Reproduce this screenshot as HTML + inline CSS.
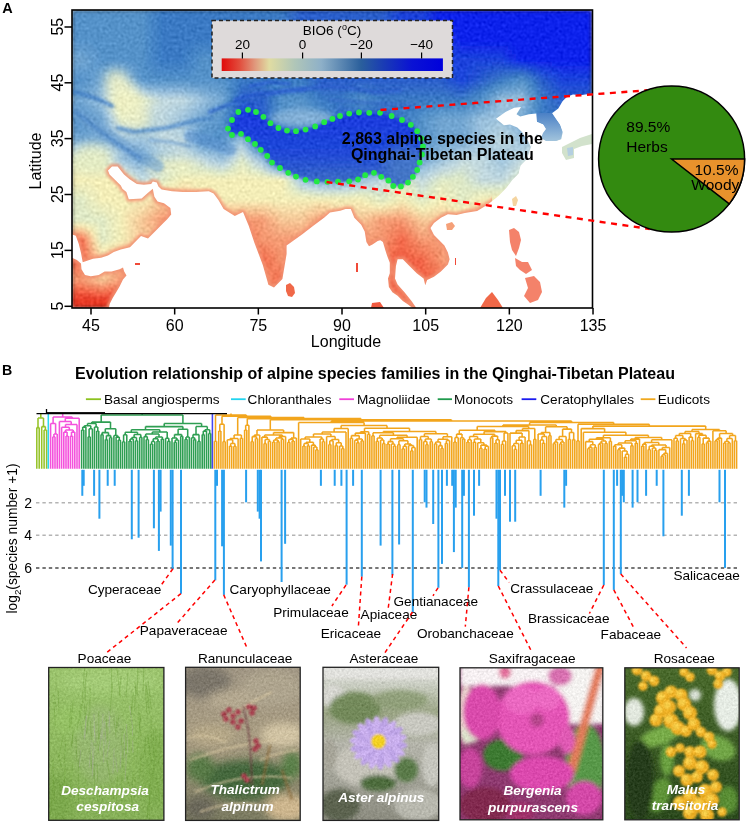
<!DOCTYPE html>
<html><head><meta charset="utf-8"><style>
html,body{margin:0;padding:0;background:#fff;width:750px;height:824px;overflow:hidden}
svg{display:block;will-change:transform}
text{font-family:"Liberation Sans", sans-serif;fill:#000}
</style></head><body>
<svg width="750" height="824" viewBox="0 0 750 824">
<defs>
<clipPath id="mapclip"><rect x="72" y="10" width="520" height="298"/></clipPath>
<linearGradient id="cbar" x1="0" x2="1" y1="0" y2="0"><stop offset="0" stop-color="#e00a0a"/><stop offset="0.08" stop-color="#e24c3c"/><stop offset="0.15" stop-color="#e0987c"/><stop offset="0.215" stop-color="#e0dca2"/><stop offset="0.33" stop-color="#b0c6b8"/><stop offset="0.45" stop-color="#8eb0c8"/><stop offset="0.63" stop-color="#2a5f9c"/><stop offset="0.73" stop-color="#1a3cb4"/><stop offset="0.86" stop-color="#0a12d4"/><stop offset="1" stop-color="#0000dc"/></linearGradient>
<filter id="blur1" x="-5%" y="-5%" width="110%" height="110%"><feGaussianBlur stdDeviation="2.2"/></filter>
</defs>
<g clip-path="url(#mapclip)">
<filter id="fgrain" x="72" y="10" width="520" height="298" filterUnits="userSpaceOnUse" color-interpolation-filters="sRGB"><feTurbulence type="fractalNoise" baseFrequency="0.33" numOctaves="1" seed="4" result="t"/><feColorMatrix in="t" type="matrix" values="0.33 0.33 0.33 0 0  0.33 0.33 0.33 0 0  0.33 0.33 0.33 0 0  0 0 0 0 1" result="tg"/><feComposite in="SourceGraphic" in2="tg" operator="arithmetic" k1="0" k2="1" k3="0.3" k4="-0.15"/></filter>
<g filter="url(#fgrain)">
<g filter="url(#blur1)">
<rect x="72" y="10" width="72" height="4" fill="#5592c9"/>
<rect x="144" y="10" width="4" height="4" fill="#508dc8"/>
<rect x="148" y="10" width="4" height="4" fill="#4a88c7"/>
<rect x="152" y="10" width="4" height="4" fill="#4584c6"/>
<rect x="156" y="10" width="4" height="4" fill="#3f7fc5"/>
<rect x="160" y="10" width="124" height="4" fill="#3a7ac4"/>
<rect x="284" y="10" width="4" height="4" fill="#3774c6"/>
<rect x="288" y="10" width="4" height="4" fill="#346fc7"/>
<rect x="292" y="10" width="4" height="4" fill="#3069c9"/>
<rect x="296" y="10" width="4" height="4" fill="#2d64ca"/>
<rect x="300" y="10" width="84" height="4" fill="#2a5ecc"/>
<rect x="384" y="10" width="4" height="4" fill="#2758cf"/>
<rect x="388" y="10" width="4" height="4" fill="#2453d2"/>
<rect x="392" y="10" width="4" height="4" fill="#224dd6"/>
<rect x="396" y="10" width="4" height="4" fill="#1f48d9"/>
<rect x="400" y="10" width="24" height="4" fill="#1c42dc"/>
<rect x="424" y="10" width="4" height="4" fill="#193cdf"/>
<rect x="428" y="10" width="4" height="4" fill="#1635e2"/>
<rect x="432" y="10" width="4" height="4" fill="#122fe6"/>
<rect x="436" y="10" width="4" height="4" fill="#0f28e9"/>
<rect x="440" y="10" width="152" height="4" fill="#0c22ec"/>
<rect x="72" y="14" width="72" height="4" fill="#5592c9"/>
<rect x="144" y="14" width="4" height="4" fill="#508dc8"/>
<rect x="148" y="14" width="4" height="4" fill="#4a88c7"/>
<rect x="152" y="14" width="4" height="4" fill="#4584c6"/>
<rect x="156" y="14" width="4" height="4" fill="#3f7fc5"/>
<rect x="160" y="14" width="124" height="4" fill="#3a7ac4"/>
<rect x="284" y="14" width="4" height="4" fill="#3774c6"/>
<rect x="288" y="14" width="4" height="4" fill="#346fc7"/>
<rect x="292" y="14" width="4" height="4" fill="#3069c9"/>
<rect x="296" y="14" width="4" height="4" fill="#2d64ca"/>
<rect x="300" y="14" width="84" height="4" fill="#2a5ecc"/>
<rect x="384" y="14" width="4" height="4" fill="#2758cf"/>
<rect x="388" y="14" width="4" height="4" fill="#2453d2"/>
<rect x="392" y="14" width="4" height="4" fill="#224dd6"/>
<rect x="396" y="14" width="4" height="4" fill="#1f48d9"/>
<rect x="400" y="14" width="24" height="4" fill="#1c42dc"/>
<rect x="424" y="14" width="4" height="4" fill="#193cdf"/>
<rect x="428" y="14" width="4" height="4" fill="#1635e2"/>
<rect x="432" y="14" width="4" height="4" fill="#122fe6"/>
<rect x="436" y="14" width="4" height="4" fill="#0f28e9"/>
<rect x="440" y="14" width="152" height="4" fill="#0c22ec"/>
<rect x="72" y="18" width="72" height="4" fill="#5592c9"/>
<rect x="144" y="18" width="4" height="4" fill="#508dc8"/>
<rect x="148" y="18" width="4" height="4" fill="#4a88c7"/>
<rect x="152" y="18" width="4" height="4" fill="#4584c6"/>
<rect x="156" y="18" width="4" height="4" fill="#3f7fc5"/>
<rect x="160" y="18" width="124" height="4" fill="#3a7ac4"/>
<rect x="284" y="18" width="4" height="4" fill="#3774c6"/>
<rect x="288" y="18" width="4" height="4" fill="#346fc7"/>
<rect x="292" y="18" width="4" height="4" fill="#3069c9"/>
<rect x="296" y="18" width="4" height="4" fill="#2d64ca"/>
<rect x="300" y="18" width="84" height="4" fill="#2a5ecc"/>
<rect x="384" y="18" width="4" height="4" fill="#2758cf"/>
<rect x="388" y="18" width="4" height="4" fill="#2453d2"/>
<rect x="392" y="18" width="4" height="4" fill="#224dd6"/>
<rect x="396" y="18" width="4" height="4" fill="#1f48d9"/>
<rect x="400" y="18" width="24" height="4" fill="#1c42dc"/>
<rect x="424" y="18" width="4" height="4" fill="#193cdf"/>
<rect x="428" y="18" width="4" height="4" fill="#1635e2"/>
<rect x="432" y="18" width="4" height="4" fill="#122fe6"/>
<rect x="436" y="18" width="4" height="4" fill="#0f28e9"/>
<rect x="440" y="18" width="152" height="4" fill="#0c22ec"/>
<rect x="72" y="22" width="72" height="4" fill="#5592c9"/>
<rect x="144" y="22" width="4" height="4" fill="#508dc8"/>
<rect x="148" y="22" width="4" height="4" fill="#4a88c7"/>
<rect x="152" y="22" width="4" height="4" fill="#4584c6"/>
<rect x="156" y="22" width="4" height="4" fill="#3f7fc5"/>
<rect x="160" y="22" width="124" height="4" fill="#3a7ac4"/>
<rect x="284" y="22" width="4" height="4" fill="#3774c6"/>
<rect x="288" y="22" width="4" height="4" fill="#346fc7"/>
<rect x="292" y="22" width="4" height="4" fill="#3069c9"/>
<rect x="296" y="22" width="4" height="4" fill="#2d64ca"/>
<rect x="300" y="22" width="72" height="4" fill="#2a5ecc"/>
<rect x="372" y="22" width="12" height="4" fill="#2758cf"/>
<rect x="384" y="22" width="4" height="4" fill="#2453d2"/>
<rect x="388" y="22" width="8" height="4" fill="#224dd6"/>
<rect x="396" y="22" width="4" height="4" fill="#1f48d9"/>
<rect x="400" y="22" width="24" height="4" fill="#1c42dc"/>
<rect x="424" y="22" width="4" height="4" fill="#193cdf"/>
<rect x="428" y="22" width="8" height="4" fill="#1635e2"/>
<rect x="436" y="22" width="4" height="4" fill="#122fe6"/>
<rect x="440" y="22" width="12" height="4" fill="#0f28e9"/>
<rect x="452" y="22" width="140" height="4" fill="#0c22ec"/>
<rect x="72" y="26" width="72" height="4" fill="#5592c9"/>
<rect x="144" y="26" width="4" height="4" fill="#508dc8"/>
<rect x="148" y="26" width="4" height="4" fill="#4a88c7"/>
<rect x="152" y="26" width="4" height="4" fill="#4584c6"/>
<rect x="156" y="26" width="4" height="4" fill="#3f7fc5"/>
<rect x="160" y="26" width="124" height="4" fill="#3a7ac4"/>
<rect x="284" y="26" width="4" height="4" fill="#3774c6"/>
<rect x="288" y="26" width="4" height="4" fill="#346fc7"/>
<rect x="292" y="26" width="4" height="4" fill="#3069c9"/>
<rect x="296" y="26" width="4" height="4" fill="#2d64ca"/>
<rect x="300" y="26" width="68" height="4" fill="#2a5ecc"/>
<rect x="368" y="26" width="8" height="4" fill="#2758cf"/>
<rect x="376" y="26" width="8" height="4" fill="#2453d2"/>
<rect x="384" y="26" width="8" height="4" fill="#224dd6"/>
<rect x="392" y="26" width="8" height="4" fill="#1f48d9"/>
<rect x="400" y="26" width="24" height="4" fill="#1c42dc"/>
<rect x="424" y="26" width="8" height="4" fill="#193cdf"/>
<rect x="432" y="26" width="8" height="4" fill="#1635e2"/>
<rect x="440" y="26" width="8" height="4" fill="#122fe6"/>
<rect x="448" y="26" width="8" height="4" fill="#0f28e9"/>
<rect x="456" y="26" width="136" height="4" fill="#0c22ec"/>
<rect x="72" y="30" width="72" height="4" fill="#5592c9"/>
<rect x="144" y="30" width="4" height="4" fill="#508dc8"/>
<rect x="148" y="30" width="4" height="4" fill="#4a88c7"/>
<rect x="152" y="30" width="4" height="4" fill="#4584c6"/>
<rect x="156" y="30" width="4" height="4" fill="#3f7fc5"/>
<rect x="160" y="30" width="124" height="4" fill="#3a7ac4"/>
<rect x="284" y="30" width="4" height="4" fill="#3774c6"/>
<rect x="288" y="30" width="4" height="4" fill="#346fc7"/>
<rect x="292" y="30" width="4" height="4" fill="#3069c9"/>
<rect x="296" y="30" width="4" height="4" fill="#2d64ca"/>
<rect x="300" y="30" width="64" height="4" fill="#2a5ecc"/>
<rect x="364" y="30" width="8" height="4" fill="#2758cf"/>
<rect x="372" y="30" width="8" height="4" fill="#2453d2"/>
<rect x="380" y="30" width="8" height="4" fill="#224dd6"/>
<rect x="388" y="30" width="8" height="4" fill="#1f48d9"/>
<rect x="396" y="30" width="32" height="4" fill="#1c42dc"/>
<rect x="428" y="30" width="8" height="4" fill="#193cdf"/>
<rect x="436" y="30" width="8" height="4" fill="#1635e2"/>
<rect x="444" y="30" width="8" height="4" fill="#122fe6"/>
<rect x="452" y="30" width="8" height="4" fill="#0f28e9"/>
<rect x="460" y="30" width="132" height="4" fill="#0c22ec"/>
<rect x="72" y="34" width="72" height="4" fill="#5592c9"/>
<rect x="144" y="34" width="4" height="4" fill="#508dc8"/>
<rect x="148" y="34" width="4" height="4" fill="#4a88c7"/>
<rect x="152" y="34" width="4" height="4" fill="#4584c6"/>
<rect x="156" y="34" width="4" height="4" fill="#3f7fc5"/>
<rect x="160" y="34" width="124" height="4" fill="#3a7ac4"/>
<rect x="284" y="34" width="4" height="4" fill="#3774c6"/>
<rect x="288" y="34" width="4" height="4" fill="#346fc7"/>
<rect x="292" y="34" width="4" height="4" fill="#3069c9"/>
<rect x="296" y="34" width="4" height="4" fill="#2d64ca"/>
<rect x="300" y="34" width="64" height="4" fill="#2a5ecc"/>
<rect x="364" y="34" width="4" height="4" fill="#2758cf"/>
<rect x="368" y="34" width="8" height="4" fill="#2453d2"/>
<rect x="376" y="34" width="4" height="4" fill="#224dd6"/>
<rect x="380" y="34" width="12" height="4" fill="#1f48d9"/>
<rect x="392" y="34" width="40" height="4" fill="#1c42dc"/>
<rect x="432" y="34" width="12" height="4" fill="#193cdf"/>
<rect x="444" y="34" width="4" height="4" fill="#1635e2"/>
<rect x="448" y="34" width="8" height="4" fill="#122fe6"/>
<rect x="456" y="34" width="4" height="4" fill="#0f28e9"/>
<rect x="460" y="34" width="132" height="4" fill="#0c22ec"/>
<rect x="72" y="38" width="72" height="4" fill="#5592c9"/>
<rect x="144" y="38" width="4" height="4" fill="#508dc8"/>
<rect x="148" y="38" width="4" height="4" fill="#4a88c7"/>
<rect x="152" y="38" width="4" height="4" fill="#4584c6"/>
<rect x="156" y="38" width="4" height="4" fill="#3f7fc5"/>
<rect x="160" y="38" width="124" height="4" fill="#3a7ac4"/>
<rect x="284" y="38" width="4" height="4" fill="#3774c6"/>
<rect x="288" y="38" width="4" height="4" fill="#346fc7"/>
<rect x="292" y="38" width="4" height="4" fill="#3069c9"/>
<rect x="296" y="38" width="4" height="4" fill="#2d64ca"/>
<rect x="300" y="38" width="64" height="4" fill="#2a5ecc"/>
<rect x="364" y="38" width="4" height="4" fill="#2758cf"/>
<rect x="368" y="38" width="4" height="4" fill="#2453d2"/>
<rect x="372" y="38" width="4" height="4" fill="#224dd6"/>
<rect x="376" y="38" width="4" height="4" fill="#1f48d9"/>
<rect x="380" y="38" width="64" height="4" fill="#1c42dc"/>
<rect x="444" y="38" width="4" height="4" fill="#193cdf"/>
<rect x="448" y="38" width="4" height="4" fill="#1635e2"/>
<rect x="452" y="38" width="4" height="4" fill="#122fe6"/>
<rect x="456" y="38" width="4" height="4" fill="#0f28e9"/>
<rect x="460" y="38" width="132" height="4" fill="#0c22ec"/>
<rect x="72" y="42" width="20" height="4" fill="#5b96cb"/>
<rect x="92" y="42" width="52" height="4" fill="#5592c9"/>
<rect x="144" y="42" width="4" height="4" fill="#508dc8"/>
<rect x="148" y="42" width="4" height="4" fill="#4a88c7"/>
<rect x="152" y="42" width="4" height="4" fill="#4584c6"/>
<rect x="156" y="42" width="4" height="4" fill="#3f7fc5"/>
<rect x="160" y="42" width="32" height="4" fill="#3a7ac4"/>
<rect x="192" y="42" width="40" height="4" fill="#3f7fc5"/>
<rect x="232" y="42" width="52" height="4" fill="#3a7ac4"/>
<rect x="284" y="42" width="4" height="4" fill="#3774c6"/>
<rect x="288" y="42" width="8" height="4" fill="#346fc7"/>
<rect x="296" y="42" width="4" height="4" fill="#3069c9"/>
<rect x="300" y="42" width="32" height="4" fill="#2d64ca"/>
<rect x="332" y="42" width="32" height="4" fill="#2a5ecc"/>
<rect x="364" y="42" width="4" height="4" fill="#2758cf"/>
<rect x="368" y="42" width="8" height="4" fill="#2453d2"/>
<rect x="376" y="42" width="4" height="4" fill="#224dd6"/>
<rect x="380" y="42" width="32" height="4" fill="#1f48d9"/>
<rect x="412" y="42" width="32" height="4" fill="#1c42dc"/>
<rect x="444" y="42" width="4" height="4" fill="#193cdf"/>
<rect x="448" y="42" width="8" height="4" fill="#1635e2"/>
<rect x="456" y="42" width="4" height="4" fill="#122fe6"/>
<rect x="460" y="42" width="52" height="4" fill="#0f28e9"/>
<rect x="512" y="42" width="80" height="4" fill="#0c22ec"/>
<rect x="72" y="46" width="16" height="4" fill="#619acd"/>
<rect x="88" y="46" width="8" height="4" fill="#5b96cb"/>
<rect x="96" y="46" width="48" height="4" fill="#5592c9"/>
<rect x="144" y="46" width="4" height="4" fill="#508dc8"/>
<rect x="148" y="46" width="4" height="4" fill="#4a88c7"/>
<rect x="152" y="46" width="4" height="4" fill="#4584c6"/>
<rect x="156" y="46" width="4" height="4" fill="#3f7fc5"/>
<rect x="160" y="46" width="28" height="4" fill="#3a7ac4"/>
<rect x="188" y="46" width="8" height="4" fill="#3f7fc5"/>
<rect x="196" y="46" width="32" height="4" fill="#4584c6"/>
<rect x="228" y="46" width="8" height="4" fill="#3f7fc5"/>
<rect x="236" y="46" width="48" height="4" fill="#3a7ac4"/>
<rect x="284" y="46" width="8" height="4" fill="#3774c6"/>
<rect x="292" y="46" width="8" height="4" fill="#346fc7"/>
<rect x="300" y="46" width="28" height="4" fill="#3069c9"/>
<rect x="328" y="46" width="8" height="4" fill="#2d64ca"/>
<rect x="336" y="46" width="28" height="4" fill="#2a5ecc"/>
<rect x="364" y="46" width="8" height="4" fill="#2758cf"/>
<rect x="372" y="46" width="8" height="4" fill="#2453d2"/>
<rect x="380" y="46" width="28" height="4" fill="#224dd6"/>
<rect x="408" y="46" width="8" height="4" fill="#1f48d9"/>
<rect x="416" y="46" width="28" height="4" fill="#1c42dc"/>
<rect x="444" y="46" width="8" height="4" fill="#193cdf"/>
<rect x="452" y="46" width="8" height="4" fill="#1635e2"/>
<rect x="460" y="46" width="48" height="4" fill="#122fe6"/>
<rect x="508" y="46" width="8" height="4" fill="#0f28e9"/>
<rect x="516" y="46" width="76" height="4" fill="#0c22ec"/>
<rect x="72" y="50" width="12" height="4" fill="#669ece"/>
<rect x="84" y="50" width="8" height="4" fill="#619acd"/>
<rect x="92" y="50" width="8" height="4" fill="#5b96cb"/>
<rect x="100" y="50" width="44" height="4" fill="#5592c9"/>
<rect x="144" y="50" width="4" height="4" fill="#508dc8"/>
<rect x="148" y="50" width="4" height="4" fill="#4a88c7"/>
<rect x="152" y="50" width="4" height="4" fill="#4584c6"/>
<rect x="156" y="50" width="4" height="4" fill="#3f7fc5"/>
<rect x="160" y="50" width="24" height="4" fill="#3a7ac4"/>
<rect x="184" y="50" width="8" height="4" fill="#3f7fc5"/>
<rect x="192" y="50" width="8" height="4" fill="#4584c6"/>
<rect x="200" y="50" width="24" height="4" fill="#4a88c7"/>
<rect x="224" y="50" width="8" height="4" fill="#4584c6"/>
<rect x="232" y="50" width="8" height="4" fill="#3f7fc5"/>
<rect x="240" y="50" width="48" height="4" fill="#3a7ac4"/>
<rect x="288" y="50" width="8" height="4" fill="#3774c6"/>
<rect x="296" y="50" width="28" height="4" fill="#346fc7"/>
<rect x="324" y="50" width="8" height="4" fill="#3069c9"/>
<rect x="332" y="50" width="8" height="4" fill="#2d64ca"/>
<rect x="340" y="50" width="28" height="4" fill="#2a5ecc"/>
<rect x="368" y="50" width="8" height="4" fill="#2758cf"/>
<rect x="376" y="50" width="28" height="4" fill="#2453d2"/>
<rect x="404" y="50" width="8" height="4" fill="#224dd6"/>
<rect x="412" y="50" width="8" height="4" fill="#1f48d9"/>
<rect x="420" y="50" width="28" height="4" fill="#1c42dc"/>
<rect x="448" y="50" width="8" height="4" fill="#193cdf"/>
<rect x="456" y="50" width="48" height="4" fill="#1635e2"/>
<rect x="504" y="50" width="8" height="4" fill="#122fe6"/>
<rect x="512" y="50" width="8" height="4" fill="#0f28e9"/>
<rect x="520" y="50" width="72" height="4" fill="#0c22ec"/>
<rect x="72" y="54" width="12" height="4" fill="#6ca2d0"/>
<rect x="84" y="54" width="4" height="4" fill="#669ece"/>
<rect x="88" y="54" width="8" height="4" fill="#619acd"/>
<rect x="96" y="54" width="4" height="4" fill="#5b96cb"/>
<rect x="100" y="54" width="44" height="4" fill="#5592c9"/>
<rect x="144" y="54" width="4" height="4" fill="#508dc8"/>
<rect x="148" y="54" width="4" height="4" fill="#4a88c7"/>
<rect x="152" y="54" width="4" height="4" fill="#4584c6"/>
<rect x="156" y="54" width="4" height="4" fill="#3f7fc5"/>
<rect x="160" y="54" width="24" height="4" fill="#3a7ac4"/>
<rect x="184" y="54" width="4" height="4" fill="#3f7fc5"/>
<rect x="188" y="54" width="8" height="4" fill="#4584c6"/>
<rect x="196" y="54" width="4" height="4" fill="#4a88c7"/>
<rect x="200" y="54" width="24" height="4" fill="#508dc8"/>
<rect x="224" y="54" width="4" height="4" fill="#4a88c7"/>
<rect x="228" y="54" width="8" height="4" fill="#4584c6"/>
<rect x="236" y="54" width="4" height="4" fill="#3f7fc5"/>
<rect x="240" y="54" width="52" height="4" fill="#3a7ac4"/>
<rect x="292" y="54" width="32" height="4" fill="#3774c6"/>
<rect x="324" y="54" width="4" height="4" fill="#346fc7"/>
<rect x="328" y="54" width="8" height="4" fill="#3069c9"/>
<rect x="336" y="54" width="4" height="4" fill="#2d64ca"/>
<rect x="340" y="54" width="32" height="4" fill="#2a5ecc"/>
<rect x="372" y="54" width="32" height="4" fill="#2758cf"/>
<rect x="404" y="54" width="4" height="4" fill="#2453d2"/>
<rect x="408" y="54" width="8" height="4" fill="#224dd6"/>
<rect x="416" y="54" width="4" height="4" fill="#1f48d9"/>
<rect x="420" y="54" width="32" height="4" fill="#1c42dc"/>
<rect x="452" y="54" width="52" height="4" fill="#193cdf"/>
<rect x="504" y="54" width="4" height="4" fill="#1635e2"/>
<rect x="508" y="54" width="8" height="4" fill="#122fe6"/>
<rect x="516" y="54" width="4" height="4" fill="#0f28e9"/>
<rect x="520" y="54" width="72" height="4" fill="#0c22ec"/>
<rect x="72" y="58" width="12" height="4" fill="#72a6d2"/>
<rect x="84" y="58" width="4" height="4" fill="#6ca2d0"/>
<rect x="88" y="58" width="4" height="4" fill="#669ece"/>
<rect x="92" y="58" width="4" height="4" fill="#619acd"/>
<rect x="96" y="58" width="4" height="4" fill="#5b96cb"/>
<rect x="100" y="58" width="44" height="4" fill="#5592c9"/>
<rect x="144" y="58" width="4" height="4" fill="#508dc8"/>
<rect x="148" y="58" width="4" height="4" fill="#4a88c7"/>
<rect x="152" y="58" width="4" height="4" fill="#4584c6"/>
<rect x="156" y="58" width="4" height="4" fill="#3f7fc5"/>
<rect x="160" y="58" width="24" height="4" fill="#3a7ac4"/>
<rect x="184" y="58" width="4" height="4" fill="#3f7fc5"/>
<rect x="188" y="58" width="4" height="4" fill="#4584c6"/>
<rect x="192" y="58" width="4" height="4" fill="#4a88c7"/>
<rect x="196" y="58" width="4" height="4" fill="#508dc8"/>
<rect x="200" y="58" width="24" height="4" fill="#5592c9"/>
<rect x="224" y="58" width="4" height="4" fill="#508dc8"/>
<rect x="228" y="58" width="4" height="4" fill="#4a88c7"/>
<rect x="232" y="58" width="4" height="4" fill="#4584c6"/>
<rect x="236" y="58" width="4" height="4" fill="#3f7fc5"/>
<rect x="240" y="58" width="84" height="4" fill="#3a7ac4"/>
<rect x="324" y="58" width="4" height="4" fill="#3774c6"/>
<rect x="328" y="58" width="4" height="4" fill="#346fc7"/>
<rect x="332" y="58" width="4" height="4" fill="#3069c9"/>
<rect x="336" y="58" width="4" height="4" fill="#2d64ca"/>
<rect x="340" y="58" width="64" height="4" fill="#2a5ecc"/>
<rect x="404" y="58" width="4" height="4" fill="#2758cf"/>
<rect x="408" y="58" width="4" height="4" fill="#2453d2"/>
<rect x="412" y="58" width="4" height="4" fill="#224dd6"/>
<rect x="416" y="58" width="4" height="4" fill="#1f48d9"/>
<rect x="420" y="58" width="84" height="4" fill="#1c42dc"/>
<rect x="504" y="58" width="4" height="4" fill="#193cdf"/>
<rect x="508" y="58" width="4" height="4" fill="#1635e2"/>
<rect x="512" y="58" width="4" height="4" fill="#122fe6"/>
<rect x="516" y="58" width="4" height="4" fill="#0f28e9"/>
<rect x="520" y="58" width="72" height="4" fill="#0c22ec"/>
<rect x="72" y="62" width="12" height="4" fill="#6ca2d0"/>
<rect x="84" y="62" width="8" height="4" fill="#669ece"/>
<rect x="92" y="62" width="8" height="4" fill="#619acd"/>
<rect x="100" y="62" width="12" height="4" fill="#5b96cb"/>
<rect x="112" y="62" width="16" height="4" fill="#619acd"/>
<rect x="128" y="62" width="8" height="4" fill="#5b96cb"/>
<rect x="136" y="62" width="8" height="4" fill="#5592c9"/>
<rect x="144" y="62" width="4" height="4" fill="#508dc8"/>
<rect x="148" y="62" width="8" height="4" fill="#4a88c7"/>
<rect x="156" y="62" width="4" height="4" fill="#4584c6"/>
<rect x="160" y="62" width="24" height="4" fill="#3f7fc5"/>
<rect x="184" y="62" width="4" height="4" fill="#4584c6"/>
<rect x="188" y="62" width="8" height="4" fill="#4a88c7"/>
<rect x="196" y="62" width="4" height="4" fill="#508dc8"/>
<rect x="200" y="62" width="24" height="4" fill="#5592c9"/>
<rect x="224" y="62" width="4" height="4" fill="#508dc8"/>
<rect x="228" y="62" width="4" height="4" fill="#4a88c7"/>
<rect x="232" y="62" width="4" height="4" fill="#4584c6"/>
<rect x="236" y="62" width="4" height="4" fill="#3f7fc5"/>
<rect x="240" y="62" width="72" height="4" fill="#3a7ac4"/>
<rect x="312" y="62" width="12" height="4" fill="#3774c6"/>
<rect x="324" y="62" width="4" height="4" fill="#346fc7"/>
<rect x="328" y="62" width="8" height="4" fill="#3069c9"/>
<rect x="336" y="62" width="4" height="4" fill="#2d64ca"/>
<rect x="340" y="62" width="64" height="4" fill="#2a5ecc"/>
<rect x="404" y="62" width="4" height="4" fill="#2758cf"/>
<rect x="408" y="62" width="8" height="4" fill="#2453d2"/>
<rect x="416" y="62" width="4" height="4" fill="#224dd6"/>
<rect x="420" y="62" width="32" height="4" fill="#1f48d9"/>
<rect x="452" y="62" width="20" height="4" fill="#1c42dc"/>
<rect x="472" y="62" width="20" height="4" fill="#1f48d9"/>
<rect x="492" y="62" width="12" height="4" fill="#224dd6"/>
<rect x="504" y="62" width="8" height="4" fill="#1f48d9"/>
<rect x="512" y="62" width="8" height="4" fill="#1c42dc"/>
<rect x="520" y="62" width="8" height="4" fill="#193cdf"/>
<rect x="528" y="62" width="8" height="4" fill="#1635e2"/>
<rect x="536" y="62" width="16" height="4" fill="#122fe6"/>
<rect x="552" y="62" width="40" height="4" fill="#0f28e9"/>
<rect x="72" y="66" width="20" height="4" fill="#669ece"/>
<rect x="92" y="66" width="16" height="4" fill="#619acd"/>
<rect x="108" y="66" width="8" height="4" fill="#669ece"/>
<rect x="116" y="66" width="8" height="4" fill="#6ca2d0"/>
<rect x="124" y="66" width="4" height="4" fill="#669ece"/>
<rect x="128" y="66" width="8" height="4" fill="#619acd"/>
<rect x="136" y="66" width="4" height="4" fill="#5b96cb"/>
<rect x="140" y="66" width="4" height="4" fill="#5592c9"/>
<rect x="144" y="66" width="8" height="4" fill="#508dc8"/>
<rect x="152" y="66" width="8" height="4" fill="#4a88c7"/>
<rect x="160" y="66" width="24" height="4" fill="#4584c6"/>
<rect x="184" y="66" width="8" height="4" fill="#4a88c7"/>
<rect x="192" y="66" width="8" height="4" fill="#508dc8"/>
<rect x="200" y="66" width="24" height="4" fill="#5592c9"/>
<rect x="224" y="66" width="4" height="4" fill="#508dc8"/>
<rect x="228" y="66" width="4" height="4" fill="#4a88c7"/>
<rect x="232" y="66" width="4" height="4" fill="#4584c6"/>
<rect x="236" y="66" width="4" height="4" fill="#3f7fc5"/>
<rect x="240" y="66" width="68" height="4" fill="#3a7ac4"/>
<rect x="308" y="66" width="8" height="4" fill="#3774c6"/>
<rect x="316" y="66" width="8" height="4" fill="#346fc7"/>
<rect x="324" y="66" width="8" height="4" fill="#3069c9"/>
<rect x="332" y="66" width="8" height="4" fill="#2d64ca"/>
<rect x="340" y="66" width="64" height="4" fill="#2a5ecc"/>
<rect x="404" y="66" width="8" height="4" fill="#2758cf"/>
<rect x="412" y="66" width="8" height="4" fill="#2453d2"/>
<rect x="420" y="66" width="28" height="4" fill="#224dd6"/>
<rect x="448" y="66" width="8" height="4" fill="#1f48d9"/>
<rect x="456" y="66" width="12" height="4" fill="#1c42dc"/>
<rect x="468" y="66" width="8" height="4" fill="#1f48d9"/>
<rect x="476" y="66" width="12" height="4" fill="#224dd6"/>
<rect x="488" y="66" width="8" height="4" fill="#2453d2"/>
<rect x="496" y="66" width="16" height="4" fill="#2758cf"/>
<rect x="512" y="66" width="12" height="4" fill="#2453d2"/>
<rect x="524" y="66" width="4" height="4" fill="#224dd6"/>
<rect x="528" y="66" width="8" height="4" fill="#1f48d9"/>
<rect x="536" y="66" width="4" height="4" fill="#1c42dc"/>
<rect x="540" y="66" width="8" height="4" fill="#193cdf"/>
<rect x="548" y="66" width="8" height="4" fill="#1635e2"/>
<rect x="556" y="66" width="36" height="4" fill="#122fe6"/>
<rect x="72" y="70" width="20" height="4" fill="#619acd"/>
<rect x="92" y="70" width="12" height="4" fill="#669ece"/>
<rect x="104" y="70" width="8" height="4" fill="#6ca2d0"/>
<rect x="112" y="70" width="8" height="4" fill="#72a6d2"/>
<rect x="120" y="70" width="4" height="4" fill="#7aacd4"/>
<rect x="124" y="70" width="4" height="4" fill="#72a6d2"/>
<rect x="128" y="70" width="4" height="4" fill="#6ca2d0"/>
<rect x="132" y="70" width="4" height="4" fill="#619acd"/>
<rect x="136" y="70" width="4" height="4" fill="#5b96cb"/>
<rect x="140" y="70" width="8" height="4" fill="#5592c9"/>
<rect x="148" y="70" width="8" height="4" fill="#508dc8"/>
<rect x="156" y="70" width="32" height="4" fill="#4a88c7"/>
<rect x="188" y="70" width="8" height="4" fill="#508dc8"/>
<rect x="196" y="70" width="28" height="4" fill="#5592c9"/>
<rect x="224" y="70" width="4" height="4" fill="#508dc8"/>
<rect x="228" y="70" width="4" height="4" fill="#4a88c7"/>
<rect x="232" y="70" width="4" height="4" fill="#4584c6"/>
<rect x="236" y="70" width="4" height="4" fill="#3f7fc5"/>
<rect x="240" y="70" width="64" height="4" fill="#3a7ac4"/>
<rect x="304" y="70" width="8" height="4" fill="#3774c6"/>
<rect x="312" y="70" width="8" height="4" fill="#346fc7"/>
<rect x="320" y="70" width="8" height="4" fill="#3069c9"/>
<rect x="328" y="70" width="8" height="4" fill="#2d64ca"/>
<rect x="336" y="70" width="72" height="4" fill="#2a5ecc"/>
<rect x="408" y="70" width="8" height="4" fill="#2758cf"/>
<rect x="416" y="70" width="28" height="4" fill="#2453d2"/>
<rect x="444" y="70" width="8" height="4" fill="#224dd6"/>
<rect x="452" y="70" width="8" height="4" fill="#1f48d9"/>
<rect x="460" y="70" width="4" height="4" fill="#1c42dc"/>
<rect x="464" y="70" width="8" height="4" fill="#1f48d9"/>
<rect x="472" y="70" width="8" height="4" fill="#224dd6"/>
<rect x="480" y="70" width="4" height="4" fill="#2453d2"/>
<rect x="484" y="70" width="8" height="4" fill="#2758cf"/>
<rect x="492" y="70" width="8" height="4" fill="#2a5ecc"/>
<rect x="500" y="70" width="12" height="4" fill="#2d64ca"/>
<rect x="512" y="70" width="12" height="4" fill="#3069c9"/>
<rect x="524" y="70" width="4" height="4" fill="#2d64ca"/>
<rect x="528" y="70" width="4" height="4" fill="#2a5ecc"/>
<rect x="532" y="70" width="4" height="4" fill="#2453d2"/>
<rect x="536" y="70" width="4" height="4" fill="#224dd6"/>
<rect x="540" y="70" width="4" height="4" fill="#1f48d9"/>
<rect x="544" y="70" width="8" height="4" fill="#1c42dc"/>
<rect x="552" y="70" width="8" height="4" fill="#193cdf"/>
<rect x="560" y="70" width="32" height="4" fill="#1635e2"/>
<rect x="72" y="74" width="12" height="4" fill="#5b96cb"/>
<rect x="84" y="74" width="8" height="4" fill="#619acd"/>
<rect x="92" y="74" width="8" height="4" fill="#669ece"/>
<rect x="100" y="74" width="4" height="4" fill="#6ca2d0"/>
<rect x="104" y="74" width="4" height="4" fill="#72a6d2"/>
<rect x="108" y="74" width="8" height="4" fill="#7aacd4"/>
<rect x="116" y="74" width="4" height="4" fill="#83b1d6"/>
<rect x="120" y="74" width="4" height="4" fill="#8bb7d9"/>
<rect x="124" y="74" width="4" height="4" fill="#7aacd4"/>
<rect x="128" y="74" width="4" height="4" fill="#72a6d2"/>
<rect x="132" y="74" width="4" height="4" fill="#669ece"/>
<rect x="136" y="74" width="4" height="4" fill="#619acd"/>
<rect x="140" y="74" width="12" height="4" fill="#5592c9"/>
<rect x="152" y="74" width="40" height="4" fill="#508dc8"/>
<rect x="192" y="74" width="32" height="4" fill="#5592c9"/>
<rect x="224" y="74" width="4" height="4" fill="#508dc8"/>
<rect x="228" y="74" width="4" height="4" fill="#4a88c7"/>
<rect x="232" y="74" width="4" height="4" fill="#4584c6"/>
<rect x="236" y="74" width="4" height="4" fill="#3f7fc5"/>
<rect x="240" y="74" width="64" height="4" fill="#3a7ac4"/>
<rect x="304" y="74" width="4" height="4" fill="#3774c6"/>
<rect x="308" y="74" width="8" height="4" fill="#346fc7"/>
<rect x="316" y="74" width="4" height="4" fill="#3069c9"/>
<rect x="320" y="74" width="12" height="4" fill="#2d64ca"/>
<rect x="332" y="74" width="80" height="4" fill="#2a5ecc"/>
<rect x="412" y="74" width="32" height="4" fill="#2758cf"/>
<rect x="444" y="74" width="4" height="4" fill="#2453d2"/>
<rect x="448" y="74" width="8" height="4" fill="#224dd6"/>
<rect x="456" y="74" width="4" height="4" fill="#1f48d9"/>
<rect x="460" y="74" width="4" height="4" fill="#1c42dc"/>
<rect x="464" y="74" width="4" height="4" fill="#1f48d9"/>
<rect x="468" y="74" width="8" height="4" fill="#224dd6"/>
<rect x="476" y="74" width="4" height="4" fill="#2453d2"/>
<rect x="480" y="74" width="4" height="4" fill="#2758cf"/>
<rect x="484" y="74" width="4" height="4" fill="#2a5ecc"/>
<rect x="488" y="74" width="8" height="4" fill="#2d64ca"/>
<rect x="496" y="74" width="4" height="4" fill="#3069c9"/>
<rect x="500" y="74" width="4" height="4" fill="#346fc7"/>
<rect x="504" y="74" width="8" height="4" fill="#3774c6"/>
<rect x="512" y="74" width="8" height="4" fill="#3a7ac4"/>
<rect x="520" y="74" width="4" height="4" fill="#3f7fc5"/>
<rect x="524" y="74" width="4" height="4" fill="#3774c6"/>
<rect x="528" y="74" width="4" height="4" fill="#346fc7"/>
<rect x="532" y="74" width="4" height="4" fill="#2d64ca"/>
<rect x="536" y="74" width="4" height="4" fill="#2a5ecc"/>
<rect x="540" y="74" width="4" height="4" fill="#2453d2"/>
<rect x="544" y="74" width="4" height="4" fill="#224dd6"/>
<rect x="548" y="74" width="8" height="4" fill="#1f48d9"/>
<rect x="556" y="74" width="4" height="4" fill="#1c42dc"/>
<rect x="560" y="74" width="32" height="4" fill="#193cdf"/>
<rect x="72" y="78" width="12" height="4" fill="#5592c9"/>
<rect x="84" y="78" width="4" height="4" fill="#5b96cb"/>
<rect x="88" y="78" width="4" height="4" fill="#619acd"/>
<rect x="92" y="78" width="4" height="4" fill="#669ece"/>
<rect x="96" y="78" width="4" height="4" fill="#6ca2d0"/>
<rect x="100" y="78" width="4" height="4" fill="#72a6d2"/>
<rect x="104" y="78" width="4" height="4" fill="#7aacd4"/>
<rect x="108" y="78" width="4" height="4" fill="#83b1d6"/>
<rect x="112" y="78" width="4" height="4" fill="#8bb7d9"/>
<rect x="116" y="78" width="4" height="4" fill="#94bcdb"/>
<rect x="120" y="78" width="4" height="4" fill="#9cc2dd"/>
<rect x="124" y="78" width="4" height="4" fill="#8bb7d9"/>
<rect x="128" y="78" width="4" height="4" fill="#7aacd4"/>
<rect x="132" y="78" width="4" height="4" fill="#6ca2d0"/>
<rect x="136" y="78" width="4" height="4" fill="#619acd"/>
<rect x="140" y="78" width="84" height="4" fill="#5592c9"/>
<rect x="224" y="78" width="4" height="4" fill="#508dc8"/>
<rect x="228" y="78" width="4" height="4" fill="#4a88c7"/>
<rect x="232" y="78" width="4" height="4" fill="#4584c6"/>
<rect x="236" y="78" width="4" height="4" fill="#3f7fc5"/>
<rect x="240" y="78" width="64" height="4" fill="#3a7ac4"/>
<rect x="304" y="78" width="4" height="4" fill="#3774c6"/>
<rect x="308" y="78" width="4" height="4" fill="#346fc7"/>
<rect x="312" y="78" width="4" height="4" fill="#3069c9"/>
<rect x="316" y="78" width="4" height="4" fill="#2d64ca"/>
<rect x="320" y="78" width="124" height="4" fill="#2a5ecc"/>
<rect x="444" y="78" width="4" height="4" fill="#2758cf"/>
<rect x="448" y="78" width="4" height="4" fill="#2453d2"/>
<rect x="452" y="78" width="4" height="4" fill="#224dd6"/>
<rect x="456" y="78" width="4" height="4" fill="#1f48d9"/>
<rect x="460" y="78" width="4" height="4" fill="#1c42dc"/>
<rect x="464" y="78" width="4" height="4" fill="#1f48d9"/>
<rect x="468" y="78" width="4" height="4" fill="#224dd6"/>
<rect x="472" y="78" width="4" height="4" fill="#2453d2"/>
<rect x="476" y="78" width="4" height="4" fill="#2758cf"/>
<rect x="480" y="78" width="4" height="4" fill="#2a5ecc"/>
<rect x="484" y="78" width="4" height="4" fill="#2d64ca"/>
<rect x="488" y="78" width="4" height="4" fill="#3069c9"/>
<rect x="492" y="78" width="4" height="4" fill="#346fc7"/>
<rect x="496" y="78" width="4" height="4" fill="#3774c6"/>
<rect x="500" y="78" width="4" height="4" fill="#3a7ac4"/>
<rect x="504" y="78" width="4" height="4" fill="#3f7fc5"/>
<rect x="508" y="78" width="4" height="4" fill="#4584c6"/>
<rect x="512" y="78" width="4" height="4" fill="#4a88c7"/>
<rect x="516" y="78" width="4" height="4" fill="#508dc8"/>
<rect x="520" y="78" width="4" height="4" fill="#5592c9"/>
<rect x="524" y="78" width="4" height="4" fill="#4a88c7"/>
<rect x="528" y="78" width="4" height="4" fill="#3f7fc5"/>
<rect x="532" y="78" width="4" height="4" fill="#3774c6"/>
<rect x="536" y="78" width="4" height="4" fill="#3069c9"/>
<rect x="540" y="78" width="4" height="4" fill="#2a5ecc"/>
<rect x="544" y="78" width="4" height="4" fill="#2758cf"/>
<rect x="548" y="78" width="4" height="4" fill="#2453d2"/>
<rect x="552" y="78" width="4" height="4" fill="#224dd6"/>
<rect x="556" y="78" width="4" height="4" fill="#1f48d9"/>
<rect x="560" y="78" width="32" height="4" fill="#1c42dc"/>
<rect x="72" y="82" width="12" height="4" fill="#5b96cb"/>
<rect x="84" y="82" width="4" height="4" fill="#619acd"/>
<rect x="88" y="82" width="4" height="4" fill="#669ece"/>
<rect x="92" y="82" width="4" height="4" fill="#6ca2d0"/>
<rect x="96" y="82" width="4" height="4" fill="#72a6d2"/>
<rect x="100" y="82" width="4" height="4" fill="#7aacd4"/>
<rect x="104" y="82" width="4" height="4" fill="#83b1d6"/>
<rect x="108" y="82" width="4" height="4" fill="#94bcdb"/>
<rect x="112" y="82" width="4" height="4" fill="#9cc2dd"/>
<rect x="116" y="82" width="4" height="4" fill="#abcbde"/>
<rect x="120" y="82" width="4" height="4" fill="#b3d0de"/>
<rect x="124" y="82" width="4" height="4" fill="#a4c7dd"/>
<rect x="128" y="82" width="4" height="4" fill="#94bcdb"/>
<rect x="132" y="82" width="4" height="4" fill="#8bb7d9"/>
<rect x="136" y="82" width="4" height="4" fill="#7aacd4"/>
<rect x="140" y="82" width="12" height="4" fill="#6ca2d0"/>
<rect x="152" y="82" width="40" height="4" fill="#669ece"/>
<rect x="192" y="82" width="20" height="4" fill="#619acd"/>
<rect x="212" y="82" width="12" height="4" fill="#5b96cb"/>
<rect x="224" y="82" width="4" height="4" fill="#5592c9"/>
<rect x="228" y="82" width="4" height="4" fill="#4a88c7"/>
<rect x="232" y="82" width="4" height="4" fill="#4584c6"/>
<rect x="236" y="82" width="4" height="4" fill="#3a7ac4"/>
<rect x="240" y="82" width="28" height="4" fill="#3774c6"/>
<rect x="268" y="82" width="8" height="4" fill="#3a7ac4"/>
<rect x="276" y="82" width="28" height="4" fill="#3f7fc5"/>
<rect x="304" y="82" width="4" height="4" fill="#3a7ac4"/>
<rect x="308" y="82" width="4" height="4" fill="#3774c6"/>
<rect x="312" y="82" width="4" height="4" fill="#346fc7"/>
<rect x="316" y="82" width="4" height="4" fill="#3069c9"/>
<rect x="320" y="82" width="32" height="4" fill="#2d64ca"/>
<rect x="352" y="82" width="20" height="4" fill="#3069c9"/>
<rect x="372" y="82" width="72" height="4" fill="#2d64ca"/>
<rect x="444" y="82" width="4" height="4" fill="#2a5ecc"/>
<rect x="448" y="82" width="8" height="4" fill="#2758cf"/>
<rect x="456" y="82" width="4" height="4" fill="#2453d2"/>
<rect x="460" y="82" width="4" height="4" fill="#224dd6"/>
<rect x="464" y="82" width="4" height="4" fill="#2453d2"/>
<rect x="468" y="82" width="4" height="4" fill="#2758cf"/>
<rect x="472" y="82" width="4" height="4" fill="#2a5ecc"/>
<rect x="476" y="82" width="4" height="4" fill="#2d64ca"/>
<rect x="480" y="82" width="4" height="4" fill="#3069c9"/>
<rect x="484" y="82" width="4" height="4" fill="#346fc7"/>
<rect x="488" y="82" width="4" height="4" fill="#3774c6"/>
<rect x="492" y="82" width="4" height="4" fill="#3f7fc5"/>
<rect x="496" y="82" width="4" height="4" fill="#4584c6"/>
<rect x="500" y="82" width="4" height="4" fill="#4a88c7"/>
<rect x="504" y="82" width="4" height="4" fill="#508dc8"/>
<rect x="508" y="82" width="8" height="4" fill="#5592c9"/>
<rect x="516" y="82" width="4" height="4" fill="#5b96cb"/>
<rect x="520" y="82" width="4" height="4" fill="#619acd"/>
<rect x="524" y="82" width="4" height="4" fill="#5592c9"/>
<rect x="528" y="82" width="4" height="4" fill="#4a88c7"/>
<rect x="532" y="82" width="4" height="4" fill="#3a7ac4"/>
<rect x="536" y="82" width="4" height="4" fill="#346fc7"/>
<rect x="540" y="82" width="4" height="4" fill="#2d64ca"/>
<rect x="544" y="82" width="4" height="4" fill="#2a5ecc"/>
<rect x="548" y="82" width="4" height="4" fill="#2758cf"/>
<rect x="552" y="82" width="4" height="4" fill="#2453d2"/>
<rect x="556" y="82" width="4" height="4" fill="#224dd6"/>
<rect x="560" y="82" width="32" height="4" fill="#1f48d9"/>
<rect x="72" y="86" width="12" height="4" fill="#619acd"/>
<rect x="84" y="86" width="4" height="4" fill="#669ece"/>
<rect x="88" y="86" width="4" height="4" fill="#6ca2d0"/>
<rect x="92" y="86" width="4" height="4" fill="#72a6d2"/>
<rect x="96" y="86" width="4" height="4" fill="#7aacd4"/>
<rect x="100" y="86" width="4" height="4" fill="#83b1d6"/>
<rect x="104" y="86" width="4" height="4" fill="#94bcdb"/>
<rect x="108" y="86" width="4" height="4" fill="#a4c7dd"/>
<rect x="112" y="86" width="4" height="4" fill="#abcbde"/>
<rect x="116" y="86" width="4" height="4" fill="#bad4df"/>
<rect x="120" y="86" width="4" height="4" fill="#c8dcda"/>
<rect x="124" y="86" width="4" height="4" fill="#bad4df"/>
<rect x="128" y="86" width="4" height="4" fill="#b3d0de"/>
<rect x="132" y="86" width="4" height="4" fill="#a4c7dd"/>
<rect x="136" y="86" width="4" height="4" fill="#9cc2dd"/>
<rect x="140" y="86" width="8" height="4" fill="#8bb7d9"/>
<rect x="148" y="86" width="8" height="4" fill="#83b1d6"/>
<rect x="156" y="86" width="32" height="4" fill="#7aacd4"/>
<rect x="188" y="86" width="8" height="4" fill="#72a6d2"/>
<rect x="196" y="86" width="12" height="4" fill="#6ca2d0"/>
<rect x="208" y="86" width="8" height="4" fill="#669ece"/>
<rect x="216" y="86" width="8" height="4" fill="#619acd"/>
<rect x="224" y="86" width="4" height="4" fill="#5592c9"/>
<rect x="228" y="86" width="4" height="4" fill="#4a88c7"/>
<rect x="232" y="86" width="4" height="4" fill="#4584c6"/>
<rect x="236" y="86" width="4" height="4" fill="#3a7ac4"/>
<rect x="240" y="86" width="24" height="4" fill="#346fc7"/>
<rect x="264" y="86" width="4" height="4" fill="#3774c6"/>
<rect x="268" y="86" width="8" height="4" fill="#3a7ac4"/>
<rect x="276" y="86" width="4" height="4" fill="#3f7fc5"/>
<rect x="280" y="86" width="24" height="4" fill="#4584c6"/>
<rect x="304" y="86" width="4" height="4" fill="#3f7fc5"/>
<rect x="308" y="86" width="4" height="4" fill="#3a7ac4"/>
<rect x="312" y="86" width="4" height="4" fill="#3774c6"/>
<rect x="316" y="86" width="4" height="4" fill="#346fc7"/>
<rect x="320" y="86" width="28" height="4" fill="#3069c9"/>
<rect x="348" y="86" width="8" height="4" fill="#346fc7"/>
<rect x="356" y="86" width="12" height="4" fill="#3774c6"/>
<rect x="368" y="86" width="8" height="4" fill="#346fc7"/>
<rect x="376" y="86" width="68" height="4" fill="#3069c9"/>
<rect x="444" y="86" width="8" height="4" fill="#2d64ca"/>
<rect x="452" y="86" width="8" height="4" fill="#2a5ecc"/>
<rect x="460" y="86" width="4" height="4" fill="#2758cf"/>
<rect x="464" y="86" width="4" height="4" fill="#2a5ecc"/>
<rect x="468" y="86" width="4" height="4" fill="#2d64ca"/>
<rect x="472" y="86" width="4" height="4" fill="#3069c9"/>
<rect x="476" y="86" width="4" height="4" fill="#346fc7"/>
<rect x="480" y="86" width="4" height="4" fill="#3774c6"/>
<rect x="484" y="86" width="4" height="4" fill="#3a7ac4"/>
<rect x="488" y="86" width="4" height="4" fill="#4584c6"/>
<rect x="492" y="86" width="4" height="4" fill="#4a88c7"/>
<rect x="496" y="86" width="4" height="4" fill="#5592c9"/>
<rect x="500" y="86" width="4" height="4" fill="#5b96cb"/>
<rect x="504" y="86" width="8" height="4" fill="#619acd"/>
<rect x="512" y="86" width="8" height="4" fill="#669ece"/>
<rect x="520" y="86" width="4" height="4" fill="#6ca2d0"/>
<rect x="524" y="86" width="4" height="4" fill="#619acd"/>
<rect x="528" y="86" width="4" height="4" fill="#508dc8"/>
<rect x="532" y="86" width="4" height="4" fill="#4584c6"/>
<rect x="536" y="86" width="4" height="4" fill="#3774c6"/>
<rect x="540" y="86" width="4" height="4" fill="#3069c9"/>
<rect x="544" y="86" width="4" height="4" fill="#2d64ca"/>
<rect x="548" y="86" width="4" height="4" fill="#2a5ecc"/>
<rect x="552" y="86" width="4" height="4" fill="#2758cf"/>
<rect x="556" y="86" width="4" height="4" fill="#2453d2"/>
<rect x="560" y="86" width="32" height="4" fill="#224dd6"/>
<rect x="72" y="90" width="12" height="4" fill="#669ece"/>
<rect x="84" y="90" width="4" height="4" fill="#6ca2d0"/>
<rect x="88" y="90" width="4" height="4" fill="#72a6d2"/>
<rect x="92" y="90" width="4" height="4" fill="#7aacd4"/>
<rect x="96" y="90" width="4" height="4" fill="#83b1d6"/>
<rect x="100" y="90" width="4" height="4" fill="#8bb7d9"/>
<rect x="104" y="90" width="4" height="4" fill="#9cc2dd"/>
<rect x="108" y="90" width="4" height="4" fill="#abcbde"/>
<rect x="112" y="90" width="4" height="4" fill="#c2d9df"/>
<rect x="116" y="90" width="4" height="4" fill="#cedfd5"/>
<rect x="120" y="90" width="4" height="4" fill="#d9e6cb"/>
<rect x="124" y="90" width="4" height="4" fill="#d3e3d0"/>
<rect x="128" y="90" width="4" height="4" fill="#c8dcda"/>
<rect x="132" y="90" width="4" height="4" fill="#c2d9df"/>
<rect x="136" y="90" width="4" height="4" fill="#b3d0de"/>
<rect x="140" y="90" width="4" height="4" fill="#abcbde"/>
<rect x="144" y="90" width="8" height="4" fill="#a4c7dd"/>
<rect x="152" y="90" width="8" height="4" fill="#9cc2dd"/>
<rect x="160" y="90" width="24" height="4" fill="#94bcdb"/>
<rect x="184" y="90" width="8" height="4" fill="#8bb7d9"/>
<rect x="192" y="90" width="8" height="4" fill="#83b1d6"/>
<rect x="200" y="90" width="4" height="4" fill="#7aacd4"/>
<rect x="204" y="90" width="8" height="4" fill="#72a6d2"/>
<rect x="212" y="90" width="8" height="4" fill="#6ca2d0"/>
<rect x="220" y="90" width="4" height="4" fill="#669ece"/>
<rect x="224" y="90" width="4" height="4" fill="#5b96cb"/>
<rect x="228" y="90" width="4" height="4" fill="#508dc8"/>
<rect x="232" y="90" width="4" height="4" fill="#3f7fc5"/>
<rect x="236" y="90" width="4" height="4" fill="#3774c6"/>
<rect x="240" y="90" width="24" height="4" fill="#3069c9"/>
<rect x="264" y="90" width="4" height="4" fill="#346fc7"/>
<rect x="268" y="90" width="4" height="4" fill="#3774c6"/>
<rect x="272" y="90" width="4" height="4" fill="#3f7fc5"/>
<rect x="276" y="90" width="4" height="4" fill="#4584c6"/>
<rect x="280" y="90" width="24" height="4" fill="#4a88c7"/>
<rect x="304" y="90" width="4" height="4" fill="#4584c6"/>
<rect x="308" y="90" width="4" height="4" fill="#3f7fc5"/>
<rect x="312" y="90" width="4" height="4" fill="#3a7ac4"/>
<rect x="316" y="90" width="4" height="4" fill="#3774c6"/>
<rect x="320" y="90" width="24" height="4" fill="#346fc7"/>
<rect x="344" y="90" width="8" height="4" fill="#3774c6"/>
<rect x="352" y="90" width="8" height="4" fill="#3a7ac4"/>
<rect x="360" y="90" width="4" height="4" fill="#3f7fc5"/>
<rect x="364" y="90" width="8" height="4" fill="#3a7ac4"/>
<rect x="372" y="90" width="8" height="4" fill="#3774c6"/>
<rect x="380" y="90" width="68" height="4" fill="#346fc7"/>
<rect x="448" y="90" width="8" height="4" fill="#3069c9"/>
<rect x="456" y="90" width="8" height="4" fill="#2d64ca"/>
<rect x="464" y="90" width="4" height="4" fill="#3069c9"/>
<rect x="468" y="90" width="4" height="4" fill="#346fc7"/>
<rect x="472" y="90" width="4" height="4" fill="#3774c6"/>
<rect x="476" y="90" width="4" height="4" fill="#3a7ac4"/>
<rect x="480" y="90" width="4" height="4" fill="#3f7fc5"/>
<rect x="484" y="90" width="4" height="4" fill="#4a88c7"/>
<rect x="488" y="90" width="4" height="4" fill="#508dc8"/>
<rect x="492" y="90" width="4" height="4" fill="#5b96cb"/>
<rect x="496" y="90" width="4" height="4" fill="#619acd"/>
<rect x="500" y="90" width="8" height="4" fill="#6ca2d0"/>
<rect x="508" y="90" width="8" height="4" fill="#72a6d2"/>
<rect x="516" y="90" width="8" height="4" fill="#7aacd4"/>
<rect x="524" y="90" width="4" height="4" fill="#669ece"/>
<rect x="528" y="90" width="4" height="4" fill="#5b96cb"/>
<rect x="532" y="90" width="4" height="4" fill="#4a88c7"/>
<rect x="536" y="90" width="4" height="4" fill="#3f7fc5"/>
<rect x="540" y="90" width="4" height="4" fill="#346fc7"/>
<rect x="544" y="90" width="4" height="4" fill="#3069c9"/>
<rect x="548" y="90" width="4" height="4" fill="#2d64ca"/>
<rect x="552" y="90" width="4" height="4" fill="#2a5ecc"/>
<rect x="556" y="90" width="4" height="4" fill="#2758cf"/>
<rect x="560" y="90" width="32" height="4" fill="#2453d2"/>
<rect x="72" y="94" width="12" height="4" fill="#6ca2d0"/>
<rect x="84" y="94" width="4" height="4" fill="#72a6d2"/>
<rect x="88" y="94" width="4" height="4" fill="#7aacd4"/>
<rect x="92" y="94" width="4" height="4" fill="#83b1d6"/>
<rect x="96" y="94" width="4" height="4" fill="#8bb7d9"/>
<rect x="100" y="94" width="4" height="4" fill="#94bcdb"/>
<rect x="104" y="94" width="4" height="4" fill="#abcbde"/>
<rect x="108" y="94" width="4" height="4" fill="#bad4df"/>
<rect x="112" y="94" width="4" height="4" fill="#cedfd5"/>
<rect x="116" y="94" width="4" height="4" fill="#d9e6cb"/>
<rect x="120" y="94" width="4" height="4" fill="#e7ebc0"/>
<rect x="124" y="94" width="4" height="4" fill="#e3eac3"/>
<rect x="128" y="94" width="4" height="4" fill="#dfe9c6"/>
<rect x="132" y="94" width="4" height="4" fill="#d3e3d0"/>
<rect x="136" y="94" width="4" height="4" fill="#cedfd5"/>
<rect x="140" y="94" width="4" height="4" fill="#c8dcda"/>
<rect x="144" y="94" width="4" height="4" fill="#c2d9df"/>
<rect x="148" y="94" width="8" height="4" fill="#bad4df"/>
<rect x="156" y="94" width="4" height="4" fill="#b3d0de"/>
<rect x="160" y="94" width="24" height="4" fill="#abcbde"/>
<rect x="184" y="94" width="4" height="4" fill="#a4c7dd"/>
<rect x="188" y="94" width="8" height="4" fill="#9cc2dd"/>
<rect x="196" y="94" width="4" height="4" fill="#94bcdb"/>
<rect x="200" y="94" width="4" height="4" fill="#8bb7d9"/>
<rect x="204" y="94" width="4" height="4" fill="#83b1d6"/>
<rect x="208" y="94" width="8" height="4" fill="#7aacd4"/>
<rect x="216" y="94" width="4" height="4" fill="#72a6d2"/>
<rect x="220" y="94" width="4" height="4" fill="#6ca2d0"/>
<rect x="224" y="94" width="4" height="4" fill="#5b96cb"/>
<rect x="228" y="94" width="4" height="4" fill="#508dc8"/>
<rect x="232" y="94" width="4" height="4" fill="#3f7fc5"/>
<rect x="236" y="94" width="4" height="4" fill="#3774c6"/>
<rect x="240" y="94" width="24" height="4" fill="#2d64ca"/>
<rect x="264" y="94" width="4" height="4" fill="#346fc7"/>
<rect x="268" y="94" width="4" height="4" fill="#3774c6"/>
<rect x="272" y="94" width="4" height="4" fill="#3f7fc5"/>
<rect x="276" y="94" width="4" height="4" fill="#4584c6"/>
<rect x="280" y="94" width="24" height="4" fill="#508dc8"/>
<rect x="304" y="94" width="4" height="4" fill="#4a88c7"/>
<rect x="308" y="94" width="4" height="4" fill="#4584c6"/>
<rect x="312" y="94" width="4" height="4" fill="#3f7fc5"/>
<rect x="316" y="94" width="4" height="4" fill="#3a7ac4"/>
<rect x="320" y="94" width="24" height="4" fill="#3774c6"/>
<rect x="344" y="94" width="4" height="4" fill="#3a7ac4"/>
<rect x="348" y="94" width="8" height="4" fill="#3f7fc5"/>
<rect x="356" y="94" width="4" height="4" fill="#4584c6"/>
<rect x="360" y="94" width="4" height="4" fill="#4a88c7"/>
<rect x="364" y="94" width="4" height="4" fill="#4584c6"/>
<rect x="368" y="94" width="8" height="4" fill="#3f7fc5"/>
<rect x="376" y="94" width="4" height="4" fill="#3a7ac4"/>
<rect x="380" y="94" width="72" height="4" fill="#3774c6"/>
<rect x="452" y="94" width="12" height="4" fill="#346fc7"/>
<rect x="464" y="94" width="4" height="4" fill="#3774c6"/>
<rect x="468" y="94" width="4" height="4" fill="#3a7ac4"/>
<rect x="472" y="94" width="4" height="4" fill="#3f7fc5"/>
<rect x="476" y="94" width="4" height="4" fill="#4584c6"/>
<rect x="480" y="94" width="4" height="4" fill="#4a88c7"/>
<rect x="484" y="94" width="4" height="4" fill="#5592c9"/>
<rect x="488" y="94" width="4" height="4" fill="#619acd"/>
<rect x="492" y="94" width="4" height="4" fill="#669ece"/>
<rect x="496" y="94" width="4" height="4" fill="#72a6d2"/>
<rect x="500" y="94" width="12" height="4" fill="#83b1d6"/>
<rect x="512" y="94" width="12" height="4" fill="#8bb7d9"/>
<rect x="524" y="94" width="4" height="4" fill="#72a6d2"/>
<rect x="528" y="94" width="4" height="4" fill="#619acd"/>
<rect x="532" y="94" width="4" height="4" fill="#5592c9"/>
<rect x="536" y="94" width="4" height="4" fill="#4584c6"/>
<rect x="540" y="94" width="4" height="4" fill="#3774c6"/>
<rect x="544" y="94" width="4" height="4" fill="#346fc7"/>
<rect x="548" y="94" width="4" height="4" fill="#3069c9"/>
<rect x="552" y="94" width="4" height="4" fill="#2d64ca"/>
<rect x="556" y="94" width="4" height="4" fill="#2a5ecc"/>
<rect x="560" y="94" width="32" height="4" fill="#2758cf"/>
<rect x="72" y="98" width="12" height="4" fill="#72a6d2"/>
<rect x="84" y="98" width="4" height="4" fill="#7aacd4"/>
<rect x="88" y="98" width="4" height="4" fill="#83b1d6"/>
<rect x="92" y="98" width="4" height="4" fill="#8bb7d9"/>
<rect x="96" y="98" width="4" height="4" fill="#94bcdb"/>
<rect x="100" y="98" width="4" height="4" fill="#9cc2dd"/>
<rect x="104" y="98" width="4" height="4" fill="#b3d0de"/>
<rect x="108" y="98" width="4" height="4" fill="#c8dcda"/>
<rect x="112" y="98" width="4" height="4" fill="#d9e6cb"/>
<rect x="116" y="98" width="4" height="4" fill="#e7ebc0"/>
<rect x="120" y="98" width="4" height="4" fill="#f4eeb8"/>
<rect x="124" y="98" width="4" height="4" fill="#f0edbb"/>
<rect x="128" y="98" width="4" height="4" fill="#ececbe"/>
<rect x="132" y="98" width="4" height="4" fill="#e7ebc0"/>
<rect x="136" y="98" width="4" height="4" fill="#e3eac3"/>
<rect x="140" y="98" width="4" height="4" fill="#dfe9c6"/>
<rect x="144" y="98" width="4" height="4" fill="#d9e6cb"/>
<rect x="148" y="98" width="4" height="4" fill="#d3e3d0"/>
<rect x="152" y="98" width="4" height="4" fill="#cedfd5"/>
<rect x="156" y="98" width="4" height="4" fill="#c8dcda"/>
<rect x="160" y="98" width="24" height="4" fill="#c2d9df"/>
<rect x="184" y="98" width="4" height="4" fill="#bad4df"/>
<rect x="188" y="98" width="4" height="4" fill="#b3d0de"/>
<rect x="192" y="98" width="4" height="4" fill="#abcbde"/>
<rect x="196" y="98" width="4" height="4" fill="#a4c7dd"/>
<rect x="200" y="98" width="4" height="4" fill="#9cc2dd"/>
<rect x="204" y="98" width="4" height="4" fill="#94bcdb"/>
<rect x="208" y="98" width="4" height="4" fill="#8bb7d9"/>
<rect x="212" y="98" width="4" height="4" fill="#83b1d6"/>
<rect x="216" y="98" width="4" height="4" fill="#7aacd4"/>
<rect x="220" y="98" width="4" height="4" fill="#72a6d2"/>
<rect x="224" y="98" width="4" height="4" fill="#619acd"/>
<rect x="228" y="98" width="4" height="4" fill="#508dc8"/>
<rect x="232" y="98" width="4" height="4" fill="#3f7fc5"/>
<rect x="236" y="98" width="4" height="4" fill="#346fc7"/>
<rect x="240" y="98" width="24" height="4" fill="#2a5ecc"/>
<rect x="264" y="98" width="4" height="4" fill="#3069c9"/>
<rect x="268" y="98" width="4" height="4" fill="#3774c6"/>
<rect x="272" y="98" width="4" height="4" fill="#3f7fc5"/>
<rect x="276" y="98" width="4" height="4" fill="#4a88c7"/>
<rect x="280" y="98" width="24" height="4" fill="#5592c9"/>
<rect x="304" y="98" width="4" height="4" fill="#508dc8"/>
<rect x="308" y="98" width="4" height="4" fill="#4a88c7"/>
<rect x="312" y="98" width="4" height="4" fill="#4584c6"/>
<rect x="316" y="98" width="4" height="4" fill="#3f7fc5"/>
<rect x="320" y="98" width="24" height="4" fill="#3a7ac4"/>
<rect x="344" y="98" width="4" height="4" fill="#3f7fc5"/>
<rect x="348" y="98" width="4" height="4" fill="#4584c6"/>
<rect x="352" y="98" width="4" height="4" fill="#4a88c7"/>
<rect x="356" y="98" width="4" height="4" fill="#508dc8"/>
<rect x="360" y="98" width="4" height="4" fill="#5592c9"/>
<rect x="364" y="98" width="4" height="4" fill="#508dc8"/>
<rect x="368" y="98" width="4" height="4" fill="#4a88c7"/>
<rect x="372" y="98" width="4" height="4" fill="#4584c6"/>
<rect x="376" y="98" width="4" height="4" fill="#3f7fc5"/>
<rect x="380" y="98" width="84" height="4" fill="#3a7ac4"/>
<rect x="464" y="98" width="4" height="4" fill="#3f7fc5"/>
<rect x="468" y="98" width="4" height="4" fill="#4584c6"/>
<rect x="472" y="98" width="4" height="4" fill="#4a88c7"/>
<rect x="476" y="98" width="4" height="4" fill="#508dc8"/>
<rect x="480" y="98" width="4" height="4" fill="#5592c9"/>
<rect x="484" y="98" width="4" height="4" fill="#619acd"/>
<rect x="488" y="98" width="4" height="4" fill="#6ca2d0"/>
<rect x="492" y="98" width="4" height="4" fill="#7aacd4"/>
<rect x="496" y="98" width="4" height="4" fill="#8bb7d9"/>
<rect x="500" y="98" width="24" height="4" fill="#9cc2dd"/>
<rect x="524" y="98" width="4" height="4" fill="#83b1d6"/>
<rect x="528" y="98" width="4" height="4" fill="#6ca2d0"/>
<rect x="532" y="98" width="4" height="4" fill="#5b96cb"/>
<rect x="536" y="98" width="4" height="4" fill="#4a88c7"/>
<rect x="540" y="98" width="4" height="4" fill="#3a7ac4"/>
<rect x="544" y="98" width="4" height="4" fill="#3774c6"/>
<rect x="548" y="98" width="4" height="4" fill="#346fc7"/>
<rect x="552" y="98" width="4" height="4" fill="#3069c9"/>
<rect x="556" y="98" width="4" height="4" fill="#2d64ca"/>
<rect x="560" y="98" width="32" height="4" fill="#2a5ecc"/>
<rect x="72" y="102" width="12" height="4" fill="#6ca2d0"/>
<rect x="84" y="102" width="4" height="4" fill="#72a6d2"/>
<rect x="88" y="102" width="4" height="4" fill="#7aacd4"/>
<rect x="92" y="102" width="4" height="4" fill="#83b1d6"/>
<rect x="96" y="102" width="4" height="4" fill="#8bb7d9"/>
<rect x="100" y="102" width="4" height="4" fill="#94bcdb"/>
<rect x="104" y="102" width="4" height="4" fill="#abcbde"/>
<rect x="108" y="102" width="4" height="4" fill="#c2d9df"/>
<rect x="112" y="102" width="4" height="4" fill="#d3e3d0"/>
<rect x="116" y="102" width="4" height="4" fill="#e3eac3"/>
<rect x="120" y="102" width="4" height="4" fill="#f0edbb"/>
<rect x="124" y="102" width="4" height="4" fill="#ececbe"/>
<rect x="128" y="102" width="4" height="4" fill="#e7ebc0"/>
<rect x="132" y="102" width="4" height="4" fill="#dfe9c6"/>
<rect x="136" y="102" width="4" height="4" fill="#d9e6cb"/>
<rect x="140" y="102" width="4" height="4" fill="#d3e3d0"/>
<rect x="144" y="102" width="8" height="4" fill="#cedfd5"/>
<rect x="152" y="102" width="8" height="4" fill="#c8dcda"/>
<rect x="160" y="102" width="12" height="4" fill="#c2d9df"/>
<rect x="172" y="102" width="12" height="4" fill="#bad4df"/>
<rect x="184" y="102" width="4" height="4" fill="#b3d0de"/>
<rect x="188" y="102" width="4" height="4" fill="#abcbde"/>
<rect x="192" y="102" width="4" height="4" fill="#a4c7dd"/>
<rect x="196" y="102" width="4" height="4" fill="#9cc2dd"/>
<rect x="200" y="102" width="4" height="4" fill="#94bcdb"/>
<rect x="204" y="102" width="4" height="4" fill="#8bb7d9"/>
<rect x="208" y="102" width="4" height="4" fill="#83b1d6"/>
<rect x="212" y="102" width="4" height="4" fill="#7aacd4"/>
<rect x="216" y="102" width="4" height="4" fill="#72a6d2"/>
<rect x="220" y="102" width="4" height="4" fill="#6ca2d0"/>
<rect x="224" y="102" width="4" height="4" fill="#5b96cb"/>
<rect x="228" y="102" width="4" height="4" fill="#4a88c7"/>
<rect x="232" y="102" width="4" height="4" fill="#3a7ac4"/>
<rect x="236" y="102" width="4" height="4" fill="#3069c9"/>
<rect x="240" y="102" width="12" height="4" fill="#2758cf"/>
<rect x="252" y="102" width="12" height="4" fill="#2a5ecc"/>
<rect x="264" y="102" width="4" height="4" fill="#3069c9"/>
<rect x="268" y="102" width="4" height="4" fill="#3774c6"/>
<rect x="272" y="102" width="4" height="4" fill="#3f7fc5"/>
<rect x="276" y="102" width="4" height="4" fill="#4a88c7"/>
<rect x="280" y="102" width="12" height="4" fill="#5592c9"/>
<rect x="292" y="102" width="12" height="4" fill="#5b96cb"/>
<rect x="304" y="102" width="4" height="4" fill="#5592c9"/>
<rect x="308" y="102" width="4" height="4" fill="#508dc8"/>
<rect x="312" y="102" width="4" height="4" fill="#4a88c7"/>
<rect x="316" y="102" width="4" height="4" fill="#4584c6"/>
<rect x="320" y="102" width="8" height="4" fill="#3f7fc5"/>
<rect x="328" y="102" width="8" height="4" fill="#3a7ac4"/>
<rect x="336" y="102" width="8" height="4" fill="#3774c6"/>
<rect x="344" y="102" width="4" height="4" fill="#3a7ac4"/>
<rect x="348" y="102" width="8" height="4" fill="#3f7fc5"/>
<rect x="356" y="102" width="4" height="4" fill="#4584c6"/>
<rect x="360" y="102" width="4" height="4" fill="#4a88c7"/>
<rect x="364" y="102" width="4" height="4" fill="#4584c6"/>
<rect x="368" y="102" width="8" height="4" fill="#3f7fc5"/>
<rect x="376" y="102" width="4" height="4" fill="#3a7ac4"/>
<rect x="380" y="102" width="12" height="4" fill="#3774c6"/>
<rect x="392" y="102" width="20" height="4" fill="#3a7ac4"/>
<rect x="412" y="102" width="20" height="4" fill="#3f7fc5"/>
<rect x="432" y="102" width="32" height="4" fill="#4584c6"/>
<rect x="464" y="102" width="4" height="4" fill="#4a88c7"/>
<rect x="468" y="102" width="4" height="4" fill="#508dc8"/>
<rect x="472" y="102" width="4" height="4" fill="#5592c9"/>
<rect x="476" y="102" width="4" height="4" fill="#5b96cb"/>
<rect x="480" y="102" width="4" height="4" fill="#619acd"/>
<rect x="484" y="102" width="4" height="4" fill="#6ca2d0"/>
<rect x="488" y="102" width="4" height="4" fill="#72a6d2"/>
<rect x="492" y="102" width="4" height="4" fill="#83b1d6"/>
<rect x="496" y="102" width="4" height="4" fill="#8bb7d9"/>
<rect x="500" y="102" width="12" height="4" fill="#9cc2dd"/>
<rect x="512" y="102" width="12" height="4" fill="#94bcdb"/>
<rect x="524" y="102" width="4" height="4" fill="#7aacd4"/>
<rect x="528" y="102" width="4" height="4" fill="#669ece"/>
<rect x="532" y="102" width="4" height="4" fill="#5b96cb"/>
<rect x="536" y="102" width="4" height="4" fill="#4a88c7"/>
<rect x="540" y="102" width="4" height="4" fill="#3a7ac4"/>
<rect x="544" y="102" width="4" height="4" fill="#3774c6"/>
<rect x="548" y="102" width="8" height="4" fill="#346fc7"/>
<rect x="556" y="102" width="4" height="4" fill="#3069c9"/>
<rect x="560" y="102" width="32" height="4" fill="#2d64ca"/>
<rect x="72" y="106" width="12" height="4" fill="#669ece"/>
<rect x="84" y="106" width="4" height="4" fill="#6ca2d0"/>
<rect x="88" y="106" width="4" height="4" fill="#72a6d2"/>
<rect x="92" y="106" width="4" height="4" fill="#7aacd4"/>
<rect x="96" y="106" width="4" height="4" fill="#83b1d6"/>
<rect x="100" y="106" width="4" height="4" fill="#8bb7d9"/>
<rect x="104" y="106" width="4" height="4" fill="#a4c7dd"/>
<rect x="108" y="106" width="4" height="4" fill="#bad4df"/>
<rect x="112" y="106" width="4" height="4" fill="#cedfd5"/>
<rect x="116" y="106" width="4" height="4" fill="#dfe9c6"/>
<rect x="120" y="106" width="4" height="4" fill="#ececbe"/>
<rect x="124" y="106" width="4" height="4" fill="#e7ebc0"/>
<rect x="128" y="106" width="4" height="4" fill="#dfe9c6"/>
<rect x="132" y="106" width="4" height="4" fill="#d9e6cb"/>
<rect x="136" y="106" width="4" height="4" fill="#cedfd5"/>
<rect x="140" y="106" width="12" height="4" fill="#c8dcda"/>
<rect x="152" y="106" width="16" height="4" fill="#c2d9df"/>
<rect x="168" y="106" width="8" height="4" fill="#bad4df"/>
<rect x="176" y="106" width="8" height="4" fill="#b3d0de"/>
<rect x="184" y="106" width="4" height="4" fill="#abcbde"/>
<rect x="188" y="106" width="4" height="4" fill="#a4c7dd"/>
<rect x="192" y="106" width="4" height="4" fill="#9cc2dd"/>
<rect x="196" y="106" width="4" height="4" fill="#94bcdb"/>
<rect x="200" y="106" width="4" height="4" fill="#8bb7d9"/>
<rect x="204" y="106" width="4" height="4" fill="#83b1d6"/>
<rect x="208" y="106" width="4" height="4" fill="#7aacd4"/>
<rect x="212" y="106" width="4" height="4" fill="#72a6d2"/>
<rect x="216" y="106" width="4" height="4" fill="#6ca2d0"/>
<rect x="220" y="106" width="4" height="4" fill="#669ece"/>
<rect x="224" y="106" width="4" height="4" fill="#5592c9"/>
<rect x="228" y="106" width="4" height="4" fill="#4584c6"/>
<rect x="232" y="106" width="4" height="4" fill="#3774c6"/>
<rect x="236" y="106" width="4" height="4" fill="#2d64ca"/>
<rect x="240" y="106" width="8" height="4" fill="#2453d2"/>
<rect x="248" y="106" width="8" height="4" fill="#2758cf"/>
<rect x="256" y="106" width="8" height="4" fill="#2a5ecc"/>
<rect x="264" y="106" width="4" height="4" fill="#3069c9"/>
<rect x="268" y="106" width="4" height="4" fill="#3774c6"/>
<rect x="272" y="106" width="4" height="4" fill="#3f7fc5"/>
<rect x="276" y="106" width="4" height="4" fill="#4a88c7"/>
<rect x="280" y="106" width="8" height="4" fill="#5592c9"/>
<rect x="288" y="106" width="8" height="4" fill="#5b96cb"/>
<rect x="296" y="106" width="8" height="4" fill="#619acd"/>
<rect x="304" y="106" width="4" height="4" fill="#5b96cb"/>
<rect x="308" y="106" width="4" height="4" fill="#5592c9"/>
<rect x="312" y="106" width="4" height="4" fill="#508dc8"/>
<rect x="316" y="106" width="4" height="4" fill="#4a88c7"/>
<rect x="320" y="106" width="4" height="4" fill="#4584c6"/>
<rect x="324" y="106" width="4" height="4" fill="#3f7fc5"/>
<rect x="328" y="106" width="8" height="4" fill="#3a7ac4"/>
<rect x="336" y="106" width="4" height="4" fill="#3774c6"/>
<rect x="340" y="106" width="4" height="4" fill="#346fc7"/>
<rect x="344" y="106" width="8" height="4" fill="#3774c6"/>
<rect x="352" y="106" width="8" height="4" fill="#3a7ac4"/>
<rect x="360" y="106" width="4" height="4" fill="#3f7fc5"/>
<rect x="364" y="106" width="8" height="4" fill="#3a7ac4"/>
<rect x="372" y="106" width="8" height="4" fill="#3774c6"/>
<rect x="380" y="106" width="8" height="4" fill="#346fc7"/>
<rect x="388" y="106" width="8" height="4" fill="#3774c6"/>
<rect x="396" y="106" width="12" height="4" fill="#3a7ac4"/>
<rect x="408" y="106" width="8" height="4" fill="#3f7fc5"/>
<rect x="416" y="106" width="12" height="4" fill="#4584c6"/>
<rect x="428" y="106" width="8" height="4" fill="#4a88c7"/>
<rect x="436" y="106" width="28" height="4" fill="#508dc8"/>
<rect x="464" y="106" width="4" height="4" fill="#5592c9"/>
<rect x="468" y="106" width="4" height="4" fill="#5b96cb"/>
<rect x="472" y="106" width="4" height="4" fill="#619acd"/>
<rect x="476" y="106" width="4" height="4" fill="#669ece"/>
<rect x="480" y="106" width="4" height="4" fill="#6ca2d0"/>
<rect x="484" y="106" width="4" height="4" fill="#72a6d2"/>
<rect x="488" y="106" width="4" height="4" fill="#7aacd4"/>
<rect x="492" y="106" width="4" height="4" fill="#8bb7d9"/>
<rect x="496" y="106" width="4" height="4" fill="#94bcdb"/>
<rect x="500" y="106" width="8" height="4" fill="#9cc2dd"/>
<rect x="508" y="106" width="8" height="4" fill="#94bcdb"/>
<rect x="516" y="106" width="8" height="4" fill="#8bb7d9"/>
<rect x="524" y="106" width="4" height="4" fill="#72a6d2"/>
<rect x="528" y="106" width="4" height="4" fill="#669ece"/>
<rect x="532" y="106" width="4" height="4" fill="#5592c9"/>
<rect x="536" y="106" width="4" height="4" fill="#4a88c7"/>
<rect x="540" y="106" width="4" height="4" fill="#3a7ac4"/>
<rect x="544" y="106" width="8" height="4" fill="#3774c6"/>
<rect x="552" y="106" width="8" height="4" fill="#346fc7"/>
<rect x="560" y="106" width="32" height="4" fill="#3069c9"/>
<rect x="72" y="110" width="12" height="4" fill="#619acd"/>
<rect x="84" y="110" width="4" height="4" fill="#669ece"/>
<rect x="88" y="110" width="4" height="4" fill="#6ca2d0"/>
<rect x="92" y="110" width="4" height="4" fill="#72a6d2"/>
<rect x="96" y="110" width="4" height="4" fill="#7aacd4"/>
<rect x="100" y="110" width="4" height="4" fill="#83b1d6"/>
<rect x="104" y="110" width="4" height="4" fill="#9cc2dd"/>
<rect x="108" y="110" width="4" height="4" fill="#b3d0de"/>
<rect x="112" y="110" width="4" height="4" fill="#c8dcda"/>
<rect x="116" y="110" width="4" height="4" fill="#d9e6cb"/>
<rect x="120" y="110" width="4" height="4" fill="#e7ebc0"/>
<rect x="124" y="110" width="4" height="4" fill="#dfe9c6"/>
<rect x="128" y="110" width="4" height="4" fill="#d9e6cb"/>
<rect x="132" y="110" width="4" height="4" fill="#cedfd5"/>
<rect x="136" y="110" width="4" height="4" fill="#c8dcda"/>
<rect x="140" y="110" width="12" height="4" fill="#bad4df"/>
<rect x="152" y="110" width="12" height="4" fill="#c2d9df"/>
<rect x="164" y="110" width="8" height="4" fill="#bad4df"/>
<rect x="172" y="110" width="8" height="4" fill="#b3d0de"/>
<rect x="180" y="110" width="4" height="4" fill="#abcbde"/>
<rect x="184" y="110" width="4" height="4" fill="#a4c7dd"/>
<rect x="188" y="110" width="4" height="4" fill="#9cc2dd"/>
<rect x="192" y="110" width="4" height="4" fill="#94bcdb"/>
<rect x="196" y="110" width="4" height="4" fill="#8bb7d9"/>
<rect x="200" y="110" width="4" height="4" fill="#83b1d6"/>
<rect x="204" y="110" width="4" height="4" fill="#7aacd4"/>
<rect x="208" y="110" width="4" height="4" fill="#72a6d2"/>
<rect x="212" y="110" width="4" height="4" fill="#6ca2d0"/>
<rect x="216" y="110" width="4" height="4" fill="#669ece"/>
<rect x="220" y="110" width="4" height="4" fill="#619acd"/>
<rect x="224" y="110" width="4" height="4" fill="#508dc8"/>
<rect x="228" y="110" width="4" height="4" fill="#3f7fc5"/>
<rect x="232" y="110" width="4" height="4" fill="#346fc7"/>
<rect x="236" y="110" width="4" height="4" fill="#2a5ecc"/>
<rect x="240" y="110" width="4" height="4" fill="#224dd6"/>
<rect x="244" y="110" width="8" height="4" fill="#2453d2"/>
<rect x="252" y="110" width="8" height="4" fill="#2758cf"/>
<rect x="260" y="110" width="4" height="4" fill="#2a5ecc"/>
<rect x="264" y="110" width="4" height="4" fill="#3069c9"/>
<rect x="268" y="110" width="4" height="4" fill="#3774c6"/>
<rect x="272" y="110" width="4" height="4" fill="#3f7fc5"/>
<rect x="276" y="110" width="4" height="4" fill="#4a88c7"/>
<rect x="280" y="110" width="4" height="4" fill="#5592c9"/>
<rect x="284" y="110" width="8" height="4" fill="#5b96cb"/>
<rect x="292" y="110" width="8" height="4" fill="#619acd"/>
<rect x="300" y="110" width="4" height="4" fill="#669ece"/>
<rect x="304" y="110" width="4" height="4" fill="#619acd"/>
<rect x="308" y="110" width="4" height="4" fill="#5b96cb"/>
<rect x="312" y="110" width="4" height="4" fill="#5592c9"/>
<rect x="316" y="110" width="4" height="4" fill="#508dc8"/>
<rect x="320" y="110" width="4" height="4" fill="#4a88c7"/>
<rect x="324" y="110" width="4" height="4" fill="#4584c6"/>
<rect x="328" y="110" width="4" height="4" fill="#3f7fc5"/>
<rect x="332" y="110" width="4" height="4" fill="#3774c6"/>
<rect x="336" y="110" width="4" height="4" fill="#346fc7"/>
<rect x="340" y="110" width="8" height="4" fill="#3069c9"/>
<rect x="348" y="110" width="8" height="4" fill="#346fc7"/>
<rect x="356" y="110" width="12" height="4" fill="#3774c6"/>
<rect x="368" y="110" width="8" height="4" fill="#346fc7"/>
<rect x="376" y="110" width="8" height="4" fill="#3069c9"/>
<rect x="384" y="110" width="8" height="4" fill="#346fc7"/>
<rect x="392" y="110" width="8" height="4" fill="#3774c6"/>
<rect x="400" y="110" width="4" height="4" fill="#3a7ac4"/>
<rect x="404" y="110" width="8" height="4" fill="#3f7fc5"/>
<rect x="412" y="110" width="8" height="4" fill="#4584c6"/>
<rect x="420" y="110" width="4" height="4" fill="#4a88c7"/>
<rect x="424" y="110" width="8" height="4" fill="#508dc8"/>
<rect x="432" y="110" width="8" height="4" fill="#5592c9"/>
<rect x="440" y="110" width="24" height="4" fill="#5b96cb"/>
<rect x="464" y="110" width="4" height="4" fill="#619acd"/>
<rect x="468" y="110" width="4" height="4" fill="#669ece"/>
<rect x="472" y="110" width="4" height="4" fill="#6ca2d0"/>
<rect x="476" y="110" width="4" height="4" fill="#72a6d2"/>
<rect x="480" y="110" width="4" height="4" fill="#7aacd4"/>
<rect x="484" y="110" width="4" height="4" fill="#83b1d6"/>
<rect x="488" y="110" width="8" height="4" fill="#8bb7d9"/>
<rect x="496" y="110" width="4" height="4" fill="#94bcdb"/>
<rect x="500" y="110" width="4" height="4" fill="#9cc2dd"/>
<rect x="504" y="110" width="8" height="4" fill="#94bcdb"/>
<rect x="512" y="110" width="8" height="4" fill="#8bb7d9"/>
<rect x="520" y="110" width="4" height="4" fill="#83b1d6"/>
<rect x="524" y="110" width="4" height="4" fill="#72a6d2"/>
<rect x="528" y="110" width="4" height="4" fill="#619acd"/>
<rect x="532" y="110" width="4" height="4" fill="#5592c9"/>
<rect x="536" y="110" width="4" height="4" fill="#4584c6"/>
<rect x="540" y="110" width="8" height="4" fill="#3a7ac4"/>
<rect x="548" y="110" width="8" height="4" fill="#3774c6"/>
<rect x="556" y="110" width="36" height="4" fill="#346fc7"/>
<rect x="72" y="114" width="12" height="4" fill="#5b96cb"/>
<rect x="84" y="114" width="4" height="4" fill="#619acd"/>
<rect x="88" y="114" width="4" height="4" fill="#669ece"/>
<rect x="92" y="114" width="4" height="4" fill="#6ca2d0"/>
<rect x="96" y="114" width="4" height="4" fill="#72a6d2"/>
<rect x="100" y="114" width="4" height="4" fill="#7aacd4"/>
<rect x="104" y="114" width="4" height="4" fill="#94bcdb"/>
<rect x="108" y="114" width="4" height="4" fill="#abcbde"/>
<rect x="112" y="114" width="4" height="4" fill="#c2d9df"/>
<rect x="116" y="114" width="4" height="4" fill="#d3e3d0"/>
<rect x="120" y="114" width="4" height="4" fill="#e3eac3"/>
<rect x="124" y="114" width="4" height="4" fill="#d9e6cb"/>
<rect x="128" y="114" width="4" height="4" fill="#cedfd5"/>
<rect x="132" y="114" width="4" height="4" fill="#c8dcda"/>
<rect x="136" y="114" width="4" height="4" fill="#bad4df"/>
<rect x="140" y="114" width="4" height="4" fill="#abcbde"/>
<rect x="144" y="114" width="8" height="4" fill="#b3d0de"/>
<rect x="152" y="114" width="8" height="4" fill="#bad4df"/>
<rect x="160" y="114" width="4" height="4" fill="#c2d9df"/>
<rect x="164" y="114" width="4" height="4" fill="#bad4df"/>
<rect x="168" y="114" width="8" height="4" fill="#b3d0de"/>
<rect x="176" y="114" width="4" height="4" fill="#abcbde"/>
<rect x="180" y="114" width="4" height="4" fill="#a4c7dd"/>
<rect x="184" y="114" width="4" height="4" fill="#9cc2dd"/>
<rect x="188" y="114" width="4" height="4" fill="#94bcdb"/>
<rect x="192" y="114" width="4" height="4" fill="#8bb7d9"/>
<rect x="196" y="114" width="4" height="4" fill="#83b1d6"/>
<rect x="200" y="114" width="4" height="4" fill="#7aacd4"/>
<rect x="204" y="114" width="4" height="4" fill="#72a6d2"/>
<rect x="208" y="114" width="4" height="4" fill="#6ca2d0"/>
<rect x="212" y="114" width="4" height="4" fill="#669ece"/>
<rect x="216" y="114" width="4" height="4" fill="#619acd"/>
<rect x="220" y="114" width="4" height="4" fill="#5b96cb"/>
<rect x="224" y="114" width="4" height="4" fill="#4a88c7"/>
<rect x="228" y="114" width="4" height="4" fill="#3a7ac4"/>
<rect x="232" y="114" width="4" height="4" fill="#3069c9"/>
<rect x="236" y="114" width="4" height="4" fill="#2758cf"/>
<rect x="240" y="114" width="4" height="4" fill="#1f48d9"/>
<rect x="244" y="114" width="4" height="4" fill="#224dd6"/>
<rect x="248" y="114" width="8" height="4" fill="#2453d2"/>
<rect x="256" y="114" width="4" height="4" fill="#2758cf"/>
<rect x="260" y="114" width="4" height="4" fill="#2a5ecc"/>
<rect x="264" y="114" width="4" height="4" fill="#3069c9"/>
<rect x="268" y="114" width="4" height="4" fill="#3774c6"/>
<rect x="272" y="114" width="4" height="4" fill="#3f7fc5"/>
<rect x="276" y="114" width="4" height="4" fill="#4a88c7"/>
<rect x="280" y="114" width="4" height="4" fill="#5592c9"/>
<rect x="284" y="114" width="4" height="4" fill="#5b96cb"/>
<rect x="288" y="114" width="8" height="4" fill="#619acd"/>
<rect x="296" y="114" width="4" height="4" fill="#669ece"/>
<rect x="300" y="114" width="4" height="4" fill="#6ca2d0"/>
<rect x="304" y="114" width="4" height="4" fill="#669ece"/>
<rect x="308" y="114" width="4" height="4" fill="#619acd"/>
<rect x="312" y="114" width="4" height="4" fill="#5b96cb"/>
<rect x="316" y="114" width="4" height="4" fill="#5592c9"/>
<rect x="320" y="114" width="4" height="4" fill="#508dc8"/>
<rect x="324" y="114" width="4" height="4" fill="#4584c6"/>
<rect x="328" y="114" width="4" height="4" fill="#3f7fc5"/>
<rect x="332" y="114" width="4" height="4" fill="#3774c6"/>
<rect x="336" y="114" width="4" height="4" fill="#346fc7"/>
<rect x="340" y="114" width="12" height="4" fill="#2d64ca"/>
<rect x="352" y="114" width="20" height="4" fill="#3069c9"/>
<rect x="372" y="114" width="12" height="4" fill="#2d64ca"/>
<rect x="384" y="114" width="4" height="4" fill="#3069c9"/>
<rect x="388" y="114" width="8" height="4" fill="#346fc7"/>
<rect x="396" y="114" width="4" height="4" fill="#3774c6"/>
<rect x="400" y="114" width="4" height="4" fill="#3a7ac4"/>
<rect x="404" y="114" width="4" height="4" fill="#3f7fc5"/>
<rect x="408" y="114" width="8" height="4" fill="#4584c6"/>
<rect x="416" y="114" width="4" height="4" fill="#4a88c7"/>
<rect x="420" y="114" width="4" height="4" fill="#508dc8"/>
<rect x="424" y="114" width="4" height="4" fill="#5592c9"/>
<rect x="428" y="114" width="8" height="4" fill="#5b96cb"/>
<rect x="436" y="114" width="4" height="4" fill="#619acd"/>
<rect x="440" y="114" width="24" height="4" fill="#669ece"/>
<rect x="464" y="114" width="4" height="4" fill="#6ca2d0"/>
<rect x="468" y="114" width="4" height="4" fill="#72a6d2"/>
<rect x="472" y="114" width="4" height="4" fill="#7aacd4"/>
<rect x="476" y="114" width="4" height="4" fill="#83b1d6"/>
<rect x="480" y="114" width="8" height="4" fill="#8bb7d9"/>
<rect x="488" y="114" width="8" height="4" fill="#94bcdb"/>
<rect x="496" y="114" width="8" height="4" fill="#9cc2dd"/>
<rect x="504" y="114" width="4" height="4" fill="#94bcdb"/>
<rect x="508" y="114" width="8" height="4" fill="#8bb7d9"/>
<rect x="516" y="114" width="4" height="4" fill="#83b1d6"/>
<rect x="520" y="114" width="4" height="4" fill="#7aacd4"/>
<rect x="524" y="114" width="4" height="4" fill="#6ca2d0"/>
<rect x="528" y="114" width="4" height="4" fill="#619acd"/>
<rect x="532" y="114" width="4" height="4" fill="#508dc8"/>
<rect x="536" y="114" width="4" height="4" fill="#4584c6"/>
<rect x="540" y="114" width="12" height="4" fill="#3a7ac4"/>
<rect x="552" y="114" width="40" height="4" fill="#3774c6"/>
<rect x="72" y="118" width="12" height="4" fill="#5592c9"/>
<rect x="84" y="118" width="4" height="4" fill="#5b96cb"/>
<rect x="88" y="118" width="4" height="4" fill="#619acd"/>
<rect x="92" y="118" width="4" height="4" fill="#669ece"/>
<rect x="96" y="118" width="4" height="4" fill="#6ca2d0"/>
<rect x="100" y="118" width="4" height="4" fill="#72a6d2"/>
<rect x="104" y="118" width="4" height="4" fill="#8bb7d9"/>
<rect x="108" y="118" width="4" height="4" fill="#a4c7dd"/>
<rect x="112" y="118" width="4" height="4" fill="#bad4df"/>
<rect x="116" y="118" width="4" height="4" fill="#cedfd5"/>
<rect x="120" y="118" width="4" height="4" fill="#dfe9c6"/>
<rect x="124" y="118" width="4" height="4" fill="#d3e3d0"/>
<rect x="128" y="118" width="4" height="4" fill="#c8dcda"/>
<rect x="132" y="118" width="4" height="4" fill="#bad4df"/>
<rect x="136" y="118" width="4" height="4" fill="#abcbde"/>
<rect x="140" y="118" width="4" height="4" fill="#9cc2dd"/>
<rect x="144" y="118" width="4" height="4" fill="#a4c7dd"/>
<rect x="148" y="118" width="4" height="4" fill="#abcbde"/>
<rect x="152" y="118" width="4" height="4" fill="#b3d0de"/>
<rect x="156" y="118" width="4" height="4" fill="#bad4df"/>
<rect x="160" y="118" width="4" height="4" fill="#c2d9df"/>
<rect x="164" y="118" width="4" height="4" fill="#bad4df"/>
<rect x="168" y="118" width="4" height="4" fill="#b3d0de"/>
<rect x="172" y="118" width="4" height="4" fill="#abcbde"/>
<rect x="176" y="118" width="4" height="4" fill="#a4c7dd"/>
<rect x="180" y="118" width="4" height="4" fill="#9cc2dd"/>
<rect x="184" y="118" width="4" height="4" fill="#94bcdb"/>
<rect x="188" y="118" width="4" height="4" fill="#8bb7d9"/>
<rect x="192" y="118" width="4" height="4" fill="#83b1d6"/>
<rect x="196" y="118" width="4" height="4" fill="#7aacd4"/>
<rect x="200" y="118" width="4" height="4" fill="#72a6d2"/>
<rect x="204" y="118" width="4" height="4" fill="#6ca2d0"/>
<rect x="208" y="118" width="4" height="4" fill="#669ece"/>
<rect x="212" y="118" width="4" height="4" fill="#619acd"/>
<rect x="216" y="118" width="4" height="4" fill="#5b96cb"/>
<rect x="220" y="118" width="4" height="4" fill="#5592c9"/>
<rect x="224" y="118" width="4" height="4" fill="#4584c6"/>
<rect x="228" y="118" width="4" height="4" fill="#3774c6"/>
<rect x="232" y="118" width="4" height="4" fill="#2d64ca"/>
<rect x="236" y="118" width="4" height="4" fill="#2453d2"/>
<rect x="240" y="118" width="4" height="4" fill="#1c42dc"/>
<rect x="244" y="118" width="4" height="4" fill="#1f48d9"/>
<rect x="248" y="118" width="4" height="4" fill="#224dd6"/>
<rect x="252" y="118" width="4" height="4" fill="#2453d2"/>
<rect x="256" y="118" width="4" height="4" fill="#2758cf"/>
<rect x="260" y="118" width="4" height="4" fill="#2a5ecc"/>
<rect x="264" y="118" width="4" height="4" fill="#3069c9"/>
<rect x="268" y="118" width="4" height="4" fill="#3774c6"/>
<rect x="272" y="118" width="4" height="4" fill="#3f7fc5"/>
<rect x="276" y="118" width="4" height="4" fill="#4a88c7"/>
<rect x="280" y="118" width="4" height="4" fill="#5592c9"/>
<rect x="284" y="118" width="4" height="4" fill="#5b96cb"/>
<rect x="288" y="118" width="4" height="4" fill="#619acd"/>
<rect x="292" y="118" width="4" height="4" fill="#669ece"/>
<rect x="296" y="118" width="4" height="4" fill="#6ca2d0"/>
<rect x="300" y="118" width="4" height="4" fill="#72a6d2"/>
<rect x="304" y="118" width="4" height="4" fill="#6ca2d0"/>
<rect x="308" y="118" width="4" height="4" fill="#669ece"/>
<rect x="312" y="118" width="4" height="4" fill="#619acd"/>
<rect x="316" y="118" width="4" height="4" fill="#5b96cb"/>
<rect x="320" y="118" width="4" height="4" fill="#5592c9"/>
<rect x="324" y="118" width="4" height="4" fill="#4a88c7"/>
<rect x="328" y="118" width="4" height="4" fill="#3f7fc5"/>
<rect x="332" y="118" width="4" height="4" fill="#3774c6"/>
<rect x="336" y="118" width="4" height="4" fill="#3069c9"/>
<rect x="340" y="118" width="44" height="4" fill="#2a5ecc"/>
<rect x="384" y="118" width="4" height="4" fill="#2d64ca"/>
<rect x="388" y="118" width="4" height="4" fill="#3069c9"/>
<rect x="392" y="118" width="4" height="4" fill="#346fc7"/>
<rect x="396" y="118" width="4" height="4" fill="#3774c6"/>
<rect x="400" y="118" width="4" height="4" fill="#3a7ac4"/>
<rect x="404" y="118" width="4" height="4" fill="#3f7fc5"/>
<rect x="408" y="118" width="4" height="4" fill="#4584c6"/>
<rect x="412" y="118" width="4" height="4" fill="#4a88c7"/>
<rect x="416" y="118" width="4" height="4" fill="#508dc8"/>
<rect x="420" y="118" width="4" height="4" fill="#5592c9"/>
<rect x="424" y="118" width="4" height="4" fill="#5b96cb"/>
<rect x="428" y="118" width="4" height="4" fill="#619acd"/>
<rect x="432" y="118" width="4" height="4" fill="#669ece"/>
<rect x="436" y="118" width="4" height="4" fill="#6ca2d0"/>
<rect x="440" y="118" width="24" height="4" fill="#72a6d2"/>
<rect x="464" y="118" width="4" height="4" fill="#7aacd4"/>
<rect x="468" y="118" width="4" height="4" fill="#83b1d6"/>
<rect x="472" y="118" width="4" height="4" fill="#8bb7d9"/>
<rect x="476" y="118" width="4" height="4" fill="#94bcdb"/>
<rect x="480" y="118" width="24" height="4" fill="#9cc2dd"/>
<rect x="504" y="118" width="4" height="4" fill="#94bcdb"/>
<rect x="508" y="118" width="4" height="4" fill="#8bb7d9"/>
<rect x="512" y="118" width="4" height="4" fill="#83b1d6"/>
<rect x="516" y="118" width="4" height="4" fill="#7aacd4"/>
<rect x="520" y="118" width="4" height="4" fill="#72a6d2"/>
<rect x="524" y="118" width="4" height="4" fill="#669ece"/>
<rect x="528" y="118" width="4" height="4" fill="#5b96cb"/>
<rect x="532" y="118" width="4" height="4" fill="#508dc8"/>
<rect x="536" y="118" width="4" height="4" fill="#4584c6"/>
<rect x="540" y="118" width="52" height="4" fill="#3a7ac4"/>
<rect x="72" y="122" width="12" height="4" fill="#5b96cb"/>
<rect x="84" y="122" width="4" height="4" fill="#619acd"/>
<rect x="88" y="122" width="8" height="4" fill="#669ece"/>
<rect x="96" y="122" width="4" height="4" fill="#6ca2d0"/>
<rect x="100" y="122" width="4" height="4" fill="#72a6d2"/>
<rect x="104" y="122" width="4" height="4" fill="#8bb7d9"/>
<rect x="108" y="122" width="4" height="4" fill="#9cc2dd"/>
<rect x="112" y="122" width="4" height="4" fill="#b3d0de"/>
<rect x="116" y="122" width="4" height="4" fill="#c2d9df"/>
<rect x="120" y="122" width="4" height="4" fill="#d3e3d0"/>
<rect x="124" y="122" width="4" height="4" fill="#c8dcda"/>
<rect x="128" y="122" width="4" height="4" fill="#c2d9df"/>
<rect x="132" y="122" width="4" height="4" fill="#b3d0de"/>
<rect x="136" y="122" width="4" height="4" fill="#abcbde"/>
<rect x="140" y="122" width="4" height="4" fill="#9cc2dd"/>
<rect x="144" y="122" width="4" height="4" fill="#a4c7dd"/>
<rect x="148" y="122" width="4" height="4" fill="#abcbde"/>
<rect x="152" y="122" width="4" height="4" fill="#b3d0de"/>
<rect x="156" y="122" width="4" height="4" fill="#bad4df"/>
<rect x="160" y="122" width="4" height="4" fill="#c2d9df"/>
<rect x="164" y="122" width="4" height="4" fill="#bad4df"/>
<rect x="168" y="122" width="8" height="4" fill="#b3d0de"/>
<rect x="176" y="122" width="4" height="4" fill="#abcbde"/>
<rect x="180" y="122" width="4" height="4" fill="#a4c7dd"/>
<rect x="184" y="122" width="4" height="4" fill="#9cc2dd"/>
<rect x="188" y="122" width="4" height="4" fill="#8bb7d9"/>
<rect x="192" y="122" width="4" height="4" fill="#83b1d6"/>
<rect x="196" y="122" width="4" height="4" fill="#72a6d2"/>
<rect x="200" y="122" width="4" height="4" fill="#6ca2d0"/>
<rect x="204" y="122" width="4" height="4" fill="#669ece"/>
<rect x="208" y="122" width="8" height="4" fill="#619acd"/>
<rect x="216" y="122" width="4" height="4" fill="#5b96cb"/>
<rect x="220" y="122" width="4" height="4" fill="#5592c9"/>
<rect x="224" y="122" width="4" height="4" fill="#4a88c7"/>
<rect x="228" y="122" width="4" height="4" fill="#3f7fc5"/>
<rect x="232" y="122" width="4" height="4" fill="#3774c6"/>
<rect x="236" y="122" width="4" height="4" fill="#3069c9"/>
<rect x="240" y="122" width="12" height="4" fill="#2a5ecc"/>
<rect x="252" y="122" width="12" height="4" fill="#2758cf"/>
<rect x="264" y="122" width="4" height="4" fill="#2d64ca"/>
<rect x="268" y="122" width="4" height="4" fill="#3069c9"/>
<rect x="272" y="122" width="4" height="4" fill="#3774c6"/>
<rect x="276" y="122" width="4" height="4" fill="#3a7ac4"/>
<rect x="280" y="122" width="4" height="4" fill="#4584c6"/>
<rect x="284" y="122" width="4" height="4" fill="#4a88c7"/>
<rect x="288" y="122" width="8" height="4" fill="#508dc8"/>
<rect x="296" y="122" width="4" height="4" fill="#5592c9"/>
<rect x="300" y="122" width="4" height="4" fill="#5b96cb"/>
<rect x="304" y="122" width="4" height="4" fill="#5592c9"/>
<rect x="308" y="122" width="8" height="4" fill="#508dc8"/>
<rect x="316" y="122" width="4" height="4" fill="#4a88c7"/>
<rect x="320" y="122" width="4" height="4" fill="#4584c6"/>
<rect x="324" y="122" width="4" height="4" fill="#3a7ac4"/>
<rect x="328" y="122" width="4" height="4" fill="#3774c6"/>
<rect x="332" y="122" width="4" height="4" fill="#3069c9"/>
<rect x="336" y="122" width="4" height="4" fill="#2d64ca"/>
<rect x="340" y="122" width="44" height="4" fill="#2758cf"/>
<rect x="384" y="122" width="4" height="4" fill="#2a5ecc"/>
<rect x="388" y="122" width="4" height="4" fill="#2d64ca"/>
<rect x="392" y="122" width="4" height="4" fill="#3069c9"/>
<rect x="396" y="122" width="4" height="4" fill="#346fc7"/>
<rect x="400" y="122" width="4" height="4" fill="#3774c6"/>
<rect x="404" y="122" width="4" height="4" fill="#3a7ac4"/>
<rect x="408" y="122" width="4" height="4" fill="#3f7fc5"/>
<rect x="412" y="122" width="4" height="4" fill="#4a88c7"/>
<rect x="416" y="122" width="4" height="4" fill="#508dc8"/>
<rect x="420" y="122" width="4" height="4" fill="#5592c9"/>
<rect x="424" y="122" width="4" height="4" fill="#5b96cb"/>
<rect x="428" y="122" width="4" height="4" fill="#619acd"/>
<rect x="432" y="122" width="4" height="4" fill="#669ece"/>
<rect x="436" y="122" width="4" height="4" fill="#6ca2d0"/>
<rect x="440" y="122" width="24" height="4" fill="#72a6d2"/>
<rect x="464" y="122" width="4" height="4" fill="#7aacd4"/>
<rect x="468" y="122" width="4" height="4" fill="#83b1d6"/>
<rect x="472" y="122" width="4" height="4" fill="#8bb7d9"/>
<rect x="476" y="122" width="4" height="4" fill="#94bcdb"/>
<rect x="480" y="122" width="12" height="4" fill="#9cc2dd"/>
<rect x="492" y="122" width="12" height="4" fill="#a4c7dd"/>
<rect x="504" y="122" width="4" height="4" fill="#9cc2dd"/>
<rect x="508" y="122" width="4" height="4" fill="#94bcdb"/>
<rect x="512" y="122" width="4" height="4" fill="#8bb7d9"/>
<rect x="516" y="122" width="4" height="4" fill="#83b1d6"/>
<rect x="520" y="122" width="4" height="4" fill="#7aacd4"/>
<rect x="524" y="122" width="4" height="4" fill="#72a6d2"/>
<rect x="528" y="122" width="4" height="4" fill="#669ece"/>
<rect x="532" y="122" width="4" height="4" fill="#619acd"/>
<rect x="536" y="122" width="4" height="4" fill="#5592c9"/>
<rect x="540" y="122" width="32" height="4" fill="#508dc8"/>
<rect x="572" y="122" width="20" height="4" fill="#5592c9"/>
<rect x="72" y="126" width="12" height="4" fill="#619acd"/>
<rect x="84" y="126" width="8" height="4" fill="#669ece"/>
<rect x="92" y="126" width="8" height="4" fill="#6ca2d0"/>
<rect x="100" y="126" width="4" height="4" fill="#72a6d2"/>
<rect x="104" y="126" width="4" height="4" fill="#83b1d6"/>
<rect x="108" y="126" width="4" height="4" fill="#94bcdb"/>
<rect x="112" y="126" width="4" height="4" fill="#abcbde"/>
<rect x="116" y="126" width="4" height="4" fill="#bad4df"/>
<rect x="120" y="126" width="4" height="4" fill="#c8dcda"/>
<rect x="124" y="126" width="4" height="4" fill="#c2d9df"/>
<rect x="128" y="126" width="4" height="4" fill="#bad4df"/>
<rect x="132" y="126" width="4" height="4" fill="#abcbde"/>
<rect x="136" y="126" width="4" height="4" fill="#a4c7dd"/>
<rect x="140" y="126" width="4" height="4" fill="#9cc2dd"/>
<rect x="144" y="126" width="4" height="4" fill="#a4c7dd"/>
<rect x="148" y="126" width="4" height="4" fill="#abcbde"/>
<rect x="152" y="126" width="4" height="4" fill="#b3d0de"/>
<rect x="156" y="126" width="4" height="4" fill="#bad4df"/>
<rect x="160" y="126" width="4" height="4" fill="#c2d9df"/>
<rect x="164" y="126" width="8" height="4" fill="#bad4df"/>
<rect x="172" y="126" width="8" height="4" fill="#b3d0de"/>
<rect x="180" y="126" width="4" height="4" fill="#abcbde"/>
<rect x="184" y="126" width="4" height="4" fill="#9cc2dd"/>
<rect x="188" y="126" width="4" height="4" fill="#8bb7d9"/>
<rect x="192" y="126" width="4" height="4" fill="#83b1d6"/>
<rect x="196" y="126" width="4" height="4" fill="#72a6d2"/>
<rect x="200" y="126" width="4" height="4" fill="#669ece"/>
<rect x="204" y="126" width="8" height="4" fill="#619acd"/>
<rect x="212" y="126" width="8" height="4" fill="#5b96cb"/>
<rect x="220" y="126" width="4" height="4" fill="#5592c9"/>
<rect x="224" y="126" width="4" height="4" fill="#508dc8"/>
<rect x="228" y="126" width="4" height="4" fill="#4a88c7"/>
<rect x="232" y="126" width="4" height="4" fill="#4584c6"/>
<rect x="236" y="126" width="4" height="4" fill="#3f7fc5"/>
<rect x="240" y="126" width="4" height="4" fill="#3a7ac4"/>
<rect x="244" y="126" width="4" height="4" fill="#3774c6"/>
<rect x="248" y="126" width="4" height="4" fill="#3069c9"/>
<rect x="252" y="126" width="4" height="4" fill="#2d64ca"/>
<rect x="256" y="126" width="4" height="4" fill="#2758cf"/>
<rect x="260" y="126" width="4" height="4" fill="#2453d2"/>
<rect x="264" y="126" width="4" height="4" fill="#2758cf"/>
<rect x="268" y="126" width="4" height="4" fill="#2a5ecc"/>
<rect x="272" y="126" width="4" height="4" fill="#3069c9"/>
<rect x="276" y="126" width="4" height="4" fill="#346fc7"/>
<rect x="280" y="126" width="4" height="4" fill="#3774c6"/>
<rect x="284" y="126" width="8" height="4" fill="#3a7ac4"/>
<rect x="292" y="126" width="8" height="4" fill="#3f7fc5"/>
<rect x="300" y="126" width="4" height="4" fill="#4584c6"/>
<rect x="304" y="126" width="8" height="4" fill="#3f7fc5"/>
<rect x="312" y="126" width="8" height="4" fill="#3a7ac4"/>
<rect x="320" y="126" width="4" height="4" fill="#3774c6"/>
<rect x="324" y="126" width="4" height="4" fill="#346fc7"/>
<rect x="328" y="126" width="4" height="4" fill="#3069c9"/>
<rect x="332" y="126" width="4" height="4" fill="#2a5ecc"/>
<rect x="336" y="126" width="4" height="4" fill="#2758cf"/>
<rect x="340" y="126" width="44" height="4" fill="#2453d2"/>
<rect x="384" y="126" width="4" height="4" fill="#2758cf"/>
<rect x="388" y="126" width="4" height="4" fill="#2a5ecc"/>
<rect x="392" y="126" width="4" height="4" fill="#2d64ca"/>
<rect x="396" y="126" width="4" height="4" fill="#3069c9"/>
<rect x="400" y="126" width="4" height="4" fill="#346fc7"/>
<rect x="404" y="126" width="4" height="4" fill="#3774c6"/>
<rect x="408" y="126" width="4" height="4" fill="#3f7fc5"/>
<rect x="412" y="126" width="4" height="4" fill="#4584c6"/>
<rect x="416" y="126" width="4" height="4" fill="#508dc8"/>
<rect x="420" y="126" width="4" height="4" fill="#5592c9"/>
<rect x="424" y="126" width="4" height="4" fill="#5b96cb"/>
<rect x="428" y="126" width="4" height="4" fill="#619acd"/>
<rect x="432" y="126" width="4" height="4" fill="#669ece"/>
<rect x="436" y="126" width="4" height="4" fill="#6ca2d0"/>
<rect x="440" y="126" width="24" height="4" fill="#72a6d2"/>
<rect x="464" y="126" width="4" height="4" fill="#7aacd4"/>
<rect x="468" y="126" width="4" height="4" fill="#83b1d6"/>
<rect x="472" y="126" width="4" height="4" fill="#8bb7d9"/>
<rect x="476" y="126" width="4" height="4" fill="#94bcdb"/>
<rect x="480" y="126" width="8" height="4" fill="#9cc2dd"/>
<rect x="488" y="126" width="8" height="4" fill="#a4c7dd"/>
<rect x="496" y="126" width="8" height="4" fill="#abcbde"/>
<rect x="504" y="126" width="4" height="4" fill="#a4c7dd"/>
<rect x="508" y="126" width="4" height="4" fill="#9cc2dd"/>
<rect x="512" y="126" width="4" height="4" fill="#94bcdb"/>
<rect x="516" y="126" width="4" height="4" fill="#8bb7d9"/>
<rect x="520" y="126" width="4" height="4" fill="#83b1d6"/>
<rect x="524" y="126" width="4" height="4" fill="#7aacd4"/>
<rect x="528" y="126" width="8" height="4" fill="#72a6d2"/>
<rect x="536" y="126" width="4" height="4" fill="#6ca2d0"/>
<rect x="540" y="126" width="28" height="4" fill="#669ece"/>
<rect x="568" y="126" width="8" height="4" fill="#6ca2d0"/>
<rect x="576" y="126" width="16" height="4" fill="#72a6d2"/>
<rect x="72" y="130" width="16" height="4" fill="#669ece"/>
<rect x="88" y="130" width="8" height="4" fill="#6ca2d0"/>
<rect x="96" y="130" width="8" height="4" fill="#72a6d2"/>
<rect x="104" y="130" width="4" height="4" fill="#83b1d6"/>
<rect x="108" y="130" width="4" height="4" fill="#94bcdb"/>
<rect x="112" y="130" width="4" height="4" fill="#9cc2dd"/>
<rect x="116" y="130" width="4" height="4" fill="#abcbde"/>
<rect x="120" y="130" width="4" height="4" fill="#bad4df"/>
<rect x="124" y="130" width="4" height="4" fill="#b3d0de"/>
<rect x="128" y="130" width="8" height="4" fill="#abcbde"/>
<rect x="136" y="130" width="4" height="4" fill="#a4c7dd"/>
<rect x="140" y="130" width="4" height="4" fill="#9cc2dd"/>
<rect x="144" y="130" width="4" height="4" fill="#a4c7dd"/>
<rect x="148" y="130" width="4" height="4" fill="#abcbde"/>
<rect x="152" y="130" width="4" height="4" fill="#b3d0de"/>
<rect x="156" y="130" width="4" height="4" fill="#bad4df"/>
<rect x="160" y="130" width="8" height="4" fill="#c2d9df"/>
<rect x="168" y="130" width="8" height="4" fill="#bad4df"/>
<rect x="176" y="130" width="8" height="4" fill="#b3d0de"/>
<rect x="184" y="130" width="4" height="4" fill="#a4c7dd"/>
<rect x="188" y="130" width="4" height="4" fill="#94bcdb"/>
<rect x="192" y="130" width="4" height="4" fill="#7aacd4"/>
<rect x="196" y="130" width="4" height="4" fill="#6ca2d0"/>
<rect x="200" y="130" width="8" height="4" fill="#619acd"/>
<rect x="208" y="130" width="8" height="4" fill="#5b96cb"/>
<rect x="216" y="130" width="28" height="4" fill="#5592c9"/>
<rect x="244" y="130" width="4" height="4" fill="#4584c6"/>
<rect x="248" y="130" width="4" height="4" fill="#3a7ac4"/>
<rect x="252" y="130" width="4" height="4" fill="#3069c9"/>
<rect x="256" y="130" width="4" height="4" fill="#2a5ecc"/>
<rect x="260" y="130" width="4" height="4" fill="#224dd6"/>
<rect x="264" y="130" width="4" height="4" fill="#2453d2"/>
<rect x="268" y="130" width="8" height="4" fill="#2758cf"/>
<rect x="276" y="130" width="4" height="4" fill="#2a5ecc"/>
<rect x="280" y="130" width="8" height="4" fill="#2d64ca"/>
<rect x="288" y="130" width="8" height="4" fill="#3069c9"/>
<rect x="296" y="130" width="12" height="4" fill="#346fc7"/>
<rect x="308" y="130" width="8" height="4" fill="#3069c9"/>
<rect x="316" y="130" width="8" height="4" fill="#2d64ca"/>
<rect x="324" y="130" width="4" height="4" fill="#2a5ecc"/>
<rect x="328" y="130" width="8" height="4" fill="#2758cf"/>
<rect x="336" y="130" width="4" height="4" fill="#2453d2"/>
<rect x="340" y="130" width="44" height="4" fill="#224dd6"/>
<rect x="384" y="130" width="4" height="4" fill="#2453d2"/>
<rect x="388" y="130" width="4" height="4" fill="#2758cf"/>
<rect x="392" y="130" width="4" height="4" fill="#2a5ecc"/>
<rect x="396" y="130" width="4" height="4" fill="#2d64ca"/>
<rect x="400" y="130" width="4" height="4" fill="#3069c9"/>
<rect x="404" y="130" width="4" height="4" fill="#3774c6"/>
<rect x="408" y="130" width="4" height="4" fill="#3a7ac4"/>
<rect x="412" y="130" width="4" height="4" fill="#4584c6"/>
<rect x="416" y="130" width="4" height="4" fill="#4a88c7"/>
<rect x="420" y="130" width="4" height="4" fill="#5592c9"/>
<rect x="424" y="130" width="4" height="4" fill="#5b96cb"/>
<rect x="428" y="130" width="4" height="4" fill="#619acd"/>
<rect x="432" y="130" width="4" height="4" fill="#669ece"/>
<rect x="436" y="130" width="4" height="4" fill="#6ca2d0"/>
<rect x="440" y="130" width="24" height="4" fill="#72a6d2"/>
<rect x="464" y="130" width="4" height="4" fill="#7aacd4"/>
<rect x="468" y="130" width="4" height="4" fill="#83b1d6"/>
<rect x="472" y="130" width="4" height="4" fill="#8bb7d9"/>
<rect x="476" y="130" width="4" height="4" fill="#94bcdb"/>
<rect x="480" y="130" width="4" height="4" fill="#9cc2dd"/>
<rect x="484" y="130" width="8" height="4" fill="#a4c7dd"/>
<rect x="492" y="130" width="8" height="4" fill="#abcbde"/>
<rect x="500" y="130" width="4" height="4" fill="#b3d0de"/>
<rect x="504" y="130" width="4" height="4" fill="#abcbde"/>
<rect x="508" y="130" width="4" height="4" fill="#a4c7dd"/>
<rect x="512" y="130" width="4" height="4" fill="#9cc2dd"/>
<rect x="516" y="130" width="4" height="4" fill="#94bcdb"/>
<rect x="520" y="130" width="12" height="4" fill="#8bb7d9"/>
<rect x="532" y="130" width="32" height="4" fill="#83b1d6"/>
<rect x="564" y="130" width="8" height="4" fill="#8bb7d9"/>
<rect x="572" y="130" width="8" height="4" fill="#94bcdb"/>
<rect x="580" y="130" width="12" height="4" fill="#9cc2dd"/>
<rect x="72" y="134" width="20" height="4" fill="#6ca2d0"/>
<rect x="92" y="134" width="12" height="4" fill="#72a6d2"/>
<rect x="104" y="134" width="4" height="4" fill="#7aacd4"/>
<rect x="108" y="134" width="4" height="4" fill="#8bb7d9"/>
<rect x="112" y="134" width="4" height="4" fill="#94bcdb"/>
<rect x="116" y="134" width="4" height="4" fill="#a4c7dd"/>
<rect x="120" y="134" width="8" height="4" fill="#abcbde"/>
<rect x="128" y="134" width="8" height="4" fill="#a4c7dd"/>
<rect x="136" y="134" width="8" height="4" fill="#9cc2dd"/>
<rect x="144" y="134" width="4" height="4" fill="#a4c7dd"/>
<rect x="148" y="134" width="4" height="4" fill="#abcbde"/>
<rect x="152" y="134" width="4" height="4" fill="#b3d0de"/>
<rect x="156" y="134" width="4" height="4" fill="#bad4df"/>
<rect x="160" y="134" width="12" height="4" fill="#c2d9df"/>
<rect x="172" y="134" width="12" height="4" fill="#bad4df"/>
<rect x="184" y="134" width="4" height="4" fill="#a4c7dd"/>
<rect x="188" y="134" width="4" height="4" fill="#94bcdb"/>
<rect x="192" y="134" width="4" height="4" fill="#7aacd4"/>
<rect x="196" y="134" width="4" height="4" fill="#6ca2d0"/>
<rect x="200" y="134" width="12" height="4" fill="#5b96cb"/>
<rect x="212" y="134" width="12" height="4" fill="#5592c9"/>
<rect x="224" y="134" width="4" height="4" fill="#5b96cb"/>
<rect x="228" y="134" width="4" height="4" fill="#619acd"/>
<rect x="232" y="134" width="4" height="4" fill="#669ece"/>
<rect x="236" y="134" width="4" height="4" fill="#6ca2d0"/>
<rect x="240" y="134" width="4" height="4" fill="#72a6d2"/>
<rect x="244" y="134" width="4" height="4" fill="#5b96cb"/>
<rect x="248" y="134" width="4" height="4" fill="#4584c6"/>
<rect x="252" y="134" width="4" height="4" fill="#3774c6"/>
<rect x="256" y="134" width="4" height="4" fill="#2a5ecc"/>
<rect x="260" y="134" width="8" height="4" fill="#1f48d9"/>
<rect x="268" y="134" width="8" height="4" fill="#224dd6"/>
<rect x="276" y="134" width="16" height="4" fill="#2453d2"/>
<rect x="292" y="134" width="20" height="4" fill="#2758cf"/>
<rect x="312" y="134" width="16" height="4" fill="#2453d2"/>
<rect x="328" y="134" width="8" height="4" fill="#224dd6"/>
<rect x="336" y="134" width="48" height="4" fill="#1f48d9"/>
<rect x="384" y="134" width="4" height="4" fill="#224dd6"/>
<rect x="388" y="134" width="4" height="4" fill="#2453d2"/>
<rect x="392" y="134" width="4" height="4" fill="#2758cf"/>
<rect x="396" y="134" width="4" height="4" fill="#2a5ecc"/>
<rect x="400" y="134" width="4" height="4" fill="#2d64ca"/>
<rect x="404" y="134" width="4" height="4" fill="#346fc7"/>
<rect x="408" y="134" width="4" height="4" fill="#3a7ac4"/>
<rect x="412" y="134" width="4" height="4" fill="#3f7fc5"/>
<rect x="416" y="134" width="4" height="4" fill="#4a88c7"/>
<rect x="420" y="134" width="4" height="4" fill="#5592c9"/>
<rect x="424" y="134" width="4" height="4" fill="#5b96cb"/>
<rect x="428" y="134" width="4" height="4" fill="#619acd"/>
<rect x="432" y="134" width="4" height="4" fill="#669ece"/>
<rect x="436" y="134" width="4" height="4" fill="#6ca2d0"/>
<rect x="440" y="134" width="24" height="4" fill="#72a6d2"/>
<rect x="464" y="134" width="4" height="4" fill="#7aacd4"/>
<rect x="468" y="134" width="4" height="4" fill="#83b1d6"/>
<rect x="472" y="134" width="4" height="4" fill="#8bb7d9"/>
<rect x="476" y="134" width="4" height="4" fill="#94bcdb"/>
<rect x="480" y="134" width="4" height="4" fill="#9cc2dd"/>
<rect x="484" y="134" width="4" height="4" fill="#a4c7dd"/>
<rect x="488" y="134" width="8" height="4" fill="#abcbde"/>
<rect x="496" y="134" width="4" height="4" fill="#b3d0de"/>
<rect x="500" y="134" width="4" height="4" fill="#bad4df"/>
<rect x="504" y="134" width="4" height="4" fill="#b3d0de"/>
<rect x="508" y="134" width="4" height="4" fill="#abcbde"/>
<rect x="512" y="134" width="4" height="4" fill="#a4c7dd"/>
<rect x="516" y="134" width="4" height="4" fill="#9cc2dd"/>
<rect x="520" y="134" width="8" height="4" fill="#94bcdb"/>
<rect x="528" y="134" width="8" height="4" fill="#9cc2dd"/>
<rect x="536" y="134" width="28" height="4" fill="#a4c7dd"/>
<rect x="564" y="134" width="4" height="4" fill="#abcbde"/>
<rect x="568" y="134" width="8" height="4" fill="#b3d0de"/>
<rect x="576" y="134" width="4" height="4" fill="#bad4df"/>
<rect x="580" y="134" width="12" height="4" fill="#c2d9df"/>
<rect x="72" y="138" width="32" height="4" fill="#72a6d2"/>
<rect x="104" y="138" width="4" height="4" fill="#7aacd4"/>
<rect x="108" y="138" width="4" height="4" fill="#83b1d6"/>
<rect x="112" y="138" width="4" height="4" fill="#8bb7d9"/>
<rect x="116" y="138" width="4" height="4" fill="#94bcdb"/>
<rect x="120" y="138" width="24" height="4" fill="#9cc2dd"/>
<rect x="144" y="138" width="4" height="4" fill="#a4c7dd"/>
<rect x="148" y="138" width="4" height="4" fill="#abcbde"/>
<rect x="152" y="138" width="4" height="4" fill="#b3d0de"/>
<rect x="156" y="138" width="4" height="4" fill="#bad4df"/>
<rect x="160" y="138" width="24" height="4" fill="#c2d9df"/>
<rect x="184" y="138" width="4" height="4" fill="#abcbde"/>
<rect x="188" y="138" width="4" height="4" fill="#94bcdb"/>
<rect x="192" y="138" width="4" height="4" fill="#7aacd4"/>
<rect x="196" y="138" width="4" height="4" fill="#669ece"/>
<rect x="200" y="138" width="24" height="4" fill="#5592c9"/>
<rect x="224" y="138" width="4" height="4" fill="#619acd"/>
<rect x="228" y="138" width="4" height="4" fill="#6ca2d0"/>
<rect x="232" y="138" width="4" height="4" fill="#7aacd4"/>
<rect x="236" y="138" width="4" height="4" fill="#8bb7d9"/>
<rect x="240" y="138" width="4" height="4" fill="#9cc2dd"/>
<rect x="244" y="138" width="4" height="4" fill="#72a6d2"/>
<rect x="248" y="138" width="4" height="4" fill="#5592c9"/>
<rect x="252" y="138" width="4" height="4" fill="#3a7ac4"/>
<rect x="256" y="138" width="4" height="4" fill="#2a5ecc"/>
<rect x="260" y="138" width="124" height="4" fill="#1c42dc"/>
<rect x="384" y="138" width="4" height="4" fill="#1f48d9"/>
<rect x="388" y="138" width="4" height="4" fill="#224dd6"/>
<rect x="392" y="138" width="4" height="4" fill="#2453d2"/>
<rect x="396" y="138" width="4" height="4" fill="#2758cf"/>
<rect x="400" y="138" width="4" height="4" fill="#2a5ecc"/>
<rect x="404" y="138" width="4" height="4" fill="#3069c9"/>
<rect x="408" y="138" width="4" height="4" fill="#3774c6"/>
<rect x="412" y="138" width="4" height="4" fill="#3f7fc5"/>
<rect x="416" y="138" width="4" height="4" fill="#4a88c7"/>
<rect x="420" y="138" width="4" height="4" fill="#5592c9"/>
<rect x="424" y="138" width="4" height="4" fill="#5b96cb"/>
<rect x="428" y="138" width="4" height="4" fill="#619acd"/>
<rect x="432" y="138" width="4" height="4" fill="#669ece"/>
<rect x="436" y="138" width="4" height="4" fill="#6ca2d0"/>
<rect x="440" y="138" width="24" height="4" fill="#72a6d2"/>
<rect x="464" y="138" width="4" height="4" fill="#7aacd4"/>
<rect x="468" y="138" width="4" height="4" fill="#83b1d6"/>
<rect x="472" y="138" width="4" height="4" fill="#8bb7d9"/>
<rect x="476" y="138" width="4" height="4" fill="#94bcdb"/>
<rect x="480" y="138" width="4" height="4" fill="#9cc2dd"/>
<rect x="484" y="138" width="4" height="4" fill="#a4c7dd"/>
<rect x="488" y="138" width="4" height="4" fill="#abcbde"/>
<rect x="492" y="138" width="4" height="4" fill="#b3d0de"/>
<rect x="496" y="138" width="4" height="4" fill="#bad4df"/>
<rect x="500" y="138" width="4" height="4" fill="#c2d9df"/>
<rect x="504" y="138" width="4" height="4" fill="#bad4df"/>
<rect x="508" y="138" width="4" height="4" fill="#b3d0de"/>
<rect x="512" y="138" width="4" height="4" fill="#abcbde"/>
<rect x="516" y="138" width="4" height="4" fill="#a4c7dd"/>
<rect x="520" y="138" width="4" height="4" fill="#9cc2dd"/>
<rect x="524" y="138" width="4" height="4" fill="#a4c7dd"/>
<rect x="528" y="138" width="4" height="4" fill="#abcbde"/>
<rect x="532" y="138" width="4" height="4" fill="#b3d0de"/>
<rect x="536" y="138" width="4" height="4" fill="#bad4df"/>
<rect x="540" y="138" width="24" height="4" fill="#c2d9df"/>
<rect x="564" y="138" width="4" height="4" fill="#c8dcda"/>
<rect x="568" y="138" width="4" height="4" fill="#cedfd5"/>
<rect x="572" y="138" width="4" height="4" fill="#d3e3d0"/>
<rect x="576" y="138" width="4" height="4" fill="#d9e6cb"/>
<rect x="580" y="138" width="12" height="4" fill="#dfe9c6"/>
<rect x="72" y="142" width="36" height="4" fill="#8bb7d9"/>
<rect x="108" y="142" width="8" height="4" fill="#94bcdb"/>
<rect x="116" y="142" width="16" height="4" fill="#9cc2dd"/>
<rect x="132" y="142" width="12" height="4" fill="#94bcdb"/>
<rect x="144" y="142" width="4" height="4" fill="#9cc2dd"/>
<rect x="148" y="142" width="4" height="4" fill="#a4c7dd"/>
<rect x="152" y="142" width="4" height="4" fill="#abcbde"/>
<rect x="156" y="142" width="4" height="4" fill="#b3d0de"/>
<rect x="160" y="142" width="12" height="4" fill="#bad4df"/>
<rect x="172" y="142" width="12" height="4" fill="#c2d9df"/>
<rect x="184" y="142" width="4" height="4" fill="#b3d0de"/>
<rect x="188" y="142" width="4" height="4" fill="#9cc2dd"/>
<rect x="192" y="142" width="4" height="4" fill="#8bb7d9"/>
<rect x="196" y="142" width="4" height="4" fill="#72a6d2"/>
<rect x="200" y="142" width="12" height="4" fill="#669ece"/>
<rect x="212" y="142" width="12" height="4" fill="#619acd"/>
<rect x="224" y="142" width="4" height="4" fill="#6ca2d0"/>
<rect x="228" y="142" width="4" height="4" fill="#7aacd4"/>
<rect x="232" y="142" width="4" height="4" fill="#8bb7d9"/>
<rect x="236" y="142" width="4" height="4" fill="#9cc2dd"/>
<rect x="240" y="142" width="4" height="4" fill="#abcbde"/>
<rect x="244" y="142" width="4" height="4" fill="#8bb7d9"/>
<rect x="248" y="142" width="4" height="4" fill="#669ece"/>
<rect x="252" y="142" width="4" height="4" fill="#508dc8"/>
<rect x="256" y="142" width="4" height="4" fill="#3774c6"/>
<rect x="260" y="142" width="4" height="4" fill="#2a5ecc"/>
<rect x="264" y="142" width="4" height="4" fill="#2758cf"/>
<rect x="268" y="142" width="4" height="4" fill="#2453d2"/>
<rect x="272" y="142" width="4" height="4" fill="#224dd6"/>
<rect x="276" y="142" width="4" height="4" fill="#1f48d9"/>
<rect x="280" y="142" width="92" height="4" fill="#1c42dc"/>
<rect x="372" y="142" width="12" height="4" fill="#1f48d9"/>
<rect x="384" y="142" width="4" height="4" fill="#224dd6"/>
<rect x="388" y="142" width="8" height="4" fill="#2453d2"/>
<rect x="396" y="142" width="4" height="4" fill="#2758cf"/>
<rect x="400" y="142" width="4" height="4" fill="#2a5ecc"/>
<rect x="404" y="142" width="4" height="4" fill="#3069c9"/>
<rect x="408" y="142" width="4" height="4" fill="#3774c6"/>
<rect x="412" y="142" width="4" height="4" fill="#4584c6"/>
<rect x="416" y="142" width="4" height="4" fill="#508dc8"/>
<rect x="420" y="142" width="4" height="4" fill="#5b96cb"/>
<rect x="424" y="142" width="4" height="4" fill="#619acd"/>
<rect x="428" y="142" width="4" height="4" fill="#669ece"/>
<rect x="432" y="142" width="4" height="4" fill="#6ca2d0"/>
<rect x="436" y="142" width="4" height="4" fill="#72a6d2"/>
<rect x="440" y="142" width="12" height="4" fill="#7aacd4"/>
<rect x="452" y="142" width="12" height="4" fill="#83b1d6"/>
<rect x="464" y="142" width="4" height="4" fill="#8bb7d9"/>
<rect x="468" y="142" width="8" height="4" fill="#94bcdb"/>
<rect x="476" y="142" width="4" height="4" fill="#9cc2dd"/>
<rect x="480" y="142" width="4" height="4" fill="#a4c7dd"/>
<rect x="484" y="142" width="8" height="4" fill="#abcbde"/>
<rect x="492" y="142" width="8" height="4" fill="#b3d0de"/>
<rect x="500" y="142" width="4" height="4" fill="#bad4df"/>
<rect x="504" y="142" width="8" height="4" fill="#b3d0de"/>
<rect x="512" y="142" width="8" height="4" fill="#abcbde"/>
<rect x="520" y="142" width="4" height="4" fill="#a4c7dd"/>
<rect x="524" y="142" width="4" height="4" fill="#abcbde"/>
<rect x="528" y="142" width="4" height="4" fill="#b3d0de"/>
<rect x="532" y="142" width="4" height="4" fill="#bad4df"/>
<rect x="536" y="142" width="4" height="4" fill="#c2d9df"/>
<rect x="540" y="142" width="24" height="4" fill="#c8dcda"/>
<rect x="564" y="142" width="4" height="4" fill="#cedfd5"/>
<rect x="568" y="142" width="8" height="4" fill="#d3e3d0"/>
<rect x="576" y="142" width="4" height="4" fill="#d9e6cb"/>
<rect x="580" y="142" width="12" height="4" fill="#dfe9c6"/>
<rect x="72" y="146" width="40" height="4" fill="#a4c7dd"/>
<rect x="112" y="146" width="16" height="4" fill="#9cc2dd"/>
<rect x="128" y="146" width="8" height="4" fill="#94bcdb"/>
<rect x="136" y="146" width="8" height="4" fill="#8bb7d9"/>
<rect x="144" y="146" width="4" height="4" fill="#94bcdb"/>
<rect x="148" y="146" width="4" height="4" fill="#9cc2dd"/>
<rect x="152" y="146" width="4" height="4" fill="#a4c7dd"/>
<rect x="156" y="146" width="4" height="4" fill="#abcbde"/>
<rect x="160" y="146" width="8" height="4" fill="#b3d0de"/>
<rect x="168" y="146" width="8" height="4" fill="#bad4df"/>
<rect x="176" y="146" width="8" height="4" fill="#c2d9df"/>
<rect x="184" y="146" width="4" height="4" fill="#b3d0de"/>
<rect x="188" y="146" width="4" height="4" fill="#a4c7dd"/>
<rect x="192" y="146" width="4" height="4" fill="#9cc2dd"/>
<rect x="196" y="146" width="4" height="4" fill="#8bb7d9"/>
<rect x="200" y="146" width="8" height="4" fill="#7aacd4"/>
<rect x="208" y="146" width="8" height="4" fill="#72a6d2"/>
<rect x="216" y="146" width="8" height="4" fill="#6ca2d0"/>
<rect x="224" y="146" width="4" height="4" fill="#7aacd4"/>
<rect x="228" y="146" width="4" height="4" fill="#8bb7d9"/>
<rect x="232" y="146" width="4" height="4" fill="#9cc2dd"/>
<rect x="236" y="146" width="4" height="4" fill="#abcbde"/>
<rect x="240" y="146" width="4" height="4" fill="#bad4df"/>
<rect x="244" y="146" width="4" height="4" fill="#9cc2dd"/>
<rect x="248" y="146" width="4" height="4" fill="#7aacd4"/>
<rect x="252" y="146" width="4" height="4" fill="#669ece"/>
<rect x="256" y="146" width="4" height="4" fill="#508dc8"/>
<rect x="260" y="146" width="4" height="4" fill="#3a7ac4"/>
<rect x="264" y="146" width="4" height="4" fill="#346fc7"/>
<rect x="268" y="146" width="4" height="4" fill="#2d64ca"/>
<rect x="272" y="146" width="4" height="4" fill="#2758cf"/>
<rect x="276" y="146" width="4" height="4" fill="#224dd6"/>
<rect x="280" y="146" width="88" height="4" fill="#1c42dc"/>
<rect x="368" y="146" width="8" height="4" fill="#1f48d9"/>
<rect x="376" y="146" width="8" height="4" fill="#224dd6"/>
<rect x="384" y="146" width="8" height="4" fill="#2453d2"/>
<rect x="392" y="146" width="8" height="4" fill="#2758cf"/>
<rect x="400" y="146" width="4" height="4" fill="#2a5ecc"/>
<rect x="404" y="146" width="4" height="4" fill="#3069c9"/>
<rect x="408" y="146" width="4" height="4" fill="#3a7ac4"/>
<rect x="412" y="146" width="4" height="4" fill="#4584c6"/>
<rect x="416" y="146" width="4" height="4" fill="#5592c9"/>
<rect x="420" y="146" width="4" height="4" fill="#619acd"/>
<rect x="424" y="146" width="4" height="4" fill="#669ece"/>
<rect x="428" y="146" width="4" height="4" fill="#6ca2d0"/>
<rect x="432" y="146" width="4" height="4" fill="#72a6d2"/>
<rect x="436" y="146" width="4" height="4" fill="#7aacd4"/>
<rect x="440" y="146" width="8" height="4" fill="#83b1d6"/>
<rect x="448" y="146" width="8" height="4" fill="#8bb7d9"/>
<rect x="456" y="146" width="8" height="4" fill="#94bcdb"/>
<rect x="464" y="146" width="8" height="4" fill="#9cc2dd"/>
<rect x="472" y="146" width="8" height="4" fill="#a4c7dd"/>
<rect x="480" y="146" width="12" height="4" fill="#abcbde"/>
<rect x="492" y="146" width="20" height="4" fill="#b3d0de"/>
<rect x="512" y="146" width="12" height="4" fill="#abcbde"/>
<rect x="524" y="146" width="4" height="4" fill="#b3d0de"/>
<rect x="528" y="146" width="4" height="4" fill="#bad4df"/>
<rect x="532" y="146" width="4" height="4" fill="#c2d9df"/>
<rect x="536" y="146" width="4" height="4" fill="#c8dcda"/>
<rect x="540" y="146" width="24" height="4" fill="#cedfd5"/>
<rect x="564" y="146" width="8" height="4" fill="#d3e3d0"/>
<rect x="572" y="146" width="8" height="4" fill="#d9e6cb"/>
<rect x="580" y="146" width="12" height="4" fill="#dfe9c6"/>
<rect x="72" y="150" width="32" height="4" fill="#bad4df"/>
<rect x="104" y="150" width="4" height="4" fill="#b3d0de"/>
<rect x="108" y="150" width="8" height="4" fill="#abcbde"/>
<rect x="116" y="150" width="4" height="4" fill="#a4c7dd"/>
<rect x="120" y="150" width="4" height="4" fill="#9cc2dd"/>
<rect x="124" y="150" width="8" height="4" fill="#94bcdb"/>
<rect x="132" y="150" width="8" height="4" fill="#8bb7d9"/>
<rect x="140" y="150" width="4" height="4" fill="#83b1d6"/>
<rect x="144" y="150" width="4" height="4" fill="#8bb7d9"/>
<rect x="148" y="150" width="4" height="4" fill="#94bcdb"/>
<rect x="152" y="150" width="4" height="4" fill="#9cc2dd"/>
<rect x="156" y="150" width="4" height="4" fill="#a4c7dd"/>
<rect x="160" y="150" width="4" height="4" fill="#abcbde"/>
<rect x="164" y="150" width="8" height="4" fill="#b3d0de"/>
<rect x="172" y="150" width="8" height="4" fill="#bad4df"/>
<rect x="180" y="150" width="4" height="4" fill="#c2d9df"/>
<rect x="184" y="150" width="4" height="4" fill="#bad4df"/>
<rect x="188" y="150" width="4" height="4" fill="#b3d0de"/>
<rect x="192" y="150" width="4" height="4" fill="#a4c7dd"/>
<rect x="196" y="150" width="4" height="4" fill="#9cc2dd"/>
<rect x="200" y="150" width="4" height="4" fill="#94bcdb"/>
<rect x="204" y="150" width="8" height="4" fill="#8bb7d9"/>
<rect x="212" y="150" width="8" height="4" fill="#83b1d6"/>
<rect x="220" y="150" width="4" height="4" fill="#7aacd4"/>
<rect x="224" y="150" width="4" height="4" fill="#8bb7d9"/>
<rect x="228" y="150" width="4" height="4" fill="#9cc2dd"/>
<rect x="232" y="150" width="4" height="4" fill="#abcbde"/>
<rect x="236" y="150" width="4" height="4" fill="#bad4df"/>
<rect x="240" y="150" width="4" height="4" fill="#c8dcda"/>
<rect x="244" y="150" width="4" height="4" fill="#b3d0de"/>
<rect x="248" y="150" width="4" height="4" fill="#9cc2dd"/>
<rect x="252" y="150" width="4" height="4" fill="#7aacd4"/>
<rect x="256" y="150" width="4" height="4" fill="#669ece"/>
<rect x="260" y="150" width="4" height="4" fill="#5592c9"/>
<rect x="264" y="150" width="4" height="4" fill="#4584c6"/>
<rect x="268" y="150" width="4" height="4" fill="#3774c6"/>
<rect x="272" y="150" width="4" height="4" fill="#2d64ca"/>
<rect x="276" y="150" width="4" height="4" fill="#2453d2"/>
<rect x="280" y="150" width="84" height="4" fill="#1c42dc"/>
<rect x="364" y="150" width="8" height="4" fill="#1f48d9"/>
<rect x="372" y="150" width="8" height="4" fill="#224dd6"/>
<rect x="380" y="150" width="8" height="4" fill="#2453d2"/>
<rect x="388" y="150" width="8" height="4" fill="#2758cf"/>
<rect x="396" y="150" width="8" height="4" fill="#2a5ecc"/>
<rect x="404" y="150" width="4" height="4" fill="#346fc7"/>
<rect x="408" y="150" width="4" height="4" fill="#3a7ac4"/>
<rect x="412" y="150" width="4" height="4" fill="#4a88c7"/>
<rect x="416" y="150" width="4" height="4" fill="#5592c9"/>
<rect x="420" y="150" width="4" height="4" fill="#669ece"/>
<rect x="424" y="150" width="4" height="4" fill="#6ca2d0"/>
<rect x="428" y="150" width="4" height="4" fill="#72a6d2"/>
<rect x="432" y="150" width="4" height="4" fill="#7aacd4"/>
<rect x="436" y="150" width="4" height="4" fill="#83b1d6"/>
<rect x="440" y="150" width="4" height="4" fill="#8bb7d9"/>
<rect x="444" y="150" width="8" height="4" fill="#94bcdb"/>
<rect x="452" y="150" width="8" height="4" fill="#9cc2dd"/>
<rect x="460" y="150" width="8" height="4" fill="#a4c7dd"/>
<rect x="468" y="150" width="8" height="4" fill="#abcbde"/>
<rect x="476" y="150" width="16" height="4" fill="#b3d0de"/>
<rect x="492" y="150" width="20" height="4" fill="#abcbde"/>
<rect x="512" y="150" width="12" height="4" fill="#b3d0de"/>
<rect x="524" y="150" width="4" height="4" fill="#bad4df"/>
<rect x="528" y="150" width="4" height="4" fill="#c2d9df"/>
<rect x="532" y="150" width="4" height="4" fill="#c8dcda"/>
<rect x="536" y="150" width="4" height="4" fill="#cedfd5"/>
<rect x="540" y="150" width="28" height="4" fill="#d3e3d0"/>
<rect x="568" y="150" width="8" height="4" fill="#d9e6cb"/>
<rect x="576" y="150" width="16" height="4" fill="#dfe9c6"/>
<rect x="72" y="154" width="32" height="4" fill="#cedfd5"/>
<rect x="104" y="154" width="4" height="4" fill="#c8dcda"/>
<rect x="108" y="154" width="4" height="4" fill="#bad4df"/>
<rect x="112" y="154" width="4" height="4" fill="#b3d0de"/>
<rect x="116" y="154" width="4" height="4" fill="#a4c7dd"/>
<rect x="120" y="154" width="4" height="4" fill="#9cc2dd"/>
<rect x="124" y="154" width="4" height="4" fill="#94bcdb"/>
<rect x="128" y="154" width="8" height="4" fill="#8bb7d9"/>
<rect x="136" y="154" width="4" height="4" fill="#83b1d6"/>
<rect x="140" y="154" width="4" height="4" fill="#7aacd4"/>
<rect x="144" y="154" width="4" height="4" fill="#83b1d6"/>
<rect x="148" y="154" width="4" height="4" fill="#8bb7d9"/>
<rect x="152" y="154" width="4" height="4" fill="#94bcdb"/>
<rect x="156" y="154" width="4" height="4" fill="#9cc2dd"/>
<rect x="160" y="154" width="4" height="4" fill="#a4c7dd"/>
<rect x="164" y="154" width="4" height="4" fill="#abcbde"/>
<rect x="168" y="154" width="8" height="4" fill="#b3d0de"/>
<rect x="176" y="154" width="4" height="4" fill="#bad4df"/>
<rect x="180" y="154" width="4" height="4" fill="#c2d9df"/>
<rect x="184" y="154" width="8" height="4" fill="#bad4df"/>
<rect x="192" y="154" width="8" height="4" fill="#b3d0de"/>
<rect x="200" y="154" width="4" height="4" fill="#abcbde"/>
<rect x="204" y="154" width="4" height="4" fill="#a4c7dd"/>
<rect x="208" y="154" width="8" height="4" fill="#9cc2dd"/>
<rect x="216" y="154" width="4" height="4" fill="#94bcdb"/>
<rect x="220" y="154" width="4" height="4" fill="#8bb7d9"/>
<rect x="224" y="154" width="4" height="4" fill="#9cc2dd"/>
<rect x="228" y="154" width="4" height="4" fill="#abcbde"/>
<rect x="232" y="154" width="4" height="4" fill="#bad4df"/>
<rect x="236" y="154" width="4" height="4" fill="#c8dcda"/>
<rect x="240" y="154" width="4" height="4" fill="#d3e3d0"/>
<rect x="244" y="154" width="4" height="4" fill="#c2d9df"/>
<rect x="248" y="154" width="4" height="4" fill="#b3d0de"/>
<rect x="252" y="154" width="4" height="4" fill="#9cc2dd"/>
<rect x="256" y="154" width="4" height="4" fill="#8bb7d9"/>
<rect x="260" y="154" width="4" height="4" fill="#72a6d2"/>
<rect x="264" y="154" width="4" height="4" fill="#5b96cb"/>
<rect x="268" y="154" width="4" height="4" fill="#4584c6"/>
<rect x="272" y="154" width="4" height="4" fill="#346fc7"/>
<rect x="276" y="154" width="4" height="4" fill="#2758cf"/>
<rect x="280" y="154" width="84" height="4" fill="#1c42dc"/>
<rect x="364" y="154" width="4" height="4" fill="#1f48d9"/>
<rect x="368" y="154" width="8" height="4" fill="#224dd6"/>
<rect x="376" y="154" width="4" height="4" fill="#2453d2"/>
<rect x="380" y="154" width="12" height="4" fill="#2758cf"/>
<rect x="392" y="154" width="12" height="4" fill="#2a5ecc"/>
<rect x="404" y="154" width="4" height="4" fill="#346fc7"/>
<rect x="408" y="154" width="4" height="4" fill="#3f7fc5"/>
<rect x="412" y="154" width="4" height="4" fill="#4a88c7"/>
<rect x="416" y="154" width="4" height="4" fill="#5b96cb"/>
<rect x="420" y="154" width="4" height="4" fill="#6ca2d0"/>
<rect x="424" y="154" width="4" height="4" fill="#72a6d2"/>
<rect x="428" y="154" width="4" height="4" fill="#7aacd4"/>
<rect x="432" y="154" width="4" height="4" fill="#83b1d6"/>
<rect x="436" y="154" width="4" height="4" fill="#8bb7d9"/>
<rect x="440" y="154" width="4" height="4" fill="#94bcdb"/>
<rect x="444" y="154" width="4" height="4" fill="#9cc2dd"/>
<rect x="448" y="154" width="8" height="4" fill="#a4c7dd"/>
<rect x="456" y="154" width="4" height="4" fill="#abcbde"/>
<rect x="460" y="154" width="12" height="4" fill="#b3d0de"/>
<rect x="472" y="154" width="12" height="4" fill="#bad4df"/>
<rect x="484" y="154" width="8" height="4" fill="#b3d0de"/>
<rect x="492" y="154" width="8" height="4" fill="#abcbde"/>
<rect x="500" y="154" width="4" height="4" fill="#a4c7dd"/>
<rect x="504" y="154" width="8" height="4" fill="#abcbde"/>
<rect x="512" y="154" width="8" height="4" fill="#b3d0de"/>
<rect x="520" y="154" width="4" height="4" fill="#bad4df"/>
<rect x="524" y="154" width="4" height="4" fill="#c2d9df"/>
<rect x="528" y="154" width="4" height="4" fill="#c8dcda"/>
<rect x="532" y="154" width="4" height="4" fill="#cedfd5"/>
<rect x="536" y="154" width="4" height="4" fill="#d3e3d0"/>
<rect x="540" y="154" width="32" height="4" fill="#d9e6cb"/>
<rect x="572" y="154" width="20" height="4" fill="#dfe9c6"/>
<rect x="72" y="158" width="32" height="4" fill="#dfe9c6"/>
<rect x="104" y="158" width="4" height="4" fill="#d3e3d0"/>
<rect x="108" y="158" width="4" height="4" fill="#c8dcda"/>
<rect x="112" y="158" width="4" height="4" fill="#bad4df"/>
<rect x="116" y="158" width="4" height="4" fill="#abcbde"/>
<rect x="120" y="158" width="4" height="4" fill="#9cc2dd"/>
<rect x="124" y="158" width="4" height="4" fill="#94bcdb"/>
<rect x="128" y="158" width="4" height="4" fill="#8bb7d9"/>
<rect x="132" y="158" width="4" height="4" fill="#83b1d6"/>
<rect x="136" y="158" width="4" height="4" fill="#7aacd4"/>
<rect x="140" y="158" width="4" height="4" fill="#72a6d2"/>
<rect x="144" y="158" width="4" height="4" fill="#7aacd4"/>
<rect x="148" y="158" width="4" height="4" fill="#83b1d6"/>
<rect x="152" y="158" width="4" height="4" fill="#8bb7d9"/>
<rect x="156" y="158" width="4" height="4" fill="#94bcdb"/>
<rect x="160" y="158" width="4" height="4" fill="#9cc2dd"/>
<rect x="164" y="158" width="4" height="4" fill="#a4c7dd"/>
<rect x="168" y="158" width="4" height="4" fill="#abcbde"/>
<rect x="172" y="158" width="4" height="4" fill="#b3d0de"/>
<rect x="176" y="158" width="4" height="4" fill="#bad4df"/>
<rect x="180" y="158" width="24" height="4" fill="#c2d9df"/>
<rect x="204" y="158" width="4" height="4" fill="#bad4df"/>
<rect x="208" y="158" width="4" height="4" fill="#b3d0de"/>
<rect x="212" y="158" width="4" height="4" fill="#abcbde"/>
<rect x="216" y="158" width="4" height="4" fill="#a4c7dd"/>
<rect x="220" y="158" width="4" height="4" fill="#9cc2dd"/>
<rect x="224" y="158" width="4" height="4" fill="#abcbde"/>
<rect x="228" y="158" width="4" height="4" fill="#bad4df"/>
<rect x="232" y="158" width="4" height="4" fill="#c8dcda"/>
<rect x="236" y="158" width="4" height="4" fill="#d3e3d0"/>
<rect x="240" y="158" width="4" height="4" fill="#dfe9c6"/>
<rect x="244" y="158" width="4" height="4" fill="#d3e3d0"/>
<rect x="248" y="158" width="4" height="4" fill="#c8dcda"/>
<rect x="252" y="158" width="4" height="4" fill="#bad4df"/>
<rect x="256" y="158" width="4" height="4" fill="#abcbde"/>
<rect x="260" y="158" width="4" height="4" fill="#9cc2dd"/>
<rect x="264" y="158" width="4" height="4" fill="#72a6d2"/>
<rect x="268" y="158" width="4" height="4" fill="#5592c9"/>
<rect x="272" y="158" width="4" height="4" fill="#3a7ac4"/>
<rect x="276" y="158" width="4" height="4" fill="#2a5ecc"/>
<rect x="280" y="158" width="84" height="4" fill="#1c42dc"/>
<rect x="364" y="158" width="4" height="4" fill="#1f48d9"/>
<rect x="368" y="158" width="4" height="4" fill="#224dd6"/>
<rect x="372" y="158" width="4" height="4" fill="#2453d2"/>
<rect x="376" y="158" width="4" height="4" fill="#2758cf"/>
<rect x="380" y="158" width="24" height="4" fill="#2a5ecc"/>
<rect x="404" y="158" width="4" height="4" fill="#346fc7"/>
<rect x="408" y="158" width="4" height="4" fill="#3f7fc5"/>
<rect x="412" y="158" width="4" height="4" fill="#508dc8"/>
<rect x="416" y="158" width="4" height="4" fill="#619acd"/>
<rect x="420" y="158" width="4" height="4" fill="#72a6d2"/>
<rect x="424" y="158" width="4" height="4" fill="#7aacd4"/>
<rect x="428" y="158" width="4" height="4" fill="#83b1d6"/>
<rect x="432" y="158" width="4" height="4" fill="#8bb7d9"/>
<rect x="436" y="158" width="4" height="4" fill="#94bcdb"/>
<rect x="440" y="158" width="4" height="4" fill="#9cc2dd"/>
<rect x="444" y="158" width="4" height="4" fill="#a4c7dd"/>
<rect x="448" y="158" width="4" height="4" fill="#abcbde"/>
<rect x="452" y="158" width="4" height="4" fill="#b3d0de"/>
<rect x="456" y="158" width="4" height="4" fill="#bad4df"/>
<rect x="460" y="158" width="24" height="4" fill="#c2d9df"/>
<rect x="484" y="158" width="4" height="4" fill="#bad4df"/>
<rect x="488" y="158" width="4" height="4" fill="#b3d0de"/>
<rect x="492" y="158" width="4" height="4" fill="#abcbde"/>
<rect x="496" y="158" width="4" height="4" fill="#a4c7dd"/>
<rect x="500" y="158" width="4" height="4" fill="#9cc2dd"/>
<rect x="504" y="158" width="4" height="4" fill="#a4c7dd"/>
<rect x="508" y="158" width="4" height="4" fill="#abcbde"/>
<rect x="512" y="158" width="4" height="4" fill="#b3d0de"/>
<rect x="516" y="158" width="4" height="4" fill="#bad4df"/>
<rect x="520" y="158" width="4" height="4" fill="#c2d9df"/>
<rect x="524" y="158" width="4" height="4" fill="#c8dcda"/>
<rect x="528" y="158" width="4" height="4" fill="#cedfd5"/>
<rect x="532" y="158" width="4" height="4" fill="#d3e3d0"/>
<rect x="536" y="158" width="4" height="4" fill="#d9e6cb"/>
<rect x="540" y="158" width="52" height="4" fill="#dfe9c6"/>
<rect x="72" y="162" width="32" height="4" fill="#e3eac3"/>
<rect x="104" y="162" width="4" height="4" fill="#d9e6cb"/>
<rect x="108" y="162" width="4" height="4" fill="#d3e3d0"/>
<rect x="112" y="162" width="4" height="4" fill="#c8dcda"/>
<rect x="116" y="162" width="4" height="4" fill="#c2d9df"/>
<rect x="120" y="162" width="4" height="4" fill="#b3d0de"/>
<rect x="124" y="162" width="4" height="4" fill="#abcbde"/>
<rect x="128" y="162" width="4" height="4" fill="#a4c7dd"/>
<rect x="132" y="162" width="4" height="4" fill="#94bcdb"/>
<rect x="136" y="162" width="4" height="4" fill="#8bb7d9"/>
<rect x="140" y="162" width="4" height="4" fill="#83b1d6"/>
<rect x="144" y="162" width="4" height="4" fill="#8bb7d9"/>
<rect x="148" y="162" width="4" height="4" fill="#94bcdb"/>
<rect x="152" y="162" width="4" height="4" fill="#9cc2dd"/>
<rect x="156" y="162" width="4" height="4" fill="#a4c7dd"/>
<rect x="160" y="162" width="4" height="4" fill="#abcbde"/>
<rect x="164" y="162" width="4" height="4" fill="#b3d0de"/>
<rect x="168" y="162" width="4" height="4" fill="#bad4df"/>
<rect x="172" y="162" width="4" height="4" fill="#c2d9df"/>
<rect x="176" y="162" width="4" height="4" fill="#c8dcda"/>
<rect x="180" y="162" width="24" height="4" fill="#cedfd5"/>
<rect x="204" y="162" width="4" height="4" fill="#c8dcda"/>
<rect x="208" y="162" width="8" height="4" fill="#c2d9df"/>
<rect x="216" y="162" width="4" height="4" fill="#bad4df"/>
<rect x="220" y="162" width="4" height="4" fill="#b3d0de"/>
<rect x="224" y="162" width="4" height="4" fill="#c2d9df"/>
<rect x="228" y="162" width="4" height="4" fill="#c8dcda"/>
<rect x="232" y="162" width="4" height="4" fill="#d3e3d0"/>
<rect x="236" y="162" width="4" height="4" fill="#d9e6cb"/>
<rect x="240" y="162" width="4" height="4" fill="#e3eac3"/>
<rect x="244" y="162" width="4" height="4" fill="#d9e6cb"/>
<rect x="248" y="162" width="4" height="4" fill="#d3e3d0"/>
<rect x="252" y="162" width="4" height="4" fill="#c8dcda"/>
<rect x="256" y="162" width="4" height="4" fill="#c2d9df"/>
<rect x="260" y="162" width="4" height="4" fill="#b3d0de"/>
<rect x="264" y="162" width="4" height="4" fill="#94bcdb"/>
<rect x="268" y="162" width="4" height="4" fill="#72a6d2"/>
<rect x="272" y="162" width="4" height="4" fill="#5b96cb"/>
<rect x="276" y="162" width="4" height="4" fill="#4584c6"/>
<rect x="280" y="162" width="4" height="4" fill="#346fc7"/>
<rect x="284" y="162" width="8" height="4" fill="#3069c9"/>
<rect x="292" y="162" width="8" height="4" fill="#2d64ca"/>
<rect x="300" y="162" width="12" height="4" fill="#2a5ecc"/>
<rect x="312" y="162" width="40" height="4" fill="#2758cf"/>
<rect x="352" y="162" width="12" height="4" fill="#2a5ecc"/>
<rect x="364" y="162" width="4" height="4" fill="#2d64ca"/>
<rect x="368" y="162" width="4" height="4" fill="#3069c9"/>
<rect x="372" y="162" width="4" height="4" fill="#346fc7"/>
<rect x="376" y="162" width="4" height="4" fill="#3774c6"/>
<rect x="380" y="162" width="12" height="4" fill="#3a7ac4"/>
<rect x="392" y="162" width="12" height="4" fill="#3f7fc5"/>
<rect x="404" y="162" width="4" height="4" fill="#4a88c7"/>
<rect x="408" y="162" width="4" height="4" fill="#5592c9"/>
<rect x="412" y="162" width="4" height="4" fill="#669ece"/>
<rect x="416" y="162" width="4" height="4" fill="#72a6d2"/>
<rect x="420" y="162" width="4" height="4" fill="#83b1d6"/>
<rect x="424" y="162" width="4" height="4" fill="#8bb7d9"/>
<rect x="428" y="162" width="4" height="4" fill="#94bcdb"/>
<rect x="432" y="162" width="4" height="4" fill="#9cc2dd"/>
<rect x="436" y="162" width="4" height="4" fill="#a4c7dd"/>
<rect x="440" y="162" width="4" height="4" fill="#abcbde"/>
<rect x="444" y="162" width="4" height="4" fill="#b3d0de"/>
<rect x="448" y="162" width="8" height="4" fill="#bad4df"/>
<rect x="456" y="162" width="4" height="4" fill="#c2d9df"/>
<rect x="460" y="162" width="12" height="4" fill="#c8dcda"/>
<rect x="472" y="162" width="12" height="4" fill="#c2d9df"/>
<rect x="484" y="162" width="4" height="4" fill="#bad4df"/>
<rect x="488" y="162" width="8" height="4" fill="#b3d0de"/>
<rect x="496" y="162" width="4" height="4" fill="#abcbde"/>
<rect x="500" y="162" width="4" height="4" fill="#a4c7dd"/>
<rect x="504" y="162" width="4" height="4" fill="#abcbde"/>
<rect x="508" y="162" width="4" height="4" fill="#b3d0de"/>
<rect x="512" y="162" width="4" height="4" fill="#bad4df"/>
<rect x="516" y="162" width="4" height="4" fill="#c2d9df"/>
<rect x="520" y="162" width="4" height="4" fill="#c8dcda"/>
<rect x="524" y="162" width="4" height="4" fill="#cedfd5"/>
<rect x="528" y="162" width="8" height="4" fill="#d3e3d0"/>
<rect x="536" y="162" width="4" height="4" fill="#d9e6cb"/>
<rect x="540" y="162" width="52" height="4" fill="#dfe9c6"/>
<rect x="72" y="166" width="32" height="4" fill="#e7ebc0"/>
<rect x="104" y="166" width="4" height="4" fill="#e3eac3"/>
<rect x="108" y="166" width="4" height="4" fill="#dfe9c6"/>
<rect x="112" y="166" width="4" height="4" fill="#d3e3d0"/>
<rect x="116" y="166" width="4" height="4" fill="#cedfd5"/>
<rect x="120" y="166" width="4" height="4" fill="#c8dcda"/>
<rect x="124" y="166" width="4" height="4" fill="#c2d9df"/>
<rect x="128" y="166" width="4" height="4" fill="#b3d0de"/>
<rect x="132" y="166" width="4" height="4" fill="#abcbde"/>
<rect x="136" y="166" width="4" height="4" fill="#9cc2dd"/>
<rect x="140" y="166" width="4" height="4" fill="#94bcdb"/>
<rect x="144" y="166" width="4" height="4" fill="#9cc2dd"/>
<rect x="148" y="166" width="4" height="4" fill="#a4c7dd"/>
<rect x="152" y="166" width="4" height="4" fill="#abcbde"/>
<rect x="156" y="166" width="4" height="4" fill="#b3d0de"/>
<rect x="160" y="166" width="4" height="4" fill="#bad4df"/>
<rect x="164" y="166" width="4" height="4" fill="#c2d9df"/>
<rect x="168" y="166" width="4" height="4" fill="#c8dcda"/>
<rect x="172" y="166" width="4" height="4" fill="#cedfd5"/>
<rect x="176" y="166" width="4" height="4" fill="#d3e3d0"/>
<rect x="180" y="166" width="24" height="4" fill="#d9e6cb"/>
<rect x="204" y="166" width="8" height="4" fill="#d3e3d0"/>
<rect x="212" y="166" width="8" height="4" fill="#cedfd5"/>
<rect x="220" y="166" width="4" height="4" fill="#c8dcda"/>
<rect x="224" y="166" width="4" height="4" fill="#cedfd5"/>
<rect x="228" y="166" width="4" height="4" fill="#d3e3d0"/>
<rect x="232" y="166" width="4" height="4" fill="#dfe9c6"/>
<rect x="236" y="166" width="4" height="4" fill="#e3eac3"/>
<rect x="240" y="166" width="4" height="4" fill="#e7ebc0"/>
<rect x="244" y="166" width="4" height="4" fill="#e3eac3"/>
<rect x="248" y="166" width="4" height="4" fill="#dfe9c6"/>
<rect x="252" y="166" width="4" height="4" fill="#d3e3d0"/>
<rect x="256" y="166" width="4" height="4" fill="#cedfd5"/>
<rect x="260" y="166" width="4" height="4" fill="#c8dcda"/>
<rect x="264" y="166" width="4" height="4" fill="#b3d0de"/>
<rect x="268" y="166" width="4" height="4" fill="#9cc2dd"/>
<rect x="272" y="166" width="4" height="4" fill="#83b1d6"/>
<rect x="276" y="166" width="4" height="4" fill="#6ca2d0"/>
<rect x="280" y="166" width="4" height="4" fill="#5b96cb"/>
<rect x="284" y="166" width="4" height="4" fill="#5592c9"/>
<rect x="288" y="166" width="4" height="4" fill="#508dc8"/>
<rect x="292" y="166" width="4" height="4" fill="#4584c6"/>
<rect x="296" y="166" width="4" height="4" fill="#3f7fc5"/>
<rect x="300" y="166" width="8" height="4" fill="#3a7ac4"/>
<rect x="308" y="166" width="8" height="4" fill="#3774c6"/>
<rect x="316" y="166" width="32" height="4" fill="#346fc7"/>
<rect x="348" y="166" width="8" height="4" fill="#3774c6"/>
<rect x="356" y="166" width="8" height="4" fill="#3a7ac4"/>
<rect x="364" y="166" width="4" height="4" fill="#3f7fc5"/>
<rect x="368" y="166" width="4" height="4" fill="#4584c6"/>
<rect x="372" y="166" width="4" height="4" fill="#4a88c7"/>
<rect x="376" y="166" width="4" height="4" fill="#508dc8"/>
<rect x="380" y="166" width="8" height="4" fill="#5592c9"/>
<rect x="388" y="166" width="8" height="4" fill="#5b96cb"/>
<rect x="396" y="166" width="8" height="4" fill="#619acd"/>
<rect x="404" y="166" width="4" height="4" fill="#669ece"/>
<rect x="408" y="166" width="4" height="4" fill="#72a6d2"/>
<rect x="412" y="166" width="4" height="4" fill="#7aacd4"/>
<rect x="416" y="166" width="4" height="4" fill="#8bb7d9"/>
<rect x="420" y="166" width="4" height="4" fill="#94bcdb"/>
<rect x="424" y="166" width="4" height="4" fill="#9cc2dd"/>
<rect x="428" y="166" width="4" height="4" fill="#a4c7dd"/>
<rect x="432" y="166" width="4" height="4" fill="#abcbde"/>
<rect x="436" y="166" width="4" height="4" fill="#b3d0de"/>
<rect x="440" y="166" width="4" height="4" fill="#bad4df"/>
<rect x="444" y="166" width="8" height="4" fill="#c2d9df"/>
<rect x="452" y="166" width="8" height="4" fill="#c8dcda"/>
<rect x="460" y="166" width="8" height="4" fill="#cedfd5"/>
<rect x="468" y="166" width="8" height="4" fill="#c8dcda"/>
<rect x="476" y="166" width="8" height="4" fill="#c2d9df"/>
<rect x="484" y="166" width="8" height="4" fill="#bad4df"/>
<rect x="492" y="166" width="8" height="4" fill="#b3d0de"/>
<rect x="500" y="166" width="4" height="4" fill="#abcbde"/>
<rect x="504" y="166" width="4" height="4" fill="#b3d0de"/>
<rect x="508" y="166" width="4" height="4" fill="#bad4df"/>
<rect x="512" y="166" width="4" height="4" fill="#c2d9df"/>
<rect x="516" y="166" width="4" height="4" fill="#c8dcda"/>
<rect x="520" y="166" width="4" height="4" fill="#cedfd5"/>
<rect x="524" y="166" width="8" height="4" fill="#d3e3d0"/>
<rect x="532" y="166" width="8" height="4" fill="#d9e6cb"/>
<rect x="540" y="166" width="52" height="4" fill="#dfe9c6"/>
<rect x="72" y="170" width="32" height="4" fill="#ececbe"/>
<rect x="104" y="170" width="4" height="4" fill="#e7ebc0"/>
<rect x="108" y="170" width="8" height="4" fill="#e3eac3"/>
<rect x="116" y="170" width="4" height="4" fill="#dfe9c6"/>
<rect x="120" y="170" width="4" height="4" fill="#d9e6cb"/>
<rect x="124" y="170" width="4" height="4" fill="#cedfd5"/>
<rect x="128" y="170" width="4" height="4" fill="#c8dcda"/>
<rect x="132" y="170" width="4" height="4" fill="#bad4df"/>
<rect x="136" y="170" width="4" height="4" fill="#b3d0de"/>
<rect x="140" y="170" width="4" height="4" fill="#a4c7dd"/>
<rect x="144" y="170" width="4" height="4" fill="#abcbde"/>
<rect x="148" y="170" width="4" height="4" fill="#b3d0de"/>
<rect x="152" y="170" width="4" height="4" fill="#bad4df"/>
<rect x="156" y="170" width="4" height="4" fill="#c2d9df"/>
<rect x="160" y="170" width="4" height="4" fill="#c8dcda"/>
<rect x="164" y="170" width="4" height="4" fill="#cedfd5"/>
<rect x="168" y="170" width="4" height="4" fill="#d3e3d0"/>
<rect x="172" y="170" width="4" height="4" fill="#d9e6cb"/>
<rect x="176" y="170" width="4" height="4" fill="#dfe9c6"/>
<rect x="180" y="170" width="28" height="4" fill="#e3eac3"/>
<rect x="208" y="170" width="8" height="4" fill="#dfe9c6"/>
<rect x="216" y="170" width="8" height="4" fill="#d9e6cb"/>
<rect x="224" y="170" width="4" height="4" fill="#dfe9c6"/>
<rect x="228" y="170" width="8" height="4" fill="#e3eac3"/>
<rect x="236" y="170" width="4" height="4" fill="#e7ebc0"/>
<rect x="240" y="170" width="4" height="4" fill="#ececbe"/>
<rect x="244" y="170" width="4" height="4" fill="#e7ebc0"/>
<rect x="248" y="170" width="8" height="4" fill="#e3eac3"/>
<rect x="256" y="170" width="4" height="4" fill="#dfe9c6"/>
<rect x="260" y="170" width="4" height="4" fill="#d9e6cb"/>
<rect x="264" y="170" width="4" height="4" fill="#cedfd5"/>
<rect x="268" y="170" width="4" height="4" fill="#c2d9df"/>
<rect x="272" y="170" width="4" height="4" fill="#b3d0de"/>
<rect x="276" y="170" width="4" height="4" fill="#a4c7dd"/>
<rect x="280" y="170" width="4" height="4" fill="#94bcdb"/>
<rect x="284" y="170" width="4" height="4" fill="#83b1d6"/>
<rect x="288" y="170" width="4" height="4" fill="#72a6d2"/>
<rect x="292" y="170" width="4" height="4" fill="#6ca2d0"/>
<rect x="296" y="170" width="4" height="4" fill="#619acd"/>
<rect x="300" y="170" width="4" height="4" fill="#5592c9"/>
<rect x="304" y="170" width="8" height="4" fill="#508dc8"/>
<rect x="312" y="170" width="8" height="4" fill="#4a88c7"/>
<rect x="320" y="170" width="24" height="4" fill="#4584c6"/>
<rect x="344" y="170" width="8" height="4" fill="#4a88c7"/>
<rect x="352" y="170" width="8" height="4" fill="#508dc8"/>
<rect x="360" y="170" width="4" height="4" fill="#5592c9"/>
<rect x="364" y="170" width="4" height="4" fill="#5b96cb"/>
<rect x="368" y="170" width="4" height="4" fill="#619acd"/>
<rect x="372" y="170" width="4" height="4" fill="#669ece"/>
<rect x="376" y="170" width="4" height="4" fill="#6ca2d0"/>
<rect x="380" y="170" width="4" height="4" fill="#72a6d2"/>
<rect x="384" y="170" width="8" height="4" fill="#7aacd4"/>
<rect x="392" y="170" width="8" height="4" fill="#83b1d6"/>
<rect x="400" y="170" width="4" height="4" fill="#8bb7d9"/>
<rect x="404" y="170" width="8" height="4" fill="#94bcdb"/>
<rect x="412" y="170" width="8" height="4" fill="#9cc2dd"/>
<rect x="420" y="170" width="4" height="4" fill="#a4c7dd"/>
<rect x="424" y="170" width="4" height="4" fill="#abcbde"/>
<rect x="428" y="170" width="4" height="4" fill="#b3d0de"/>
<rect x="432" y="170" width="4" height="4" fill="#bad4df"/>
<rect x="436" y="170" width="4" height="4" fill="#c2d9df"/>
<rect x="440" y="170" width="8" height="4" fill="#c8dcda"/>
<rect x="448" y="170" width="8" height="4" fill="#cedfd5"/>
<rect x="456" y="170" width="8" height="4" fill="#d3e3d0"/>
<rect x="464" y="170" width="8" height="4" fill="#cedfd5"/>
<rect x="472" y="170" width="8" height="4" fill="#c8dcda"/>
<rect x="480" y="170" width="8" height="4" fill="#c2d9df"/>
<rect x="488" y="170" width="8" height="4" fill="#bad4df"/>
<rect x="496" y="170" width="8" height="4" fill="#b3d0de"/>
<rect x="504" y="170" width="4" height="4" fill="#bad4df"/>
<rect x="508" y="170" width="4" height="4" fill="#c2d9df"/>
<rect x="512" y="170" width="4" height="4" fill="#c8dcda"/>
<rect x="516" y="170" width="4" height="4" fill="#cedfd5"/>
<rect x="520" y="170" width="8" height="4" fill="#d3e3d0"/>
<rect x="528" y="170" width="8" height="4" fill="#d9e6cb"/>
<rect x="536" y="170" width="56" height="4" fill="#dfe9c6"/>
<rect x="72" y="174" width="36" height="4" fill="#f0edbb"/>
<rect x="108" y="174" width="8" height="4" fill="#ececbe"/>
<rect x="116" y="174" width="8" height="4" fill="#e7ebc0"/>
<rect x="124" y="174" width="4" height="4" fill="#dfe9c6"/>
<rect x="128" y="174" width="4" height="4" fill="#d3e3d0"/>
<rect x="132" y="174" width="4" height="4" fill="#cedfd5"/>
<rect x="136" y="174" width="4" height="4" fill="#c2d9df"/>
<rect x="140" y="174" width="4" height="4" fill="#b3d0de"/>
<rect x="144" y="174" width="4" height="4" fill="#bad4df"/>
<rect x="148" y="174" width="4" height="4" fill="#c2d9df"/>
<rect x="152" y="174" width="4" height="4" fill="#c8dcda"/>
<rect x="156" y="174" width="4" height="4" fill="#cedfd5"/>
<rect x="160" y="174" width="4" height="4" fill="#d3e3d0"/>
<rect x="164" y="174" width="4" height="4" fill="#d9e6cb"/>
<rect x="168" y="174" width="4" height="4" fill="#dfe9c6"/>
<rect x="172" y="174" width="4" height="4" fill="#e3eac3"/>
<rect x="176" y="174" width="4" height="4" fill="#e7ebc0"/>
<rect x="180" y="174" width="32" height="4" fill="#ececbe"/>
<rect x="212" y="174" width="16" height="4" fill="#e7ebc0"/>
<rect x="228" y="174" width="8" height="4" fill="#ececbe"/>
<rect x="236" y="174" width="12" height="4" fill="#f0edbb"/>
<rect x="248" y="174" width="8" height="4" fill="#ececbe"/>
<rect x="256" y="174" width="8" height="4" fill="#e7ebc0"/>
<rect x="264" y="174" width="4" height="4" fill="#e3eac3"/>
<rect x="268" y="174" width="4" height="4" fill="#dfe9c6"/>
<rect x="272" y="174" width="4" height="4" fill="#d9e6cb"/>
<rect x="276" y="174" width="4" height="4" fill="#d3e3d0"/>
<rect x="280" y="174" width="4" height="4" fill="#cedfd5"/>
<rect x="284" y="174" width="4" height="4" fill="#c2d9df"/>
<rect x="288" y="174" width="4" height="4" fill="#abcbde"/>
<rect x="292" y="174" width="4" height="4" fill="#9cc2dd"/>
<rect x="296" y="174" width="4" height="4" fill="#83b1d6"/>
<rect x="300" y="174" width="4" height="4" fill="#72a6d2"/>
<rect x="304" y="174" width="4" height="4" fill="#6ca2d0"/>
<rect x="308" y="174" width="8" height="4" fill="#669ece"/>
<rect x="316" y="174" width="4" height="4" fill="#619acd"/>
<rect x="320" y="174" width="24" height="4" fill="#5b96cb"/>
<rect x="344" y="174" width="4" height="4" fill="#619acd"/>
<rect x="348" y="174" width="8" height="4" fill="#669ece"/>
<rect x="356" y="174" width="4" height="4" fill="#6ca2d0"/>
<rect x="360" y="174" width="4" height="4" fill="#72a6d2"/>
<rect x="364" y="174" width="4" height="4" fill="#7aacd4"/>
<rect x="368" y="174" width="4" height="4" fill="#83b1d6"/>
<rect x="372" y="174" width="4" height="4" fill="#8bb7d9"/>
<rect x="376" y="174" width="4" height="4" fill="#94bcdb"/>
<rect x="380" y="174" width="4" height="4" fill="#9cc2dd"/>
<rect x="384" y="174" width="4" height="4" fill="#a4c7dd"/>
<rect x="388" y="174" width="8" height="4" fill="#abcbde"/>
<rect x="396" y="174" width="4" height="4" fill="#b3d0de"/>
<rect x="400" y="174" width="12" height="4" fill="#bad4df"/>
<rect x="412" y="174" width="12" height="4" fill="#b3d0de"/>
<rect x="424" y="174" width="4" height="4" fill="#bad4df"/>
<rect x="428" y="174" width="4" height="4" fill="#c2d9df"/>
<rect x="432" y="174" width="4" height="4" fill="#c8dcda"/>
<rect x="436" y="174" width="4" height="4" fill="#cedfd5"/>
<rect x="440" y="174" width="12" height="4" fill="#d3e3d0"/>
<rect x="452" y="174" width="12" height="4" fill="#d9e6cb"/>
<rect x="464" y="174" width="4" height="4" fill="#d3e3d0"/>
<rect x="468" y="174" width="8" height="4" fill="#cedfd5"/>
<rect x="476" y="174" width="4" height="4" fill="#c8dcda"/>
<rect x="480" y="174" width="12" height="4" fill="#c2d9df"/>
<rect x="492" y="174" width="12" height="4" fill="#bad4df"/>
<rect x="504" y="174" width="4" height="4" fill="#c2d9df"/>
<rect x="508" y="174" width="4" height="4" fill="#c8dcda"/>
<rect x="512" y="174" width="4" height="4" fill="#cedfd5"/>
<rect x="516" y="174" width="4" height="4" fill="#d3e3d0"/>
<rect x="520" y="174" width="12" height="4" fill="#d9e6cb"/>
<rect x="532" y="174" width="60" height="4" fill="#dfe9c6"/>
<rect x="72" y="178" width="52" height="4" fill="#f4eeb8"/>
<rect x="124" y="178" width="4" height="4" fill="#ececbe"/>
<rect x="128" y="178" width="4" height="4" fill="#e3eac3"/>
<rect x="132" y="178" width="4" height="4" fill="#d9e6cb"/>
<rect x="136" y="178" width="4" height="4" fill="#cedfd5"/>
<rect x="140" y="178" width="4" height="4" fill="#c2d9df"/>
<rect x="144" y="178" width="4" height="4" fill="#c8dcda"/>
<rect x="148" y="178" width="4" height="4" fill="#cedfd5"/>
<rect x="152" y="178" width="4" height="4" fill="#d3e3d0"/>
<rect x="156" y="178" width="4" height="4" fill="#d9e6cb"/>
<rect x="160" y="178" width="4" height="4" fill="#dfe9c6"/>
<rect x="164" y="178" width="4" height="4" fill="#e3eac3"/>
<rect x="168" y="178" width="4" height="4" fill="#e7ebc0"/>
<rect x="172" y="178" width="4" height="4" fill="#ececbe"/>
<rect x="176" y="178" width="4" height="4" fill="#f0edbb"/>
<rect x="180" y="178" width="104" height="4" fill="#f4eeb8"/>
<rect x="284" y="178" width="4" height="4" fill="#e7ebc0"/>
<rect x="288" y="178" width="4" height="4" fill="#d9e6cb"/>
<rect x="292" y="178" width="4" height="4" fill="#c8dcda"/>
<rect x="296" y="178" width="4" height="4" fill="#b3d0de"/>
<rect x="300" y="178" width="4" height="4" fill="#9cc2dd"/>
<rect x="304" y="178" width="4" height="4" fill="#94bcdb"/>
<rect x="308" y="178" width="4" height="4" fill="#8bb7d9"/>
<rect x="312" y="178" width="4" height="4" fill="#83b1d6"/>
<rect x="316" y="178" width="4" height="4" fill="#7aacd4"/>
<rect x="320" y="178" width="24" height="4" fill="#72a6d2"/>
<rect x="344" y="178" width="4" height="4" fill="#7aacd4"/>
<rect x="348" y="178" width="4" height="4" fill="#83b1d6"/>
<rect x="352" y="178" width="4" height="4" fill="#8bb7d9"/>
<rect x="356" y="178" width="4" height="4" fill="#94bcdb"/>
<rect x="360" y="178" width="4" height="4" fill="#9cc2dd"/>
<rect x="364" y="178" width="4" height="4" fill="#a4c7dd"/>
<rect x="368" y="178" width="4" height="4" fill="#abcbde"/>
<rect x="372" y="178" width="4" height="4" fill="#b3d0de"/>
<rect x="376" y="178" width="4" height="4" fill="#bad4df"/>
<rect x="380" y="178" width="4" height="4" fill="#c2d9df"/>
<rect x="384" y="178" width="4" height="4" fill="#c8dcda"/>
<rect x="388" y="178" width="4" height="4" fill="#cedfd5"/>
<rect x="392" y="178" width="4" height="4" fill="#d3e3d0"/>
<rect x="396" y="178" width="4" height="4" fill="#d9e6cb"/>
<rect x="400" y="178" width="4" height="4" fill="#dfe9c6"/>
<rect x="404" y="178" width="4" height="4" fill="#d9e6cb"/>
<rect x="408" y="178" width="4" height="4" fill="#d3e3d0"/>
<rect x="412" y="178" width="4" height="4" fill="#cedfd5"/>
<rect x="416" y="178" width="4" height="4" fill="#c8dcda"/>
<rect x="420" y="178" width="4" height="4" fill="#c2d9df"/>
<rect x="424" y="178" width="4" height="4" fill="#c8dcda"/>
<rect x="428" y="178" width="4" height="4" fill="#cedfd5"/>
<rect x="432" y="178" width="4" height="4" fill="#d3e3d0"/>
<rect x="436" y="178" width="4" height="4" fill="#d9e6cb"/>
<rect x="440" y="178" width="24" height="4" fill="#dfe9c6"/>
<rect x="464" y="178" width="4" height="4" fill="#d9e6cb"/>
<rect x="468" y="178" width="4" height="4" fill="#d3e3d0"/>
<rect x="472" y="178" width="4" height="4" fill="#cedfd5"/>
<rect x="476" y="178" width="4" height="4" fill="#c8dcda"/>
<rect x="480" y="178" width="24" height="4" fill="#c2d9df"/>
<rect x="504" y="178" width="4" height="4" fill="#c8dcda"/>
<rect x="508" y="178" width="4" height="4" fill="#cedfd5"/>
<rect x="512" y="178" width="4" height="4" fill="#d3e3d0"/>
<rect x="516" y="178" width="4" height="4" fill="#d9e6cb"/>
<rect x="520" y="178" width="72" height="4" fill="#dfe9c6"/>
<rect x="72" y="182" width="20" height="4" fill="#f0edbb"/>
<rect x="92" y="182" width="32" height="4" fill="#f4eeb8"/>
<rect x="124" y="182" width="4" height="4" fill="#ececbe"/>
<rect x="128" y="182" width="4" height="4" fill="#e7ebc0"/>
<rect x="132" y="182" width="4" height="4" fill="#dfe9c6"/>
<rect x="136" y="182" width="4" height="4" fill="#d9e6cb"/>
<rect x="140" y="182" width="4" height="4" fill="#cedfd5"/>
<rect x="144" y="182" width="4" height="4" fill="#d3e3d0"/>
<rect x="148" y="182" width="4" height="4" fill="#d9e6cb"/>
<rect x="152" y="182" width="4" height="4" fill="#dfe9c6"/>
<rect x="156" y="182" width="4" height="4" fill="#e3eac3"/>
<rect x="160" y="182" width="4" height="4" fill="#e7ebc0"/>
<rect x="164" y="182" width="4" height="4" fill="#ececbe"/>
<rect x="168" y="182" width="8" height="4" fill="#f0edbb"/>
<rect x="176" y="182" width="4" height="4" fill="#f4eeb8"/>
<rect x="180" y="182" width="12" height="4" fill="#f4e6b2"/>
<rect x="192" y="182" width="92" height="4" fill="#f4eeb8"/>
<rect x="284" y="182" width="4" height="4" fill="#ececbe"/>
<rect x="288" y="182" width="4" height="4" fill="#dfe9c6"/>
<rect x="292" y="182" width="4" height="4" fill="#d3e3d0"/>
<rect x="296" y="182" width="4" height="4" fill="#c2d9df"/>
<rect x="300" y="182" width="4" height="4" fill="#b3d0de"/>
<rect x="304" y="182" width="4" height="4" fill="#abcbde"/>
<rect x="308" y="182" width="8" height="4" fill="#a4c7dd"/>
<rect x="316" y="182" width="4" height="4" fill="#9cc2dd"/>
<rect x="320" y="182" width="24" height="4" fill="#94bcdb"/>
<rect x="344" y="182" width="4" height="4" fill="#9cc2dd"/>
<rect x="348" y="182" width="8" height="4" fill="#a4c7dd"/>
<rect x="356" y="182" width="4" height="4" fill="#abcbde"/>
<rect x="360" y="182" width="4" height="4" fill="#b3d0de"/>
<rect x="364" y="182" width="8" height="4" fill="#bad4df"/>
<rect x="372" y="182" width="8" height="4" fill="#c2d9df"/>
<rect x="380" y="182" width="4" height="4" fill="#c8dcda"/>
<rect x="384" y="182" width="4" height="4" fill="#cedfd5"/>
<rect x="388" y="182" width="4" height="4" fill="#d3e3d0"/>
<rect x="392" y="182" width="4" height="4" fill="#d9e6cb"/>
<rect x="396" y="182" width="4" height="4" fill="#dfe9c6"/>
<rect x="400" y="182" width="4" height="4" fill="#e3eac3"/>
<rect x="404" y="182" width="4" height="4" fill="#dfe9c6"/>
<rect x="408" y="182" width="4" height="4" fill="#d9e6cb"/>
<rect x="412" y="182" width="4" height="4" fill="#d3e3d0"/>
<rect x="416" y="182" width="4" height="4" fill="#cedfd5"/>
<rect x="420" y="182" width="4" height="4" fill="#c8dcda"/>
<rect x="424" y="182" width="4" height="4" fill="#cedfd5"/>
<rect x="428" y="182" width="4" height="4" fill="#d3e3d0"/>
<rect x="432" y="182" width="4" height="4" fill="#d9e6cb"/>
<rect x="436" y="182" width="4" height="4" fill="#dfe9c6"/>
<rect x="440" y="182" width="12" height="4" fill="#e3eac3"/>
<rect x="452" y="182" width="12" height="4" fill="#dfe9c6"/>
<rect x="464" y="182" width="8" height="4" fill="#d9e6cb"/>
<rect x="472" y="182" width="8" height="4" fill="#d3e3d0"/>
<rect x="480" y="182" width="24" height="4" fill="#cedfd5"/>
<rect x="504" y="182" width="4" height="4" fill="#d3e3d0"/>
<rect x="508" y="182" width="8" height="4" fill="#d9e6cb"/>
<rect x="516" y="182" width="4" height="4" fill="#dfe9c6"/>
<rect x="520" y="182" width="72" height="4" fill="#e3eac3"/>
<rect x="72" y="186" width="16" height="4" fill="#ececbe"/>
<rect x="88" y="186" width="8" height="4" fill="#f0edbb"/>
<rect x="96" y="186" width="28" height="4" fill="#f4eeb8"/>
<rect x="124" y="186" width="4" height="4" fill="#f0edbb"/>
<rect x="128" y="186" width="4" height="4" fill="#ececbe"/>
<rect x="132" y="186" width="4" height="4" fill="#e3eac3"/>
<rect x="136" y="186" width="4" height="4" fill="#dfe9c6"/>
<rect x="140" y="186" width="4" height="4" fill="#d9e6cb"/>
<rect x="144" y="186" width="4" height="4" fill="#dfe9c6"/>
<rect x="148" y="186" width="4" height="4" fill="#e3eac3"/>
<rect x="152" y="186" width="4" height="4" fill="#e7ebc0"/>
<rect x="156" y="186" width="4" height="4" fill="#ececbe"/>
<rect x="160" y="186" width="4" height="4" fill="#f0edbb"/>
<rect x="164" y="186" width="8" height="4" fill="#f4eeb8"/>
<rect x="172" y="186" width="8" height="4" fill="#f4e6b2"/>
<rect x="180" y="186" width="8" height="4" fill="#f5dfab"/>
<rect x="188" y="186" width="8" height="4" fill="#f4e6b2"/>
<rect x="196" y="186" width="88" height="4" fill="#f4eeb8"/>
<rect x="284" y="186" width="4" height="4" fill="#ececbe"/>
<rect x="288" y="186" width="4" height="4" fill="#e3eac3"/>
<rect x="292" y="186" width="4" height="4" fill="#dfe9c6"/>
<rect x="296" y="186" width="4" height="4" fill="#d3e3d0"/>
<rect x="300" y="186" width="4" height="4" fill="#c8dcda"/>
<rect x="304" y="186" width="8" height="4" fill="#c2d9df"/>
<rect x="312" y="186" width="8" height="4" fill="#bad4df"/>
<rect x="320" y="186" width="24" height="4" fill="#b3d0de"/>
<rect x="344" y="186" width="8" height="4" fill="#bad4df"/>
<rect x="352" y="186" width="8" height="4" fill="#c2d9df"/>
<rect x="360" y="186" width="12" height="4" fill="#c8dcda"/>
<rect x="372" y="186" width="12" height="4" fill="#cedfd5"/>
<rect x="384" y="186" width="4" height="4" fill="#d3e3d0"/>
<rect x="388" y="186" width="4" height="4" fill="#d9e6cb"/>
<rect x="392" y="186" width="4" height="4" fill="#dfe9c6"/>
<rect x="396" y="186" width="4" height="4" fill="#e3eac3"/>
<rect x="400" y="186" width="4" height="4" fill="#e7ebc0"/>
<rect x="404" y="186" width="4" height="4" fill="#e3eac3"/>
<rect x="408" y="186" width="4" height="4" fill="#dfe9c6"/>
<rect x="412" y="186" width="4" height="4" fill="#d9e6cb"/>
<rect x="416" y="186" width="4" height="4" fill="#d3e3d0"/>
<rect x="420" y="186" width="4" height="4" fill="#cedfd5"/>
<rect x="424" y="186" width="4" height="4" fill="#d3e3d0"/>
<rect x="428" y="186" width="4" height="4" fill="#d9e6cb"/>
<rect x="432" y="186" width="4" height="4" fill="#dfe9c6"/>
<rect x="436" y="186" width="4" height="4" fill="#e3eac3"/>
<rect x="440" y="186" width="8" height="4" fill="#e7ebc0"/>
<rect x="448" y="186" width="8" height="4" fill="#e3eac3"/>
<rect x="456" y="186" width="16" height="4" fill="#dfe9c6"/>
<rect x="472" y="186" width="32" height="4" fill="#d9e6cb"/>
<rect x="504" y="186" width="8" height="4" fill="#dfe9c6"/>
<rect x="512" y="186" width="8" height="4" fill="#e3eac3"/>
<rect x="520" y="186" width="72" height="4" fill="#e7ebc0"/>
<rect x="72" y="190" width="12" height="4" fill="#e7ebc0"/>
<rect x="84" y="190" width="8" height="4" fill="#ececbe"/>
<rect x="92" y="190" width="8" height="4" fill="#f0edbb"/>
<rect x="100" y="190" width="24" height="4" fill="#f4eeb8"/>
<rect x="124" y="190" width="4" height="4" fill="#f0edbb"/>
<rect x="128" y="190" width="8" height="4" fill="#ececbe"/>
<rect x="136" y="190" width="4" height="4" fill="#e7ebc0"/>
<rect x="140" y="190" width="4" height="4" fill="#e3eac3"/>
<rect x="144" y="190" width="4" height="4" fill="#e7ebc0"/>
<rect x="148" y="190" width="4" height="4" fill="#ececbe"/>
<rect x="152" y="190" width="4" height="4" fill="#f0edbb"/>
<rect x="156" y="190" width="4" height="4" fill="#f4eeb8"/>
<rect x="160" y="190" width="8" height="4" fill="#f4e6b2"/>
<rect x="168" y="190" width="8" height="4" fill="#f5dfab"/>
<rect x="176" y="190" width="8" height="4" fill="#f5d7a5"/>
<rect x="184" y="190" width="8" height="4" fill="#f5dfab"/>
<rect x="192" y="190" width="8" height="4" fill="#f4e6b2"/>
<rect x="200" y="190" width="84" height="4" fill="#f4eeb8"/>
<rect x="284" y="190" width="4" height="4" fill="#f0edbb"/>
<rect x="288" y="190" width="4" height="4" fill="#ececbe"/>
<rect x="292" y="190" width="4" height="4" fill="#e3eac3"/>
<rect x="296" y="190" width="4" height="4" fill="#dfe9c6"/>
<rect x="300" y="190" width="8" height="4" fill="#d9e6cb"/>
<rect x="308" y="190" width="8" height="4" fill="#d3e3d0"/>
<rect x="316" y="190" width="32" height="4" fill="#cedfd5"/>
<rect x="348" y="190" width="8" height="4" fill="#d3e3d0"/>
<rect x="356" y="190" width="16" height="4" fill="#d9e6cb"/>
<rect x="372" y="190" width="12" height="4" fill="#d3e3d0"/>
<rect x="384" y="190" width="4" height="4" fill="#d9e6cb"/>
<rect x="388" y="190" width="4" height="4" fill="#dfe9c6"/>
<rect x="392" y="190" width="4" height="4" fill="#e3eac3"/>
<rect x="396" y="190" width="4" height="4" fill="#e7ebc0"/>
<rect x="400" y="190" width="4" height="4" fill="#ececbe"/>
<rect x="404" y="190" width="4" height="4" fill="#e7ebc0"/>
<rect x="408" y="190" width="4" height="4" fill="#e3eac3"/>
<rect x="412" y="190" width="4" height="4" fill="#dfe9c6"/>
<rect x="416" y="190" width="4" height="4" fill="#d9e6cb"/>
<rect x="420" y="190" width="4" height="4" fill="#d3e3d0"/>
<rect x="424" y="190" width="4" height="4" fill="#d9e6cb"/>
<rect x="428" y="190" width="4" height="4" fill="#dfe9c6"/>
<rect x="432" y="190" width="4" height="4" fill="#e3eac3"/>
<rect x="436" y="190" width="4" height="4" fill="#e7ebc0"/>
<rect x="440" y="190" width="4" height="4" fill="#ececbe"/>
<rect x="444" y="190" width="8" height="4" fill="#e7ebc0"/>
<rect x="452" y="190" width="8" height="4" fill="#e3eac3"/>
<rect x="460" y="190" width="12" height="4" fill="#dfe9c6"/>
<rect x="472" y="190" width="36" height="4" fill="#e3eac3"/>
<rect x="508" y="190" width="8" height="4" fill="#e7ebc0"/>
<rect x="516" y="190" width="76" height="4" fill="#ececbe"/>
<rect x="72" y="194" width="12" height="4" fill="#e3eac3"/>
<rect x="84" y="194" width="4" height="4" fill="#e7ebc0"/>
<rect x="88" y="194" width="8" height="4" fill="#ececbe"/>
<rect x="96" y="194" width="4" height="4" fill="#f0edbb"/>
<rect x="100" y="194" width="28" height="4" fill="#f4eeb8"/>
<rect x="128" y="194" width="8" height="4" fill="#f0edbb"/>
<rect x="136" y="194" width="8" height="4" fill="#ececbe"/>
<rect x="144" y="194" width="4" height="4" fill="#f0edbb"/>
<rect x="148" y="194" width="4" height="4" fill="#f4eeb8"/>
<rect x="152" y="194" width="4" height="4" fill="#f4e6b2"/>
<rect x="156" y="194" width="4" height="4" fill="#f5dfab"/>
<rect x="160" y="194" width="12" height="4" fill="#f5d7a5"/>
<rect x="172" y="194" width="12" height="4" fill="#f6d09e"/>
<rect x="184" y="194" width="4" height="4" fill="#f5d7a5"/>
<rect x="188" y="194" width="8" height="4" fill="#f5dfab"/>
<rect x="196" y="194" width="4" height="4" fill="#f4e6b2"/>
<rect x="200" y="194" width="84" height="4" fill="#f4eeb8"/>
<rect x="284" y="194" width="8" height="4" fill="#f0edbb"/>
<rect x="292" y="194" width="8" height="4" fill="#ececbe"/>
<rect x="300" y="194" width="12" height="4" fill="#e7ebc0"/>
<rect x="312" y="194" width="40" height="4" fill="#e3eac3"/>
<rect x="352" y="194" width="12" height="4" fill="#e7ebc0"/>
<rect x="364" y="194" width="8" height="4" fill="#e3eac3"/>
<rect x="372" y="194" width="8" height="4" fill="#dfe9c6"/>
<rect x="380" y="194" width="4" height="4" fill="#d9e6cb"/>
<rect x="384" y="194" width="4" height="4" fill="#dfe9c6"/>
<rect x="388" y="194" width="4" height="4" fill="#e3eac3"/>
<rect x="392" y="194" width="4" height="4" fill="#e7ebc0"/>
<rect x="396" y="194" width="4" height="4" fill="#ececbe"/>
<rect x="400" y="194" width="4" height="4" fill="#f0edbb"/>
<rect x="404" y="194" width="4" height="4" fill="#ececbe"/>
<rect x="408" y="194" width="4" height="4" fill="#e7ebc0"/>
<rect x="412" y="194" width="4" height="4" fill="#e3eac3"/>
<rect x="416" y="194" width="4" height="4" fill="#dfe9c6"/>
<rect x="420" y="194" width="4" height="4" fill="#d9e6cb"/>
<rect x="424" y="194" width="4" height="4" fill="#dfe9c6"/>
<rect x="428" y="194" width="4" height="4" fill="#e3eac3"/>
<rect x="432" y="194" width="4" height="4" fill="#e7ebc0"/>
<rect x="436" y="194" width="4" height="4" fill="#ececbe"/>
<rect x="440" y="194" width="4" height="4" fill="#f0edbb"/>
<rect x="444" y="194" width="4" height="4" fill="#ececbe"/>
<rect x="448" y="194" width="8" height="4" fill="#e7ebc0"/>
<rect x="456" y="194" width="4" height="4" fill="#e3eac3"/>
<rect x="460" y="194" width="4" height="4" fill="#dfe9c6"/>
<rect x="464" y="194" width="8" height="4" fill="#e3eac3"/>
<rect x="472" y="194" width="8" height="4" fill="#e7ebc0"/>
<rect x="480" y="194" width="32" height="4" fill="#ececbe"/>
<rect x="512" y="194" width="80" height="4" fill="#f0edbb"/>
<rect x="72" y="198" width="12" height="4" fill="#dfe9c6"/>
<rect x="84" y="198" width="4" height="4" fill="#e3eac3"/>
<rect x="88" y="198" width="4" height="4" fill="#e7ebc0"/>
<rect x="92" y="198" width="4" height="4" fill="#ececbe"/>
<rect x="96" y="198" width="4" height="4" fill="#f0edbb"/>
<rect x="100" y="198" width="44" height="4" fill="#f4eeb8"/>
<rect x="144" y="198" width="4" height="4" fill="#f4e6b2"/>
<rect x="148" y="198" width="4" height="4" fill="#f5dfab"/>
<rect x="152" y="198" width="4" height="4" fill="#f5d7a5"/>
<rect x="156" y="198" width="4" height="4" fill="#f6d09e"/>
<rect x="160" y="198" width="24" height="4" fill="#f6c898"/>
<rect x="184" y="198" width="4" height="4" fill="#f6d09e"/>
<rect x="188" y="198" width="4" height="4" fill="#f5d7a5"/>
<rect x="192" y="198" width="4" height="4" fill="#f5dfab"/>
<rect x="196" y="198" width="4" height="4" fill="#f4e6b2"/>
<rect x="200" y="198" width="164" height="4" fill="#f4eeb8"/>
<rect x="364" y="198" width="4" height="4" fill="#f0edbb"/>
<rect x="368" y="198" width="4" height="4" fill="#ececbe"/>
<rect x="372" y="198" width="4" height="4" fill="#e7ebc0"/>
<rect x="376" y="198" width="4" height="4" fill="#e3eac3"/>
<rect x="380" y="198" width="4" height="4" fill="#dfe9c6"/>
<rect x="384" y="198" width="4" height="4" fill="#e3eac3"/>
<rect x="388" y="198" width="4" height="4" fill="#e7ebc0"/>
<rect x="392" y="198" width="4" height="4" fill="#ececbe"/>
<rect x="396" y="198" width="4" height="4" fill="#f0edbb"/>
<rect x="400" y="198" width="4" height="4" fill="#f4eeb8"/>
<rect x="404" y="198" width="4" height="4" fill="#f0edbb"/>
<rect x="408" y="198" width="4" height="4" fill="#ececbe"/>
<rect x="412" y="198" width="4" height="4" fill="#e7ebc0"/>
<rect x="416" y="198" width="4" height="4" fill="#e3eac3"/>
<rect x="420" y="198" width="4" height="4" fill="#dfe9c6"/>
<rect x="424" y="198" width="4" height="4" fill="#e3eac3"/>
<rect x="428" y="198" width="4" height="4" fill="#e7ebc0"/>
<rect x="432" y="198" width="4" height="4" fill="#ececbe"/>
<rect x="436" y="198" width="4" height="4" fill="#f0edbb"/>
<rect x="440" y="198" width="4" height="4" fill="#f4eeb8"/>
<rect x="444" y="198" width="4" height="4" fill="#f0edbb"/>
<rect x="448" y="198" width="4" height="4" fill="#ececbe"/>
<rect x="452" y="198" width="4" height="4" fill="#e7ebc0"/>
<rect x="456" y="198" width="4" height="4" fill="#e3eac3"/>
<rect x="460" y="198" width="4" height="4" fill="#dfe9c6"/>
<rect x="464" y="198" width="4" height="4" fill="#e3eac3"/>
<rect x="468" y="198" width="4" height="4" fill="#e7ebc0"/>
<rect x="472" y="198" width="4" height="4" fill="#ececbe"/>
<rect x="476" y="198" width="4" height="4" fill="#f0edbb"/>
<rect x="480" y="198" width="112" height="4" fill="#f4eeb8"/>
<rect x="72" y="202" width="12" height="4" fill="#dfe9c6"/>
<rect x="84" y="202" width="4" height="4" fill="#e3eac3"/>
<rect x="88" y="202" width="8" height="4" fill="#e7ebc0"/>
<rect x="96" y="202" width="4" height="4" fill="#ececbe"/>
<rect x="100" y="202" width="12" height="4" fill="#f0edbb"/>
<rect x="112" y="202" width="20" height="4" fill="#f4eeb8"/>
<rect x="132" y="202" width="12" height="4" fill="#f4e6b2"/>
<rect x="144" y="202" width="4" height="4" fill="#f5dfab"/>
<rect x="148" y="202" width="4" height="4" fill="#f5d7a5"/>
<rect x="152" y="202" width="4" height="4" fill="#f6d09e"/>
<rect x="156" y="202" width="4" height="4" fill="#f6c898"/>
<rect x="160" y="202" width="24" height="4" fill="#f6bf90"/>
<rect x="184" y="202" width="4" height="4" fill="#f6c898"/>
<rect x="188" y="202" width="8" height="4" fill="#f6d09e"/>
<rect x="196" y="202" width="4" height="4" fill="#f5d7a5"/>
<rect x="200" y="202" width="72" height="4" fill="#f5dfab"/>
<rect x="272" y="202" width="40" height="4" fill="#f4e6b2"/>
<rect x="312" y="202" width="20" height="4" fill="#f5dfab"/>
<rect x="332" y="202" width="32" height="4" fill="#f4e6b2"/>
<rect x="364" y="202" width="8" height="4" fill="#f4eeb8"/>
<rect x="372" y="202" width="8" height="4" fill="#f0edbb"/>
<rect x="380" y="202" width="4" height="4" fill="#ececbe"/>
<rect x="384" y="202" width="4" height="4" fill="#f0edbb"/>
<rect x="388" y="202" width="8" height="4" fill="#f4eeb8"/>
<rect x="396" y="202" width="4" height="4" fill="#f4e6b2"/>
<rect x="400" y="202" width="4" height="4" fill="#f5dfab"/>
<rect x="404" y="202" width="4" height="4" fill="#f4e6b2"/>
<rect x="408" y="202" width="4" height="4" fill="#f4eeb8"/>
<rect x="412" y="202" width="4" height="4" fill="#f0edbb"/>
<rect x="416" y="202" width="4" height="4" fill="#ececbe"/>
<rect x="420" y="202" width="4" height="4" fill="#e7ebc0"/>
<rect x="424" y="202" width="4" height="4" fill="#ececbe"/>
<rect x="428" y="202" width="8" height="4" fill="#f0edbb"/>
<rect x="436" y="202" width="4" height="4" fill="#f4eeb8"/>
<rect x="440" y="202" width="4" height="4" fill="#f4e6b2"/>
<rect x="444" y="202" width="4" height="4" fill="#f4eeb8"/>
<rect x="448" y="202" width="8" height="4" fill="#f0edbb"/>
<rect x="456" y="202" width="4" height="4" fill="#ececbe"/>
<rect x="460" y="202" width="4" height="4" fill="#e7ebc0"/>
<rect x="464" y="202" width="4" height="4" fill="#ececbe"/>
<rect x="468" y="202" width="4" height="4" fill="#f0edbb"/>
<rect x="472" y="202" width="4" height="4" fill="#f4e6b2"/>
<rect x="476" y="202" width="4" height="4" fill="#f5dfab"/>
<rect x="480" y="202" width="8" height="4" fill="#f5d7a5"/>
<rect x="488" y="202" width="8" height="4" fill="#f5dfab"/>
<rect x="496" y="202" width="96" height="4" fill="#f4e6b2"/>
<rect x="72" y="206" width="12" height="4" fill="#dfe9c6"/>
<rect x="84" y="206" width="8" height="4" fill="#e3eac3"/>
<rect x="92" y="206" width="8" height="4" fill="#e7ebc0"/>
<rect x="100" y="206" width="8" height="4" fill="#ececbe"/>
<rect x="108" y="206" width="8" height="4" fill="#f0edbb"/>
<rect x="116" y="206" width="12" height="4" fill="#f4eeb8"/>
<rect x="128" y="206" width="8" height="4" fill="#f4e6b2"/>
<rect x="136" y="206" width="8" height="4" fill="#f5dfab"/>
<rect x="144" y="206" width="4" height="4" fill="#f5d7a5"/>
<rect x="148" y="206" width="4" height="4" fill="#f6d09e"/>
<rect x="152" y="206" width="4" height="4" fill="#f6c898"/>
<rect x="156" y="206" width="4" height="4" fill="#f6bf90"/>
<rect x="160" y="206" width="24" height="4" fill="#f6b689"/>
<rect x="184" y="206" width="8" height="4" fill="#f6bf90"/>
<rect x="192" y="206" width="8" height="4" fill="#f6c898"/>
<rect x="200" y="206" width="68" height="4" fill="#f6d09e"/>
<rect x="268" y="206" width="8" height="4" fill="#f5d7a5"/>
<rect x="276" y="206" width="32" height="4" fill="#f5dfab"/>
<rect x="308" y="206" width="8" height="4" fill="#f5d7a5"/>
<rect x="316" y="206" width="12" height="4" fill="#f6d09e"/>
<rect x="328" y="206" width="8" height="4" fill="#f5d7a5"/>
<rect x="336" y="206" width="36" height="4" fill="#f5dfab"/>
<rect x="372" y="206" width="12" height="4" fill="#f4e6b2"/>
<rect x="384" y="206" width="8" height="4" fill="#f5dfab"/>
<rect x="392" y="206" width="8" height="4" fill="#f5d7a5"/>
<rect x="400" y="206" width="4" height="4" fill="#f6d09e"/>
<rect x="404" y="206" width="4" height="4" fill="#f5d7a5"/>
<rect x="408" y="206" width="4" height="4" fill="#f5dfab"/>
<rect x="412" y="206" width="4" height="4" fill="#f4e6b2"/>
<rect x="416" y="206" width="4" height="4" fill="#f4eeb8"/>
<rect x="420" y="206" width="4" height="4" fill="#f0edbb"/>
<rect x="424" y="206" width="8" height="4" fill="#f4eeb8"/>
<rect x="432" y="206" width="8" height="4" fill="#f4e6b2"/>
<rect x="440" y="206" width="4" height="4" fill="#f5dfab"/>
<rect x="444" y="206" width="8" height="4" fill="#f4e6b2"/>
<rect x="452" y="206" width="8" height="4" fill="#f4eeb8"/>
<rect x="460" y="206" width="4" height="4" fill="#f0edbb"/>
<rect x="464" y="206" width="4" height="4" fill="#f4eeb8"/>
<rect x="468" y="206" width="4" height="4" fill="#f5dfab"/>
<rect x="472" y="206" width="4" height="4" fill="#f5d7a5"/>
<rect x="476" y="206" width="4" height="4" fill="#f6c898"/>
<rect x="480" y="206" width="4" height="4" fill="#f6bf90"/>
<rect x="484" y="206" width="4" height="4" fill="#f6c898"/>
<rect x="488" y="206" width="8" height="4" fill="#f6d09e"/>
<rect x="496" y="206" width="4" height="4" fill="#f5d7a5"/>
<rect x="500" y="206" width="92" height="4" fill="#f5dfab"/>
<rect x="72" y="210" width="16" height="4" fill="#dfe9c6"/>
<rect x="88" y="210" width="8" height="4" fill="#e3eac3"/>
<rect x="96" y="210" width="8" height="4" fill="#e7ebc0"/>
<rect x="104" y="210" width="8" height="4" fill="#ececbe"/>
<rect x="112" y="210" width="8" height="4" fill="#f0edbb"/>
<rect x="120" y="210" width="4" height="4" fill="#f4eeb8"/>
<rect x="124" y="210" width="8" height="4" fill="#f4e6b2"/>
<rect x="132" y="210" width="8" height="4" fill="#f5dfab"/>
<rect x="140" y="210" width="4" height="4" fill="#f5d7a5"/>
<rect x="144" y="210" width="4" height="4" fill="#f6d09e"/>
<rect x="148" y="210" width="4" height="4" fill="#f6c898"/>
<rect x="152" y="210" width="4" height="4" fill="#f6bf90"/>
<rect x="156" y="210" width="4" height="4" fill="#f6b689"/>
<rect x="160" y="210" width="28" height="4" fill="#f5ac81"/>
<rect x="188" y="210" width="8" height="4" fill="#f6b689"/>
<rect x="196" y="210" width="68" height="4" fill="#f6bf90"/>
<rect x="264" y="210" width="8" height="4" fill="#f6c898"/>
<rect x="272" y="210" width="8" height="4" fill="#f6d09e"/>
<rect x="280" y="210" width="24" height="4" fill="#f5d7a5"/>
<rect x="304" y="210" width="8" height="4" fill="#f6d09e"/>
<rect x="312" y="210" width="8" height="4" fill="#f6c898"/>
<rect x="320" y="210" width="4" height="4" fill="#f6bf90"/>
<rect x="324" y="210" width="8" height="4" fill="#f6c898"/>
<rect x="332" y="210" width="8" height="4" fill="#f6d09e"/>
<rect x="340" y="210" width="32" height="4" fill="#f5d7a5"/>
<rect x="372" y="210" width="16" height="4" fill="#f6d09e"/>
<rect x="388" y="210" width="8" height="4" fill="#f6c898"/>
<rect x="396" y="210" width="8" height="4" fill="#f6bf90"/>
<rect x="404" y="210" width="4" height="4" fill="#f6c898"/>
<rect x="408" y="210" width="4" height="4" fill="#f6d09e"/>
<rect x="412" y="210" width="4" height="4" fill="#f5d7a5"/>
<rect x="416" y="210" width="4" height="4" fill="#f5dfab"/>
<rect x="420" y="210" width="8" height="4" fill="#f4e6b2"/>
<rect x="428" y="210" width="8" height="4" fill="#f5dfab"/>
<rect x="436" y="210" width="12" height="4" fill="#f5d7a5"/>
<rect x="448" y="210" width="8" height="4" fill="#f5dfab"/>
<rect x="456" y="210" width="8" height="4" fill="#f4e6b2"/>
<rect x="464" y="210" width="4" height="4" fill="#f5d7a5"/>
<rect x="468" y="210" width="4" height="4" fill="#f6d09e"/>
<rect x="472" y="210" width="4" height="4" fill="#f6bf90"/>
<rect x="476" y="210" width="4" height="4" fill="#f6b689"/>
<rect x="480" y="210" width="4" height="4" fill="#f5a37a"/>
<rect x="484" y="210" width="4" height="4" fill="#f5ac81"/>
<rect x="488" y="210" width="4" height="4" fill="#f6b689"/>
<rect x="492" y="210" width="4" height="4" fill="#f6c898"/>
<rect x="496" y="210" width="4" height="4" fill="#f6d09e"/>
<rect x="500" y="210" width="92" height="4" fill="#f5d7a5"/>
<rect x="72" y="214" width="20" height="4" fill="#dfe9c6"/>
<rect x="92" y="214" width="12" height="4" fill="#e3eac3"/>
<rect x="104" y="214" width="4" height="4" fill="#e7ebc0"/>
<rect x="108" y="214" width="8" height="4" fill="#ececbe"/>
<rect x="116" y="214" width="4" height="4" fill="#f0edbb"/>
<rect x="120" y="214" width="4" height="4" fill="#f4eeb8"/>
<rect x="124" y="214" width="4" height="4" fill="#f4e6b2"/>
<rect x="128" y="214" width="8" height="4" fill="#f5dfab"/>
<rect x="136" y="214" width="4" height="4" fill="#f5d7a5"/>
<rect x="140" y="214" width="4" height="4" fill="#f6d09e"/>
<rect x="144" y="214" width="4" height="4" fill="#f6c898"/>
<rect x="148" y="214" width="4" height="4" fill="#f6bf90"/>
<rect x="152" y="214" width="4" height="4" fill="#f6b689"/>
<rect x="156" y="214" width="4" height="4" fill="#f5ac81"/>
<rect x="160" y="214" width="32" height="4" fill="#f5a37a"/>
<rect x="192" y="214" width="72" height="4" fill="#f5ac81"/>
<rect x="264" y="214" width="4" height="4" fill="#f6b689"/>
<rect x="268" y="214" width="8" height="4" fill="#f6bf90"/>
<rect x="276" y="214" width="4" height="4" fill="#f6c898"/>
<rect x="280" y="214" width="24" height="4" fill="#f6d09e"/>
<rect x="304" y="214" width="4" height="4" fill="#f6c898"/>
<rect x="308" y="214" width="8" height="4" fill="#f6bf90"/>
<rect x="316" y="214" width="4" height="4" fill="#f6b689"/>
<rect x="320" y="214" width="4" height="4" fill="#f5ac81"/>
<rect x="324" y="214" width="4" height="4" fill="#f6b689"/>
<rect x="328" y="214" width="8" height="4" fill="#f6bf90"/>
<rect x="336" y="214" width="4" height="4" fill="#f6c898"/>
<rect x="340" y="214" width="24" height="4" fill="#f6d09e"/>
<rect x="364" y="214" width="8" height="4" fill="#f6c898"/>
<rect x="372" y="214" width="8" height="4" fill="#f6bf90"/>
<rect x="380" y="214" width="12" height="4" fill="#f6b689"/>
<rect x="392" y="214" width="12" height="4" fill="#f5ac81"/>
<rect x="404" y="214" width="4" height="4" fill="#f6b689"/>
<rect x="408" y="214" width="4" height="4" fill="#f6bf90"/>
<rect x="412" y="214" width="4" height="4" fill="#f6c898"/>
<rect x="416" y="214" width="4" height="4" fill="#f6d09e"/>
<rect x="420" y="214" width="12" height="4" fill="#f5d7a5"/>
<rect x="432" y="214" width="20" height="4" fill="#f6d09e"/>
<rect x="452" y="214" width="12" height="4" fill="#f5d7a5"/>
<rect x="464" y="214" width="4" height="4" fill="#f6c898"/>
<rect x="468" y="214" width="4" height="4" fill="#f6b689"/>
<rect x="472" y="214" width="4" height="4" fill="#f5ac81"/>
<rect x="476" y="214" width="4" height="4" fill="#f59a72"/>
<rect x="480" y="214" width="4" height="4" fill="#f48460"/>
<rect x="484" y="214" width="4" height="4" fill="#f59a72"/>
<rect x="488" y="214" width="4" height="4" fill="#f5a37a"/>
<rect x="492" y="214" width="4" height="4" fill="#f6b689"/>
<rect x="496" y="214" width="4" height="4" fill="#f6bf90"/>
<rect x="500" y="214" width="92" height="4" fill="#f6d09e"/>
<rect x="72" y="218" width="32" height="4" fill="#dfe9c6"/>
<rect x="104" y="218" width="4" height="4" fill="#e3eac3"/>
<rect x="108" y="218" width="4" height="4" fill="#e7ebc0"/>
<rect x="112" y="218" width="4" height="4" fill="#ececbe"/>
<rect x="116" y="218" width="4" height="4" fill="#f0edbb"/>
<rect x="120" y="218" width="4" height="4" fill="#f4eeb8"/>
<rect x="124" y="218" width="4" height="4" fill="#f4e6b2"/>
<rect x="128" y="218" width="4" height="4" fill="#f5dfab"/>
<rect x="132" y="218" width="4" height="4" fill="#f5d7a5"/>
<rect x="136" y="218" width="4" height="4" fill="#f6d09e"/>
<rect x="140" y="218" width="4" height="4" fill="#f6c898"/>
<rect x="144" y="218" width="4" height="4" fill="#f6bf90"/>
<rect x="148" y="218" width="4" height="4" fill="#f6b689"/>
<rect x="152" y="218" width="4" height="4" fill="#f5ac81"/>
<rect x="156" y="218" width="4" height="4" fill="#f5a37a"/>
<rect x="160" y="218" width="104" height="4" fill="#f59a72"/>
<rect x="264" y="218" width="4" height="4" fill="#f5a37a"/>
<rect x="268" y="218" width="4" height="4" fill="#f5ac81"/>
<rect x="272" y="218" width="4" height="4" fill="#f6b689"/>
<rect x="276" y="218" width="4" height="4" fill="#f6bf90"/>
<rect x="280" y="218" width="24" height="4" fill="#f6c898"/>
<rect x="304" y="218" width="4" height="4" fill="#f6bf90"/>
<rect x="308" y="218" width="4" height="4" fill="#f6b689"/>
<rect x="312" y="218" width="4" height="4" fill="#f5ac81"/>
<rect x="316" y="218" width="4" height="4" fill="#f5a37a"/>
<rect x="320" y="218" width="4" height="4" fill="#f59a72"/>
<rect x="324" y="218" width="4" height="4" fill="#f5a37a"/>
<rect x="328" y="218" width="4" height="4" fill="#f5ac81"/>
<rect x="332" y="218" width="4" height="4" fill="#f6b689"/>
<rect x="336" y="218" width="4" height="4" fill="#f6bf90"/>
<rect x="340" y="218" width="24" height="4" fill="#f6c898"/>
<rect x="364" y="218" width="4" height="4" fill="#f6bf90"/>
<rect x="368" y="218" width="4" height="4" fill="#f6b689"/>
<rect x="372" y="218" width="4" height="4" fill="#f5ac81"/>
<rect x="376" y="218" width="4" height="4" fill="#f5a37a"/>
<rect x="380" y="218" width="24" height="4" fill="#f59a72"/>
<rect x="404" y="218" width="4" height="4" fill="#f5a37a"/>
<rect x="408" y="218" width="4" height="4" fill="#f5ac81"/>
<rect x="412" y="218" width="4" height="4" fill="#f6b689"/>
<rect x="416" y="218" width="4" height="4" fill="#f6bf90"/>
<rect x="420" y="218" width="44" height="4" fill="#f6c898"/>
<rect x="464" y="218" width="4" height="4" fill="#f6b689"/>
<rect x="468" y="218" width="4" height="4" fill="#f5a37a"/>
<rect x="472" y="218" width="4" height="4" fill="#f48f69"/>
<rect x="476" y="218" width="4" height="4" fill="#f37a58"/>
<rect x="480" y="218" width="4" height="4" fill="#f26446"/>
<rect x="484" y="218" width="4" height="4" fill="#f37a58"/>
<rect x="488" y="218" width="4" height="4" fill="#f48f69"/>
<rect x="492" y="218" width="4" height="4" fill="#f5a37a"/>
<rect x="496" y="218" width="4" height="4" fill="#f6b689"/>
<rect x="500" y="218" width="92" height="4" fill="#f6c898"/>
<rect x="72" y="222" width="12" height="4" fill="#f0edbb"/>
<rect x="84" y="222" width="4" height="4" fill="#ececbe"/>
<rect x="88" y="222" width="8" height="4" fill="#e7ebc0"/>
<rect x="96" y="222" width="4" height="4" fill="#e3eac3"/>
<rect x="100" y="222" width="4" height="4" fill="#dfe9c6"/>
<rect x="104" y="222" width="4" height="4" fill="#e3eac3"/>
<rect x="108" y="222" width="4" height="4" fill="#e7ebc0"/>
<rect x="112" y="222" width="4" height="4" fill="#ececbe"/>
<rect x="116" y="222" width="4" height="4" fill="#f0edbb"/>
<rect x="120" y="222" width="4" height="4" fill="#f4eeb8"/>
<rect x="124" y="222" width="4" height="4" fill="#f4e6b2"/>
<rect x="128" y="222" width="4" height="4" fill="#f5dfab"/>
<rect x="132" y="222" width="4" height="4" fill="#f5d7a5"/>
<rect x="136" y="222" width="4" height="4" fill="#f6d09e"/>
<rect x="140" y="222" width="4" height="4" fill="#f6c898"/>
<rect x="144" y="222" width="4" height="4" fill="#f6bf90"/>
<rect x="148" y="222" width="8" height="4" fill="#f6b689"/>
<rect x="156" y="222" width="4" height="4" fill="#f5ac81"/>
<rect x="160" y="222" width="12" height="4" fill="#f5a37a"/>
<rect x="172" y="222" width="60" height="4" fill="#f59a72"/>
<rect x="232" y="222" width="20" height="4" fill="#f48f69"/>
<rect x="252" y="222" width="12" height="4" fill="#f59a72"/>
<rect x="264" y="222" width="4" height="4" fill="#f5a37a"/>
<rect x="268" y="222" width="8" height="4" fill="#f5ac81"/>
<rect x="276" y="222" width="4" height="4" fill="#f6b689"/>
<rect x="280" y="222" width="24" height="4" fill="#f6bf90"/>
<rect x="304" y="222" width="4" height="4" fill="#f6b689"/>
<rect x="308" y="222" width="8" height="4" fill="#f5ac81"/>
<rect x="316" y="222" width="4" height="4" fill="#f5a37a"/>
<rect x="320" y="222" width="4" height="4" fill="#f59a72"/>
<rect x="324" y="222" width="4" height="4" fill="#f5a37a"/>
<rect x="328" y="222" width="8" height="4" fill="#f5ac81"/>
<rect x="336" y="222" width="4" height="4" fill="#f6b689"/>
<rect x="340" y="222" width="24" height="4" fill="#f6bf90"/>
<rect x="364" y="222" width="4" height="4" fill="#f6b689"/>
<rect x="368" y="222" width="8" height="4" fill="#f5ac81"/>
<rect x="376" y="222" width="4" height="4" fill="#f5a37a"/>
<rect x="380" y="222" width="12" height="4" fill="#f59a72"/>
<rect x="392" y="222" width="12" height="4" fill="#f48f69"/>
<rect x="404" y="222" width="4" height="4" fill="#f59a72"/>
<rect x="408" y="222" width="4" height="4" fill="#f5a37a"/>
<rect x="412" y="222" width="4" height="4" fill="#f5ac81"/>
<rect x="416" y="222" width="4" height="4" fill="#f6b689"/>
<rect x="420" y="222" width="44" height="4" fill="#f6bf90"/>
<rect x="464" y="222" width="4" height="4" fill="#f5ac81"/>
<rect x="468" y="222" width="4" height="4" fill="#f59a72"/>
<rect x="472" y="222" width="4" height="4" fill="#f48f69"/>
<rect x="476" y="222" width="4" height="4" fill="#f37a58"/>
<rect x="480" y="222" width="4" height="4" fill="#f26446"/>
<rect x="484" y="222" width="4" height="4" fill="#f37a58"/>
<rect x="488" y="222" width="4" height="4" fill="#f48460"/>
<rect x="492" y="222" width="4" height="4" fill="#f59a72"/>
<rect x="496" y="222" width="4" height="4" fill="#f5a37a"/>
<rect x="500" y="222" width="92" height="4" fill="#f6b689"/>
<rect x="72" y="226" width="12" height="4" fill="#f5d7a5"/>
<rect x="84" y="226" width="4" height="4" fill="#f4e6b2"/>
<rect x="88" y="226" width="4" height="4" fill="#f4eeb8"/>
<rect x="92" y="226" width="4" height="4" fill="#ececbe"/>
<rect x="96" y="226" width="4" height="4" fill="#e7ebc0"/>
<rect x="100" y="226" width="4" height="4" fill="#dfe9c6"/>
<rect x="104" y="226" width="4" height="4" fill="#e3eac3"/>
<rect x="108" y="226" width="4" height="4" fill="#e7ebc0"/>
<rect x="112" y="226" width="4" height="4" fill="#ececbe"/>
<rect x="116" y="226" width="4" height="4" fill="#f0edbb"/>
<rect x="120" y="226" width="4" height="4" fill="#f4eeb8"/>
<rect x="124" y="226" width="4" height="4" fill="#f4e6b2"/>
<rect x="128" y="226" width="4" height="4" fill="#f5dfab"/>
<rect x="132" y="226" width="4" height="4" fill="#f5d7a5"/>
<rect x="136" y="226" width="4" height="4" fill="#f6d09e"/>
<rect x="140" y="226" width="4" height="4" fill="#f6c898"/>
<rect x="144" y="226" width="8" height="4" fill="#f6bf90"/>
<rect x="152" y="226" width="8" height="4" fill="#f6b689"/>
<rect x="160" y="226" width="8" height="4" fill="#f5ac81"/>
<rect x="168" y="226" width="8" height="4" fill="#f5a37a"/>
<rect x="176" y="226" width="52" height="4" fill="#f59a72"/>
<rect x="228" y="226" width="8" height="4" fill="#f48f69"/>
<rect x="236" y="226" width="12" height="4" fill="#f48460"/>
<rect x="248" y="226" width="8" height="4" fill="#f48f69"/>
<rect x="256" y="226" width="8" height="4" fill="#f59a72"/>
<rect x="264" y="226" width="8" height="4" fill="#f5a37a"/>
<rect x="272" y="226" width="8" height="4" fill="#f5ac81"/>
<rect x="280" y="226" width="24" height="4" fill="#f6b689"/>
<rect x="304" y="226" width="8" height="4" fill="#f5ac81"/>
<rect x="312" y="226" width="8" height="4" fill="#f5a37a"/>
<rect x="320" y="226" width="4" height="4" fill="#f59a72"/>
<rect x="324" y="226" width="8" height="4" fill="#f5a37a"/>
<rect x="332" y="226" width="8" height="4" fill="#f5ac81"/>
<rect x="340" y="226" width="24" height="4" fill="#f6b689"/>
<rect x="364" y="226" width="8" height="4" fill="#f5ac81"/>
<rect x="372" y="226" width="8" height="4" fill="#f5a37a"/>
<rect x="380" y="226" width="8" height="4" fill="#f59a72"/>
<rect x="388" y="226" width="8" height="4" fill="#f48f69"/>
<rect x="396" y="226" width="8" height="4" fill="#f48460"/>
<rect x="404" y="226" width="4" height="4" fill="#f48f69"/>
<rect x="408" y="226" width="4" height="4" fill="#f59a72"/>
<rect x="412" y="226" width="4" height="4" fill="#f5a37a"/>
<rect x="416" y="226" width="4" height="4" fill="#f5ac81"/>
<rect x="420" y="226" width="44" height="4" fill="#f6b689"/>
<rect x="464" y="226" width="4" height="4" fill="#f5a37a"/>
<rect x="468" y="226" width="4" height="4" fill="#f59a72"/>
<rect x="472" y="226" width="4" height="4" fill="#f48460"/>
<rect x="476" y="226" width="4" height="4" fill="#f37a58"/>
<rect x="480" y="226" width="4" height="4" fill="#f26446"/>
<rect x="484" y="226" width="4" height="4" fill="#f36f4f"/>
<rect x="488" y="226" width="4" height="4" fill="#f37a58"/>
<rect x="492" y="226" width="4" height="4" fill="#f48f69"/>
<rect x="496" y="226" width="4" height="4" fill="#f59a72"/>
<rect x="500" y="226" width="92" height="4" fill="#f5a37a"/>
<rect x="72" y="230" width="12" height="4" fill="#f6b689"/>
<rect x="84" y="230" width="4" height="4" fill="#f6c898"/>
<rect x="88" y="230" width="4" height="4" fill="#f5dfab"/>
<rect x="92" y="230" width="4" height="4" fill="#f4eeb8"/>
<rect x="96" y="230" width="4" height="4" fill="#e7ebc0"/>
<rect x="100" y="230" width="4" height="4" fill="#dfe9c6"/>
<rect x="104" y="230" width="4" height="4" fill="#e3eac3"/>
<rect x="108" y="230" width="4" height="4" fill="#e7ebc0"/>
<rect x="112" y="230" width="4" height="4" fill="#ececbe"/>
<rect x="116" y="230" width="4" height="4" fill="#f0edbb"/>
<rect x="120" y="230" width="4" height="4" fill="#f4eeb8"/>
<rect x="124" y="230" width="4" height="4" fill="#f4e6b2"/>
<rect x="128" y="230" width="4" height="4" fill="#f5dfab"/>
<rect x="132" y="230" width="4" height="4" fill="#f5d7a5"/>
<rect x="136" y="230" width="4" height="4" fill="#f6d09e"/>
<rect x="140" y="230" width="8" height="4" fill="#f6c898"/>
<rect x="148" y="230" width="8" height="4" fill="#f6bf90"/>
<rect x="156" y="230" width="8" height="4" fill="#f6b689"/>
<rect x="164" y="230" width="8" height="4" fill="#f5ac81"/>
<rect x="172" y="230" width="8" height="4" fill="#f5a37a"/>
<rect x="180" y="230" width="44" height="4" fill="#f59a72"/>
<rect x="224" y="230" width="8" height="4" fill="#f48f69"/>
<rect x="232" y="230" width="8" height="4" fill="#f48460"/>
<rect x="240" y="230" width="4" height="4" fill="#f37a58"/>
<rect x="244" y="230" width="8" height="4" fill="#f48460"/>
<rect x="252" y="230" width="8" height="4" fill="#f48f69"/>
<rect x="260" y="230" width="8" height="4" fill="#f59a72"/>
<rect x="268" y="230" width="8" height="4" fill="#f5a37a"/>
<rect x="276" y="230" width="32" height="4" fill="#f5ac81"/>
<rect x="308" y="230" width="8" height="4" fill="#f5a37a"/>
<rect x="316" y="230" width="12" height="4" fill="#f59a72"/>
<rect x="328" y="230" width="8" height="4" fill="#f5a37a"/>
<rect x="336" y="230" width="32" height="4" fill="#f5ac81"/>
<rect x="368" y="230" width="8" height="4" fill="#f5a37a"/>
<rect x="376" y="230" width="8" height="4" fill="#f59a72"/>
<rect x="384" y="230" width="8" height="4" fill="#f48f69"/>
<rect x="392" y="230" width="8" height="4" fill="#f48460"/>
<rect x="400" y="230" width="4" height="4" fill="#f37a58"/>
<rect x="404" y="230" width="4" height="4" fill="#f48460"/>
<rect x="408" y="230" width="4" height="4" fill="#f48f69"/>
<rect x="412" y="230" width="4" height="4" fill="#f59a72"/>
<rect x="416" y="230" width="4" height="4" fill="#f5a37a"/>
<rect x="420" y="230" width="44" height="4" fill="#f5ac81"/>
<rect x="464" y="230" width="4" height="4" fill="#f5a37a"/>
<rect x="468" y="230" width="4" height="4" fill="#f48f69"/>
<rect x="472" y="230" width="4" height="4" fill="#f48460"/>
<rect x="476" y="230" width="4" height="4" fill="#f36f4f"/>
<rect x="480" y="230" width="4" height="4" fill="#f26446"/>
<rect x="484" y="230" width="4" height="4" fill="#f36f4f"/>
<rect x="488" y="230" width="8" height="4" fill="#f37a58"/>
<rect x="496" y="230" width="4" height="4" fill="#f48460"/>
<rect x="500" y="230" width="92" height="4" fill="#f48f69"/>
<rect x="72" y="234" width="12" height="4" fill="#f48f69"/>
<rect x="84" y="234" width="4" height="4" fill="#f5ac81"/>
<rect x="88" y="234" width="4" height="4" fill="#f6c898"/>
<rect x="92" y="234" width="4" height="4" fill="#f4e6b2"/>
<rect x="96" y="234" width="4" height="4" fill="#ececbe"/>
<rect x="100" y="234" width="4" height="4" fill="#dfe9c6"/>
<rect x="104" y="234" width="4" height="4" fill="#e3eac3"/>
<rect x="108" y="234" width="4" height="4" fill="#e7ebc0"/>
<rect x="112" y="234" width="4" height="4" fill="#ececbe"/>
<rect x="116" y="234" width="4" height="4" fill="#f0edbb"/>
<rect x="120" y="234" width="4" height="4" fill="#f4eeb8"/>
<rect x="124" y="234" width="4" height="4" fill="#f4e6b2"/>
<rect x="128" y="234" width="4" height="4" fill="#f5dfab"/>
<rect x="132" y="234" width="4" height="4" fill="#f5d7a5"/>
<rect x="136" y="234" width="4" height="4" fill="#f6d09e"/>
<rect x="140" y="234" width="12" height="4" fill="#f6c898"/>
<rect x="152" y="234" width="12" height="4" fill="#f6bf90"/>
<rect x="164" y="234" width="4" height="4" fill="#f6b689"/>
<rect x="168" y="234" width="8" height="4" fill="#f5ac81"/>
<rect x="176" y="234" width="4" height="4" fill="#f5a37a"/>
<rect x="180" y="234" width="44" height="4" fill="#f59a72"/>
<rect x="224" y="234" width="4" height="4" fill="#f48f69"/>
<rect x="228" y="234" width="8" height="4" fill="#f48460"/>
<rect x="236" y="234" width="4" height="4" fill="#f37a58"/>
<rect x="240" y="234" width="4" height="4" fill="#f36f4f"/>
<rect x="244" y="234" width="4" height="4" fill="#f37a58"/>
<rect x="248" y="234" width="8" height="4" fill="#f48460"/>
<rect x="256" y="234" width="4" height="4" fill="#f48f69"/>
<rect x="260" y="234" width="12" height="4" fill="#f59a72"/>
<rect x="272" y="234" width="40" height="4" fill="#f5a37a"/>
<rect x="312" y="234" width="20" height="4" fill="#f59a72"/>
<rect x="332" y="234" width="40" height="4" fill="#f5a37a"/>
<rect x="372" y="234" width="12" height="4" fill="#f59a72"/>
<rect x="384" y="234" width="4" height="4" fill="#f48f69"/>
<rect x="388" y="234" width="8" height="4" fill="#f48460"/>
<rect x="396" y="234" width="4" height="4" fill="#f37a58"/>
<rect x="400" y="234" width="4" height="4" fill="#f36f4f"/>
<rect x="404" y="234" width="4" height="4" fill="#f37a58"/>
<rect x="408" y="234" width="4" height="4" fill="#f48460"/>
<rect x="412" y="234" width="4" height="4" fill="#f48f69"/>
<rect x="416" y="234" width="4" height="4" fill="#f59a72"/>
<rect x="420" y="234" width="44" height="4" fill="#f5a37a"/>
<rect x="464" y="234" width="4" height="4" fill="#f59a72"/>
<rect x="468" y="234" width="4" height="4" fill="#f48f69"/>
<rect x="472" y="234" width="4" height="4" fill="#f37a58"/>
<rect x="476" y="234" width="4" height="4" fill="#f36f4f"/>
<rect x="480" y="234" width="8" height="4" fill="#f26446"/>
<rect x="488" y="234" width="8" height="4" fill="#f36f4f"/>
<rect x="496" y="234" width="96" height="4" fill="#f37a58"/>
<rect x="72" y="238" width="12" height="4" fill="#f26446"/>
<rect x="84" y="238" width="4" height="4" fill="#f48f69"/>
<rect x="88" y="238" width="4" height="4" fill="#f6b689"/>
<rect x="92" y="238" width="4" height="4" fill="#f5d7a5"/>
<rect x="96" y="238" width="4" height="4" fill="#f0edbb"/>
<rect x="100" y="238" width="4" height="4" fill="#dfe9c6"/>
<rect x="104" y="238" width="4" height="4" fill="#e3eac3"/>
<rect x="108" y="238" width="4" height="4" fill="#e7ebc0"/>
<rect x="112" y="238" width="4" height="4" fill="#ececbe"/>
<rect x="116" y="238" width="4" height="4" fill="#f0edbb"/>
<rect x="120" y="238" width="4" height="4" fill="#f4eeb8"/>
<rect x="124" y="238" width="4" height="4" fill="#f4e6b2"/>
<rect x="128" y="238" width="4" height="4" fill="#f5dfab"/>
<rect x="132" y="238" width="4" height="4" fill="#f5d7a5"/>
<rect x="136" y="238" width="4" height="4" fill="#f6d09e"/>
<rect x="140" y="238" width="24" height="4" fill="#f6c898"/>
<rect x="164" y="238" width="4" height="4" fill="#f6bf90"/>
<rect x="168" y="238" width="4" height="4" fill="#f6b689"/>
<rect x="172" y="238" width="4" height="4" fill="#f5ac81"/>
<rect x="176" y="238" width="4" height="4" fill="#f5a37a"/>
<rect x="180" y="238" width="44" height="4" fill="#f59a72"/>
<rect x="224" y="238" width="4" height="4" fill="#f48f69"/>
<rect x="228" y="238" width="4" height="4" fill="#f48460"/>
<rect x="232" y="238" width="4" height="4" fill="#f37a58"/>
<rect x="236" y="238" width="4" height="4" fill="#f36f4f"/>
<rect x="240" y="238" width="4" height="4" fill="#f26446"/>
<rect x="244" y="238" width="4" height="4" fill="#f36f4f"/>
<rect x="248" y="238" width="4" height="4" fill="#f37a58"/>
<rect x="252" y="238" width="4" height="4" fill="#f48460"/>
<rect x="256" y="238" width="4" height="4" fill="#f48f69"/>
<rect x="260" y="238" width="124" height="4" fill="#f59a72"/>
<rect x="384" y="238" width="4" height="4" fill="#f48f69"/>
<rect x="388" y="238" width="4" height="4" fill="#f48460"/>
<rect x="392" y="238" width="4" height="4" fill="#f37a58"/>
<rect x="396" y="238" width="4" height="4" fill="#f36f4f"/>
<rect x="400" y="238" width="4" height="4" fill="#f26446"/>
<rect x="404" y="238" width="4" height="4" fill="#f36f4f"/>
<rect x="408" y="238" width="4" height="4" fill="#f37a58"/>
<rect x="412" y="238" width="4" height="4" fill="#f48460"/>
<rect x="416" y="238" width="4" height="4" fill="#f48f69"/>
<rect x="420" y="238" width="44" height="4" fill="#f59a72"/>
<rect x="464" y="238" width="4" height="4" fill="#f48f69"/>
<rect x="468" y="238" width="4" height="4" fill="#f48460"/>
<rect x="472" y="238" width="4" height="4" fill="#f37a58"/>
<rect x="476" y="238" width="4" height="4" fill="#f36f4f"/>
<rect x="480" y="238" width="112" height="4" fill="#f26446"/>
<rect x="72" y="242" width="12" height="4" fill="#f26446"/>
<rect x="84" y="242" width="4" height="4" fill="#f48f69"/>
<rect x="88" y="242" width="4" height="4" fill="#f5ac81"/>
<rect x="92" y="242" width="4" height="4" fill="#f6d09e"/>
<rect x="96" y="242" width="4" height="4" fill="#f4e6b2"/>
<rect x="100" y="242" width="4" height="4" fill="#e7ebc0"/>
<rect x="104" y="242" width="4" height="4" fill="#ececbe"/>
<rect x="108" y="242" width="4" height="4" fill="#f0edbb"/>
<rect x="112" y="242" width="4" height="4" fill="#f4eeb8"/>
<rect x="116" y="242" width="4" height="4" fill="#f4e6b2"/>
<rect x="120" y="242" width="4" height="4" fill="#f5dfab"/>
<rect x="124" y="242" width="4" height="4" fill="#f5d7a5"/>
<rect x="128" y="242" width="8" height="4" fill="#f6d09e"/>
<rect x="136" y="242" width="4" height="4" fill="#f6c898"/>
<rect x="140" y="242" width="24" height="4" fill="#f6bf90"/>
<rect x="164" y="242" width="4" height="4" fill="#f6b689"/>
<rect x="168" y="242" width="8" height="4" fill="#f5ac81"/>
<rect x="176" y="242" width="4" height="4" fill="#f5a37a"/>
<rect x="180" y="242" width="44" height="4" fill="#f59a72"/>
<rect x="224" y="242" width="4" height="4" fill="#f48f69"/>
<rect x="228" y="242" width="8" height="4" fill="#f48460"/>
<rect x="236" y="242" width="4" height="4" fill="#f37a58"/>
<rect x="240" y="242" width="4" height="4" fill="#f36f4f"/>
<rect x="244" y="242" width="8" height="4" fill="#f37a58"/>
<rect x="252" y="242" width="8" height="4" fill="#f48460"/>
<rect x="260" y="242" width="12" height="4" fill="#f48f69"/>
<rect x="272" y="242" width="20" height="4" fill="#f59a72"/>
<rect x="292" y="242" width="92" height="4" fill="#f48f69"/>
<rect x="384" y="242" width="4" height="4" fill="#f48460"/>
<rect x="388" y="242" width="8" height="4" fill="#f37a58"/>
<rect x="396" y="242" width="4" height="4" fill="#f36f4f"/>
<rect x="400" y="242" width="4" height="4" fill="#f26446"/>
<rect x="404" y="242" width="4" height="4" fill="#f36f4f"/>
<rect x="408" y="242" width="8" height="4" fill="#f37a58"/>
<rect x="416" y="242" width="4" height="4" fill="#f48460"/>
<rect x="420" y="242" width="12" height="4" fill="#f48f69"/>
<rect x="432" y="242" width="20" height="4" fill="#f59a72"/>
<rect x="452" y="242" width="12" height="4" fill="#f5a37a"/>
<rect x="464" y="242" width="4" height="4" fill="#f59a72"/>
<rect x="468" y="242" width="4" height="4" fill="#f48f69"/>
<rect x="472" y="242" width="4" height="4" fill="#f37a58"/>
<rect x="476" y="242" width="4" height="4" fill="#f36f4f"/>
<rect x="480" y="242" width="112" height="4" fill="#f26446"/>
<rect x="72" y="246" width="12" height="4" fill="#f26446"/>
<rect x="84" y="246" width="4" height="4" fill="#f48460"/>
<rect x="88" y="246" width="4" height="4" fill="#f5a37a"/>
<rect x="92" y="246" width="4" height="4" fill="#f6c898"/>
<rect x="96" y="246" width="4" height="4" fill="#f5dfab"/>
<rect x="100" y="246" width="4" height="4" fill="#f0edbb"/>
<rect x="104" y="246" width="4" height="4" fill="#f4eeb8"/>
<rect x="108" y="246" width="4" height="4" fill="#f4e6b2"/>
<rect x="112" y="246" width="4" height="4" fill="#f5dfab"/>
<rect x="116" y="246" width="4" height="4" fill="#f5d7a5"/>
<rect x="120" y="246" width="4" height="4" fill="#f6d09e"/>
<rect x="124" y="246" width="8" height="4" fill="#f6c898"/>
<rect x="132" y="246" width="8" height="4" fill="#f6bf90"/>
<rect x="140" y="246" width="24" height="4" fill="#f6b689"/>
<rect x="164" y="246" width="8" height="4" fill="#f5ac81"/>
<rect x="172" y="246" width="8" height="4" fill="#f5a37a"/>
<rect x="180" y="246" width="44" height="4" fill="#f59a72"/>
<rect x="224" y="246" width="8" height="4" fill="#f48f69"/>
<rect x="232" y="246" width="8" height="4" fill="#f48460"/>
<rect x="240" y="246" width="12" height="4" fill="#f37a58"/>
<rect x="252" y="246" width="16" height="4" fill="#f48460"/>
<rect x="268" y="246" width="8" height="4" fill="#f48f69"/>
<rect x="276" y="246" width="12" height="4" fill="#f59a72"/>
<rect x="288" y="246" width="8" height="4" fill="#f48f69"/>
<rect x="296" y="246" width="88" height="4" fill="#f48460"/>
<rect x="384" y="246" width="8" height="4" fill="#f37a58"/>
<rect x="392" y="246" width="8" height="4" fill="#f36f4f"/>
<rect x="400" y="246" width="4" height="4" fill="#f26446"/>
<rect x="404" y="246" width="8" height="4" fill="#f36f4f"/>
<rect x="412" y="246" width="8" height="4" fill="#f37a58"/>
<rect x="420" y="246" width="8" height="4" fill="#f48460"/>
<rect x="428" y="246" width="8" height="4" fill="#f48f69"/>
<rect x="436" y="246" width="12" height="4" fill="#f59a72"/>
<rect x="448" y="246" width="8" height="4" fill="#f5a37a"/>
<rect x="456" y="246" width="8" height="4" fill="#f5ac81"/>
<rect x="464" y="246" width="4" height="4" fill="#f5a37a"/>
<rect x="468" y="246" width="4" height="4" fill="#f48f69"/>
<rect x="472" y="246" width="4" height="4" fill="#f48460"/>
<rect x="476" y="246" width="4" height="4" fill="#f36f4f"/>
<rect x="480" y="246" width="112" height="4" fill="#f26446"/>
<rect x="72" y="250" width="12" height="4" fill="#f26446"/>
<rect x="84" y="250" width="4" height="4" fill="#f48460"/>
<rect x="88" y="250" width="4" height="4" fill="#f5a37a"/>
<rect x="92" y="250" width="4" height="4" fill="#f6b689"/>
<rect x="96" y="250" width="4" height="4" fill="#f6d09e"/>
<rect x="100" y="250" width="4" height="4" fill="#f4e6b2"/>
<rect x="104" y="250" width="4" height="4" fill="#f5dfab"/>
<rect x="108" y="250" width="4" height="4" fill="#f5d7a5"/>
<rect x="112" y="250" width="4" height="4" fill="#f6d09e"/>
<rect x="116" y="250" width="4" height="4" fill="#f6c898"/>
<rect x="120" y="250" width="8" height="4" fill="#f6bf90"/>
<rect x="128" y="250" width="8" height="4" fill="#f6b689"/>
<rect x="136" y="250" width="32" height="4" fill="#f5ac81"/>
<rect x="168" y="250" width="8" height="4" fill="#f5a37a"/>
<rect x="176" y="250" width="52" height="4" fill="#f59a72"/>
<rect x="228" y="250" width="8" height="4" fill="#f48f69"/>
<rect x="236" y="250" width="16" height="4" fill="#f48460"/>
<rect x="252" y="250" width="12" height="4" fill="#f37a58"/>
<rect x="264" y="250" width="8" height="4" fill="#f48460"/>
<rect x="272" y="250" width="8" height="4" fill="#f48f69"/>
<rect x="280" y="250" width="4" height="4" fill="#f59a72"/>
<rect x="284" y="250" width="8" height="4" fill="#f48f69"/>
<rect x="292" y="250" width="8" height="4" fill="#f48460"/>
<rect x="300" y="250" width="88" height="4" fill="#f37a58"/>
<rect x="388" y="250" width="8" height="4" fill="#f36f4f"/>
<rect x="396" y="250" width="12" height="4" fill="#f26446"/>
<rect x="408" y="250" width="8" height="4" fill="#f36f4f"/>
<rect x="416" y="250" width="8" height="4" fill="#f37a58"/>
<rect x="424" y="250" width="8" height="4" fill="#f48460"/>
<rect x="432" y="250" width="8" height="4" fill="#f48f69"/>
<rect x="440" y="250" width="4" height="4" fill="#f59a72"/>
<rect x="444" y="250" width="8" height="4" fill="#f5a37a"/>
<rect x="452" y="250" width="8" height="4" fill="#f5ac81"/>
<rect x="460" y="250" width="4" height="4" fill="#f6b689"/>
<rect x="464" y="250" width="4" height="4" fill="#f5a37a"/>
<rect x="468" y="250" width="4" height="4" fill="#f59a72"/>
<rect x="472" y="250" width="4" height="4" fill="#f48460"/>
<rect x="476" y="250" width="4" height="4" fill="#f37a58"/>
<rect x="480" y="250" width="112" height="4" fill="#f26446"/>
<rect x="72" y="254" width="12" height="4" fill="#f26446"/>
<rect x="84" y="254" width="4" height="4" fill="#f37a58"/>
<rect x="88" y="254" width="4" height="4" fill="#f59a72"/>
<rect x="92" y="254" width="4" height="4" fill="#f5ac81"/>
<rect x="96" y="254" width="4" height="4" fill="#f6c898"/>
<rect x="100" y="254" width="4" height="4" fill="#f5d7a5"/>
<rect x="104" y="254" width="4" height="4" fill="#f6d09e"/>
<rect x="108" y="254" width="4" height="4" fill="#f6c898"/>
<rect x="112" y="254" width="4" height="4" fill="#f6bf90"/>
<rect x="116" y="254" width="4" height="4" fill="#f6b689"/>
<rect x="120" y="254" width="12" height="4" fill="#f5ac81"/>
<rect x="132" y="254" width="40" height="4" fill="#f5a37a"/>
<rect x="172" y="254" width="60" height="4" fill="#f59a72"/>
<rect x="232" y="254" width="12" height="4" fill="#f48f69"/>
<rect x="244" y="254" width="8" height="4" fill="#f48460"/>
<rect x="252" y="254" width="8" height="4" fill="#f37a58"/>
<rect x="260" y="254" width="4" height="4" fill="#f36f4f"/>
<rect x="264" y="254" width="4" height="4" fill="#f37a58"/>
<rect x="268" y="254" width="8" height="4" fill="#f48460"/>
<rect x="276" y="254" width="4" height="4" fill="#f48f69"/>
<rect x="280" y="254" width="4" height="4" fill="#f59a72"/>
<rect x="284" y="254" width="4" height="4" fill="#f48f69"/>
<rect x="288" y="254" width="8" height="4" fill="#f48460"/>
<rect x="296" y="254" width="4" height="4" fill="#f37a58"/>
<rect x="300" y="254" width="92" height="4" fill="#f36f4f"/>
<rect x="392" y="254" width="20" height="4" fill="#f26446"/>
<rect x="412" y="254" width="12" height="4" fill="#f36f4f"/>
<rect x="424" y="254" width="4" height="4" fill="#f37a58"/>
<rect x="428" y="254" width="8" height="4" fill="#f48460"/>
<rect x="436" y="254" width="4" height="4" fill="#f48f69"/>
<rect x="440" y="254" width="4" height="4" fill="#f59a72"/>
<rect x="444" y="254" width="4" height="4" fill="#f5a37a"/>
<rect x="448" y="254" width="8" height="4" fill="#f5ac81"/>
<rect x="456" y="254" width="4" height="4" fill="#f6b689"/>
<rect x="460" y="254" width="4" height="4" fill="#f6bf90"/>
<rect x="464" y="254" width="4" height="4" fill="#f5ac81"/>
<rect x="468" y="254" width="4" height="4" fill="#f59a72"/>
<rect x="472" y="254" width="4" height="4" fill="#f48f69"/>
<rect x="476" y="254" width="4" height="4" fill="#f37a58"/>
<rect x="480" y="254" width="112" height="4" fill="#f26446"/>
<rect x="72" y="258" width="12" height="4" fill="#f26446"/>
<rect x="84" y="258" width="4" height="4" fill="#f37a58"/>
<rect x="88" y="258" width="4" height="4" fill="#f48f69"/>
<rect x="92" y="258" width="4" height="4" fill="#f5a37a"/>
<rect x="96" y="258" width="4" height="4" fill="#f6b689"/>
<rect x="100" y="258" width="4" height="4" fill="#f6c898"/>
<rect x="104" y="258" width="4" height="4" fill="#f6bf90"/>
<rect x="108" y="258" width="4" height="4" fill="#f6b689"/>
<rect x="112" y="258" width="4" height="4" fill="#f5ac81"/>
<rect x="116" y="258" width="4" height="4" fill="#f5a37a"/>
<rect x="120" y="258" width="124" height="4" fill="#f59a72"/>
<rect x="244" y="258" width="4" height="4" fill="#f48f69"/>
<rect x="248" y="258" width="4" height="4" fill="#f48460"/>
<rect x="252" y="258" width="4" height="4" fill="#f37a58"/>
<rect x="256" y="258" width="4" height="4" fill="#f36f4f"/>
<rect x="260" y="258" width="4" height="4" fill="#f26446"/>
<rect x="264" y="258" width="4" height="4" fill="#f36f4f"/>
<rect x="268" y="258" width="4" height="4" fill="#f37a58"/>
<rect x="272" y="258" width="4" height="4" fill="#f48460"/>
<rect x="276" y="258" width="4" height="4" fill="#f48f69"/>
<rect x="280" y="258" width="4" height="4" fill="#f59a72"/>
<rect x="284" y="258" width="4" height="4" fill="#f48f69"/>
<rect x="288" y="258" width="4" height="4" fill="#f48460"/>
<rect x="292" y="258" width="4" height="4" fill="#f37a58"/>
<rect x="296" y="258" width="4" height="4" fill="#f36f4f"/>
<rect x="300" y="258" width="124" height="4" fill="#f26446"/>
<rect x="424" y="258" width="4" height="4" fill="#f36f4f"/>
<rect x="428" y="258" width="4" height="4" fill="#f37a58"/>
<rect x="432" y="258" width="4" height="4" fill="#f48460"/>
<rect x="436" y="258" width="4" height="4" fill="#f48f69"/>
<rect x="440" y="258" width="4" height="4" fill="#f59a72"/>
<rect x="444" y="258" width="4" height="4" fill="#f5a37a"/>
<rect x="448" y="258" width="4" height="4" fill="#f5ac81"/>
<rect x="452" y="258" width="4" height="4" fill="#f6b689"/>
<rect x="456" y="258" width="4" height="4" fill="#f6bf90"/>
<rect x="460" y="258" width="4" height="4" fill="#f6c898"/>
<rect x="464" y="258" width="4" height="4" fill="#f6b689"/>
<rect x="468" y="258" width="4" height="4" fill="#f5a37a"/>
<rect x="472" y="258" width="4" height="4" fill="#f48f69"/>
<rect x="476" y="258" width="4" height="4" fill="#f37a58"/>
<rect x="480" y="258" width="112" height="4" fill="#f26446"/>
<rect x="72" y="262" width="12" height="4" fill="#f36f4f"/>
<rect x="84" y="262" width="4" height="4" fill="#f48460"/>
<rect x="88" y="262" width="4" height="4" fill="#f59a72"/>
<rect x="92" y="262" width="4" height="4" fill="#f5a37a"/>
<rect x="96" y="262" width="4" height="4" fill="#f6b689"/>
<rect x="100" y="262" width="4" height="4" fill="#f6c898"/>
<rect x="104" y="262" width="4" height="4" fill="#f6bf90"/>
<rect x="108" y="262" width="4" height="4" fill="#f6b689"/>
<rect x="112" y="262" width="4" height="4" fill="#f5ac81"/>
<rect x="116" y="262" width="4" height="4" fill="#f5a37a"/>
<rect x="120" y="262" width="72" height="4" fill="#f59a72"/>
<rect x="192" y="262" width="52" height="4" fill="#f48f69"/>
<rect x="244" y="262" width="8" height="4" fill="#f48460"/>
<rect x="252" y="262" width="8" height="4" fill="#f37a58"/>
<rect x="260" y="262" width="4" height="4" fill="#f36f4f"/>
<rect x="264" y="262" width="8" height="4" fill="#f37a58"/>
<rect x="272" y="262" width="8" height="4" fill="#f48460"/>
<rect x="280" y="262" width="4" height="4" fill="#f48f69"/>
<rect x="284" y="262" width="4" height="4" fill="#f48460"/>
<rect x="288" y="262" width="8" height="4" fill="#f37a58"/>
<rect x="296" y="262" width="4" height="4" fill="#f36f4f"/>
<rect x="300" y="262" width="124" height="4" fill="#f26446"/>
<rect x="424" y="262" width="4" height="4" fill="#f36f4f"/>
<rect x="428" y="262" width="8" height="4" fill="#f37a58"/>
<rect x="436" y="262" width="4" height="4" fill="#f48460"/>
<rect x="440" y="262" width="4" height="4" fill="#f48f69"/>
<rect x="444" y="262" width="4" height="4" fill="#f59a72"/>
<rect x="448" y="262" width="8" height="4" fill="#f5a37a"/>
<rect x="456" y="262" width="4" height="4" fill="#f5ac81"/>
<rect x="460" y="262" width="4" height="4" fill="#f6b689"/>
<rect x="464" y="262" width="4" height="4" fill="#f5a37a"/>
<rect x="468" y="262" width="4" height="4" fill="#f59a72"/>
<rect x="472" y="262" width="4" height="4" fill="#f48460"/>
<rect x="476" y="262" width="4" height="4" fill="#f37a58"/>
<rect x="480" y="262" width="112" height="4" fill="#f26446"/>
<rect x="72" y="266" width="12" height="4" fill="#f37a58"/>
<rect x="84" y="266" width="4" height="4" fill="#f48f69"/>
<rect x="88" y="266" width="4" height="4" fill="#f59a72"/>
<rect x="92" y="266" width="4" height="4" fill="#f5ac81"/>
<rect x="96" y="266" width="4" height="4" fill="#f6b689"/>
<rect x="100" y="266" width="4" height="4" fill="#f6c898"/>
<rect x="104" y="266" width="4" height="4" fill="#f6bf90"/>
<rect x="108" y="266" width="4" height="4" fill="#f6b689"/>
<rect x="112" y="266" width="4" height="4" fill="#f5ac81"/>
<rect x="116" y="266" width="4" height="4" fill="#f5a37a"/>
<rect x="120" y="266" width="68" height="4" fill="#f59a72"/>
<rect x="188" y="266" width="8" height="4" fill="#f48f69"/>
<rect x="196" y="266" width="56" height="4" fill="#f48460"/>
<rect x="252" y="266" width="20" height="4" fill="#f37a58"/>
<rect x="272" y="266" width="12" height="4" fill="#f48460"/>
<rect x="284" y="266" width="8" height="4" fill="#f37a58"/>
<rect x="292" y="266" width="8" height="4" fill="#f36f4f"/>
<rect x="300" y="266" width="124" height="4" fill="#f26446"/>
<rect x="424" y="266" width="8" height="4" fill="#f36f4f"/>
<rect x="432" y="266" width="8" height="4" fill="#f37a58"/>
<rect x="440" y="266" width="4" height="4" fill="#f48460"/>
<rect x="444" y="266" width="8" height="4" fill="#f48f69"/>
<rect x="452" y="266" width="8" height="4" fill="#f59a72"/>
<rect x="460" y="266" width="4" height="4" fill="#f5a37a"/>
<rect x="464" y="266" width="4" height="4" fill="#f59a72"/>
<rect x="468" y="266" width="4" height="4" fill="#f48f69"/>
<rect x="472" y="266" width="4" height="4" fill="#f37a58"/>
<rect x="476" y="266" width="4" height="4" fill="#f36f4f"/>
<rect x="480" y="266" width="112" height="4" fill="#f26446"/>
<rect x="72" y="270" width="12" height="4" fill="#f48460"/>
<rect x="84" y="270" width="4" height="4" fill="#f48f69"/>
<rect x="88" y="270" width="4" height="4" fill="#f5a37a"/>
<rect x="92" y="270" width="4" height="4" fill="#f5ac81"/>
<rect x="96" y="270" width="4" height="4" fill="#f6bf90"/>
<rect x="100" y="270" width="4" height="4" fill="#f6c898"/>
<rect x="104" y="270" width="4" height="4" fill="#f6bf90"/>
<rect x="108" y="270" width="4" height="4" fill="#f6b689"/>
<rect x="112" y="270" width="4" height="4" fill="#f5ac81"/>
<rect x="116" y="270" width="4" height="4" fill="#f5a37a"/>
<rect x="120" y="270" width="64" height="4" fill="#f59a72"/>
<rect x="184" y="270" width="8" height="4" fill="#f48f69"/>
<rect x="192" y="270" width="8" height="4" fill="#f48460"/>
<rect x="200" y="270" width="52" height="4" fill="#f37a58"/>
<rect x="252" y="270" width="20" height="4" fill="#f48460"/>
<rect x="272" y="270" width="16" height="4" fill="#f37a58"/>
<rect x="288" y="270" width="8" height="4" fill="#f36f4f"/>
<rect x="296" y="270" width="132" height="4" fill="#f26446"/>
<rect x="428" y="270" width="8" height="4" fill="#f36f4f"/>
<rect x="436" y="270" width="12" height="4" fill="#f37a58"/>
<rect x="448" y="270" width="8" height="4" fill="#f48460"/>
<rect x="456" y="270" width="8" height="4" fill="#f48f69"/>
<rect x="464" y="270" width="4" height="4" fill="#f48460"/>
<rect x="468" y="270" width="8" height="4" fill="#f37a58"/>
<rect x="476" y="270" width="4" height="4" fill="#f36f4f"/>
<rect x="480" y="270" width="112" height="4" fill="#f26446"/>
<rect x="72" y="274" width="12" height="4" fill="#f48f69"/>
<rect x="84" y="274" width="4" height="4" fill="#f59a72"/>
<rect x="88" y="274" width="4" height="4" fill="#f5a37a"/>
<rect x="92" y="274" width="4" height="4" fill="#f6b689"/>
<rect x="96" y="274" width="4" height="4" fill="#f6bf90"/>
<rect x="100" y="274" width="4" height="4" fill="#f6c898"/>
<rect x="104" y="274" width="4" height="4" fill="#f6bf90"/>
<rect x="108" y="274" width="4" height="4" fill="#f6b689"/>
<rect x="112" y="274" width="4" height="4" fill="#f5ac81"/>
<rect x="116" y="274" width="4" height="4" fill="#f5a37a"/>
<rect x="120" y="274" width="64" height="4" fill="#f59a72"/>
<rect x="184" y="274" width="4" height="4" fill="#f48f69"/>
<rect x="188" y="274" width="8" height="4" fill="#f48460"/>
<rect x="196" y="274" width="4" height="4" fill="#f37a58"/>
<rect x="200" y="274" width="44" height="4" fill="#f36f4f"/>
<rect x="244" y="274" width="8" height="4" fill="#f37a58"/>
<rect x="252" y="274" width="8" height="4" fill="#f48460"/>
<rect x="260" y="274" width="4" height="4" fill="#f48f69"/>
<rect x="264" y="274" width="8" height="4" fill="#f48460"/>
<rect x="272" y="274" width="8" height="4" fill="#f37a58"/>
<rect x="280" y="274" width="12" height="4" fill="#f36f4f"/>
<rect x="292" y="274" width="140" height="4" fill="#f26446"/>
<rect x="432" y="274" width="20" height="4" fill="#f36f4f"/>
<rect x="452" y="274" width="16" height="4" fill="#f37a58"/>
<rect x="468" y="274" width="8" height="4" fill="#f36f4f"/>
<rect x="476" y="274" width="116" height="4" fill="#f26446"/>
<rect x="72" y="278" width="12" height="4" fill="#f59a72"/>
<rect x="84" y="278" width="4" height="4" fill="#f5a37a"/>
<rect x="88" y="278" width="4" height="4" fill="#f5ac81"/>
<rect x="92" y="278" width="4" height="4" fill="#f6b689"/>
<rect x="96" y="278" width="4" height="4" fill="#f6bf90"/>
<rect x="100" y="278" width="4" height="4" fill="#f6c898"/>
<rect x="104" y="278" width="4" height="4" fill="#f6bf90"/>
<rect x="108" y="278" width="4" height="4" fill="#f6b689"/>
<rect x="112" y="278" width="4" height="4" fill="#f5ac81"/>
<rect x="116" y="278" width="4" height="4" fill="#f5a37a"/>
<rect x="120" y="278" width="64" height="4" fill="#f59a72"/>
<rect x="184" y="278" width="4" height="4" fill="#f48f69"/>
<rect x="188" y="278" width="4" height="4" fill="#f48460"/>
<rect x="192" y="278" width="4" height="4" fill="#f37a58"/>
<rect x="196" y="278" width="4" height="4" fill="#f36f4f"/>
<rect x="200" y="278" width="44" height="4" fill="#f26446"/>
<rect x="244" y="278" width="4" height="4" fill="#f36f4f"/>
<rect x="248" y="278" width="4" height="4" fill="#f37a58"/>
<rect x="252" y="278" width="4" height="4" fill="#f48460"/>
<rect x="256" y="278" width="4" height="4" fill="#f48f69"/>
<rect x="260" y="278" width="4" height="4" fill="#f59a72"/>
<rect x="264" y="278" width="4" height="4" fill="#f48f69"/>
<rect x="268" y="278" width="4" height="4" fill="#f48460"/>
<rect x="272" y="278" width="4" height="4" fill="#f37a58"/>
<rect x="276" y="278" width="4" height="4" fill="#f36f4f"/>
<rect x="280" y="278" width="312" height="4" fill="#f26446"/>
<rect x="72" y="282" width="12" height="4" fill="#f48460"/>
<rect x="84" y="282" width="4" height="4" fill="#f48f69"/>
<rect x="88" y="282" width="8" height="4" fill="#f59a72"/>
<rect x="96" y="282" width="4" height="4" fill="#f5a37a"/>
<rect x="100" y="282" width="4" height="4" fill="#f5ac81"/>
<rect x="104" y="282" width="4" height="4" fill="#f5a37a"/>
<rect x="108" y="282" width="8" height="4" fill="#f59a72"/>
<rect x="116" y="282" width="4" height="4" fill="#f48f69"/>
<rect x="120" y="282" width="12" height="4" fill="#f48460"/>
<rect x="132" y="282" width="52" height="4" fill="#f48f69"/>
<rect x="184" y="282" width="4" height="4" fill="#f48460"/>
<rect x="188" y="282" width="8" height="4" fill="#f37a58"/>
<rect x="196" y="282" width="4" height="4" fill="#f36f4f"/>
<rect x="200" y="282" width="44" height="4" fill="#f26446"/>
<rect x="244" y="282" width="4" height="4" fill="#f36f4f"/>
<rect x="248" y="282" width="8" height="4" fill="#f37a58"/>
<rect x="256" y="282" width="4" height="4" fill="#f48460"/>
<rect x="260" y="282" width="4" height="4" fill="#f48f69"/>
<rect x="264" y="282" width="4" height="4" fill="#f48460"/>
<rect x="268" y="282" width="8" height="4" fill="#f37a58"/>
<rect x="276" y="282" width="4" height="4" fill="#f36f4f"/>
<rect x="280" y="282" width="312" height="4" fill="#f26446"/>
<rect x="72" y="286" width="12" height="4" fill="#f36f4f"/>
<rect x="84" y="286" width="8" height="4" fill="#f37a58"/>
<rect x="92" y="286" width="8" height="4" fill="#f48460"/>
<rect x="100" y="286" width="4" height="4" fill="#f48f69"/>
<rect x="104" y="286" width="8" height="4" fill="#f48460"/>
<rect x="112" y="286" width="8" height="4" fill="#f37a58"/>
<rect x="120" y="286" width="8" height="4" fill="#f36f4f"/>
<rect x="128" y="286" width="8" height="4" fill="#f37a58"/>
<rect x="136" y="286" width="48" height="4" fill="#f48460"/>
<rect x="184" y="286" width="8" height="4" fill="#f37a58"/>
<rect x="192" y="286" width="8" height="4" fill="#f36f4f"/>
<rect x="200" y="286" width="44" height="4" fill="#f26446"/>
<rect x="244" y="286" width="8" height="4" fill="#f36f4f"/>
<rect x="252" y="286" width="8" height="4" fill="#f37a58"/>
<rect x="260" y="286" width="4" height="4" fill="#f48460"/>
<rect x="264" y="286" width="8" height="4" fill="#f37a58"/>
<rect x="272" y="286" width="8" height="4" fill="#f36f4f"/>
<rect x="280" y="286" width="312" height="4" fill="#f26446"/>
<rect x="72" y="290" width="16" height="4" fill="#f05c40"/>
<rect x="88" y="290" width="8" height="4" fill="#f26446"/>
<rect x="96" y="290" width="12" height="4" fill="#f36f4f"/>
<rect x="108" y="290" width="8" height="4" fill="#f26446"/>
<rect x="116" y="290" width="8" height="4" fill="#f05c40"/>
<rect x="124" y="290" width="8" height="4" fill="#f26446"/>
<rect x="132" y="290" width="8" height="4" fill="#f36f4f"/>
<rect x="140" y="290" width="48" height="4" fill="#f37a58"/>
<rect x="188" y="290" width="8" height="4" fill="#f36f4f"/>
<rect x="196" y="290" width="52" height="4" fill="#f26446"/>
<rect x="248" y="290" width="8" height="4" fill="#f36f4f"/>
<rect x="256" y="290" width="12" height="4" fill="#f37a58"/>
<rect x="268" y="290" width="8" height="4" fill="#f36f4f"/>
<rect x="276" y="290" width="316" height="4" fill="#f26446"/>
<rect x="72" y="294" width="20" height="4" fill="#ec4b34"/>
<rect x="92" y="294" width="20" height="4" fill="#ee533a"/>
<rect x="112" y="294" width="12" height="4" fill="#ec4b34"/>
<rect x="124" y="294" width="4" height="4" fill="#ee533a"/>
<rect x="128" y="294" width="8" height="4" fill="#f05c40"/>
<rect x="136" y="294" width="4" height="4" fill="#f26446"/>
<rect x="140" y="294" width="52" height="4" fill="#f36f4f"/>
<rect x="192" y="294" width="60" height="4" fill="#f26446"/>
<rect x="252" y="294" width="20" height="4" fill="#f36f4f"/>
<rect x="272" y="294" width="320" height="4" fill="#f26446"/>
<rect x="72" y="298" width="52" height="4" fill="#e83a28"/>
<rect x="124" y="298" width="4" height="4" fill="#ea422e"/>
<rect x="128" y="298" width="4" height="4" fill="#ec4b34"/>
<rect x="132" y="298" width="4" height="4" fill="#ee533a"/>
<rect x="136" y="298" width="4" height="4" fill="#f05c40"/>
<rect x="140" y="298" width="452" height="4" fill="#f26446"/>
<rect x="72" y="302" width="52" height="4" fill="#e83a28"/>
<rect x="124" y="302" width="4" height="4" fill="#ea422e"/>
<rect x="128" y="302" width="4" height="4" fill="#ec4b34"/>
<rect x="132" y="302" width="4" height="4" fill="#ee533a"/>
<rect x="136" y="302" width="4" height="4" fill="#f05c40"/>
<rect x="140" y="302" width="452" height="4" fill="#f26446"/>
<rect x="72" y="306" width="52" height="2" fill="#e83a28"/>
<rect x="124" y="306" width="4" height="2" fill="#ea422e"/>
<rect x="128" y="306" width="4" height="2" fill="#ec4b34"/>
<rect x="132" y="306" width="4" height="2" fill="#ee533a"/>
<rect x="136" y="306" width="4" height="2" fill="#f05c40"/>
<rect x="140" y="306" width="452" height="2" fill="#f26446"/>
</g>
<defs><linearGradient id="tibg" x1="0" x2="0" y1="0" y2="1"><stop offset="0" stop-color="#1838e0"/><stop offset="0.55" stop-color="#2048d8"/><stop offset="1" stop-color="#3a6cc4"/></linearGradient><filter id="fb15" x="-10%" y="-10%" width="120%" height="120%"><feGaussianBlur stdDeviation="1.5"/></filter><linearGradient id="korg" x1="0" x2="0" y1="0" y2="1"><stop offset="0" stop-color="#4a80c6"/><stop offset="1" stop-color="#a2c4dc"/></linearGradient><filter id="fb3" x="-20%" y="-20%" width="140%" height="140%"><feGaussianBlur stdDeviation="3"/></filter><filter id="fb6" x="-30%" y="-30%" width="160%" height="160%"><feGaussianBlur stdDeviation="6"/></filter></defs>
<g filter="url(#fb6)" opacity="0.9">
<polygon fill="#eef0c4" points="106,72 120,70 134,86 148,106 152,124 142,132 126,128 114,108 106,90"/>
<ellipse cx="92" cy="158" rx="20" ry="14" fill="#e4ecc4"/>
<ellipse cx="172" cy="166" rx="26" ry="8" fill="#eef0c0"/>
</g>
<g filter="url(#fb15)" fill="none" stroke-linecap="round" stroke-linejoin="round">
<polyline stroke="#3f7cc2" stroke-width="4" opacity="0.85" points="74,92 86,95 100,100 112,106"/>
<polyline stroke="#6d9fcf" stroke-width="12" opacity="0.6" points="72,110 92,124 112,138 136,154 158,166"/>
<polyline stroke="#4a84c4" stroke-width="4" opacity="0.7" points="76,112 96,128 118,144 140,158"/>
<polyline stroke="#4a86c6" stroke-width="4" opacity="0.8" points="118,128 134,132 150,130 166,128 182,124 198,120 212,118"/>
<polyline stroke="#5a90c8" stroke-width="3" opacity="0.6" points="150,140 170,142 190,146"/>
<polyline stroke="#5a90cc" stroke-width="12" opacity="0.55" points="190,136 205,140 220,146 230,150"/>
<polyline stroke="#2454d0" stroke-width="5" opacity="0.7" points="236,100 258,95 285,91 305,89"/>
<polyline stroke="#2c64c8" stroke-width="4" opacity="0.8" points="210,112 225,106 245,100 265,96"/>
<polyline stroke="#2a5ccc" stroke-width="5" opacity="0.7" points="300,90 325,86 350,88 375,92 400,90"/>
<polyline stroke="#2454d0" stroke-width="3" opacity="0.7" points="250,86 270,82 290,84"/>
<polyline stroke="#3068c8" stroke-width="4" opacity="0.6" points="330,100 360,102 390,104 415,106"/>
</g>
<g filter="url(#fb3)"><ellipse cx="302" cy="118" rx="32" ry="8" fill="#86b2d8" opacity="0.9"/></g>
<clipPath id="tibclip"><polygon points="232,120 238.4,112 248,109.8 256,112 263.4,116.8 270.4,123.2 278.4,128 287,130.6 296,131.2 305.6,129.6 315.2,126.4 324.2,122.2 332.4,118.9 340,116 349.2,113.6 359,112.5 369.2,112.8 380,112.8 391.6,116 402,120 410.8,124.8 417.2,131.2 421.2,138.4 423,146.4 422,154.4 419.6,162.4 417.2,170 412.9,176.8 408,182.6 400.9,186.4 393.2,186 388.4,180.5 381.2,176.8 374,172.8 365.2,175.2 358,179.5 349.2,181.3 338,181.6 327.4,181.8 316.8,181.4 305.6,179.8 296,176.6 288.3,172.8 280,168 272,162.6 267.2,156 260.8,149.8 255,144 248,139.2 241,133.8 232,135 228,128.6"/></clipPath>
<g filter="url(#fb15)"><polygon fill="url(#tibg)" points="232,120 238.4,112 248,109.8 256,112 263.4,116.8 270.4,123.2 278.4,128 287,130.6 296,131.2 305.6,129.6 315.2,126.4 324.2,122.2 332.4,118.9 340,116 349.2,113.6 359,112.5 369.2,112.8 380,112.8 391.6,116 402,120 410.8,124.8 417.2,131.2 421.2,138.4 423,146.4 422,154.4 419.6,162.4 417.2,170 412.9,176.8 408,182.6 400.9,186.4 393.2,186 388.4,180.5 381.2,176.8 374,172.8 365.2,175.2 358,179.5 349.2,181.3 338,181.6 327.4,181.8 316.8,181.4 305.6,179.8 296,176.6 288.3,172.8 280,168 272,162.6 267.2,156 260.8,149.8 255,144 248,139.2 241,133.8 232,135 228,128.6"/></g>
<g clip-path="url(#tibclip)"><g filter="url(#fb6)"><ellipse cx="405" cy="165" rx="22" ry="20" fill="#4c80c4" opacity="0.7"/><ellipse cx="345" cy="178" rx="40" ry="6" fill="#3c6cc4" opacity="0.6"/></g></g>
</g>
<clipPath id="coastclip"><rect x="72" y="150" width="420" height="160"/></clipPath>
<g clip-path="url(#coastclip)"><polygon filter="url(#fb15)" fill="none" stroke="#f29272" stroke-opacity="0.9" stroke-width="5" stroke-linejoin="round" points="108,170.4 112,166.4 117.6,166.4 124,174.4 129.6,179.2 136.8,184 144,184.8 151.2,184 152.8,181.6 156.8,182.4 158.4,186.4 161.6,189.6 172,191.2 183,192 196,192 208.8,191.2 213.6,193.6 218.4,200 223.6,209 234.8,216 243,212 248.8,226 254.4,242.8 262.8,265 268.4,284.8 274,287.6 282.4,279 286.6,254 286.6,245.6 302,234.4 313,226 324.4,217.6 330,212.5 340.4,210.8 345.6,209 350.8,209 354.3,217.7 361.2,224.7 364.7,231.6 366.4,242 369,246.3 372.5,244.6 377.7,241.1 380.3,240.3 382.9,242 385.5,250.7 387.2,255.9 389.8,262.8 389.8,273.2 388,278.4 388.9,287 392.4,292.3 397.6,295.7 402.8,301 408,304.4 413.2,308.5 416.7,308.5 411.5,301 404.5,292.3 397.6,284.5 395,278.4 395.9,266.3 397.6,259.3 402.8,259.3 409.7,266.3 416.7,273.2 423.6,278.4 425.3,285.3 427.1,280.1 434,276.7 440.9,271.5 447.9,264.5 449.6,259.3 447.9,252.4 444.4,245.5 439.2,240.3 434,235.1 430.5,228.1 434,222.9 440.9,217.7 447.9,214.3 456.5,215 464.8,213 477.2,211 487.5,204.7 497.9,196.5 506.1,188.2 512.3,180 518.5,173.7 520.6,165.5 526.8,159.3 531,147 533,140 537,134 540.7,137.8 546,140.5 556,141 561.3,139.3 562.7,132 559.8,124.6 555.4,118.7 551.7,113.6 558.3,108.5 562.7,101.1 567.1,96.7 573,94.5 580.3,95.3 592.5,93.5 592.5,308.5 108.7,308.5 109.8,303.8 112.7,298 116.2,292.3 119.6,286.5 123,279.6 126.5,275.6 124.2,271.5 123,267.5 119.6,269.2 111.5,271.5 104.6,271.5 98.8,275 90.8,276.2 85,275 81.5,269.2 81,263.5 76.9,260 72,257.7 72,234.6 75.8,235.8 78.7,243.8 81,253 82.7,262.3 93,258.8 101.2,257.7 108,255.4 113.8,252 120.8,249.6 130,247.3 141,236 148,238.4 156,230.4 162.4,224 167.2,219.2 171.2,214.4 170.4,208 164,203.2 157.6,201.6 154.4,196.8 152.8,188.8 148,192.8 141.6,198.4 128.8,199.2 126.4,192 122.4,188.8 120.8,185.6 116,180.8 109.6,174.4"/></g>
<polygon fill="#fff" points="108,170.4 112,166.4 117.6,166.4 124,174.4 129.6,179.2 136.8,184 144,184.8 151.2,184 152.8,181.6 156.8,182.4 158.4,186.4 161.6,189.6 172,191.2 183,192 196,192 208.8,191.2 213.6,193.6 218.4,200 223.6,209 234.8,216 243,212 248.8,226 254.4,242.8 262.8,265 268.4,284.8 274,287.6 282.4,279 286.6,254 286.6,245.6 302,234.4 313,226 324.4,217.6 330,212.5 340.4,210.8 345.6,209 350.8,209 354.3,217.7 361.2,224.7 364.7,231.6 366.4,242 369,246.3 372.5,244.6 377.7,241.1 380.3,240.3 382.9,242 385.5,250.7 387.2,255.9 389.8,262.8 389.8,273.2 388,278.4 388.9,287 392.4,292.3 397.6,295.7 402.8,301 408,304.4 413.2,308.5 416.7,308.5 411.5,301 404.5,292.3 397.6,284.5 395,278.4 395.9,266.3 397.6,259.3 402.8,259.3 409.7,266.3 416.7,273.2 423.6,278.4 425.3,285.3 427.1,280.1 434,276.7 440.9,271.5 447.9,264.5 449.6,259.3 447.9,252.4 444.4,245.5 439.2,240.3 434,235.1 430.5,228.1 434,222.9 440.9,217.7 447.9,214.3 456.5,215 464.8,213 477.2,211 487.5,204.7 497.9,196.5 506.1,188.2 512.3,180 518.5,173.7 520.6,165.5 526.8,159.3 531,147 533,140 537,134 540.7,137.8 546,140.5 556,141 561.3,139.3 562.7,132 559.8,124.6 555.4,118.7 551.7,113.6 558.3,108.5 562.7,101.1 567.1,96.7 573,94.5 580.3,95.3 592.5,93.5 592.5,308.5 108.7,308.5 109.8,303.8 112.7,298 116.2,292.3 119.6,286.5 123,279.6 126.5,275.6 124.2,271.5 123,267.5 119.6,269.2 111.5,271.5 104.6,271.5 98.8,275 90.8,276.2 85,275 81.5,269.2 81,263.5 76.9,260 72,257.7 72,234.6 75.8,235.8 78.7,243.8 81,253 82.7,262.3 93,258.8 101.2,257.7 108,255.4 113.8,252 120.8,249.6 130,247.3 141,236 148,238.4 156,230.4 162.4,224 167.2,219.2 171.2,214.4 170.4,208 164,203.2 157.6,201.6 154.4,196.8 152.8,188.8 148,192.8 141.6,198.4 128.8,199.2 126.4,192 122.4,188.8 120.8,185.6 116,180.8 109.6,174.4"/>
<polygon fill="#fff" points="496,118.7 505.5,112.1 514.3,107.7 521,107 516.5,114.3 520.2,116.5 529,114.3 536.3,113.6 537,121.7 543.7,124.6 546.6,129 543.7,133.4 540.7,137.8 537,134 533,140 531,147 528,141 522,132 517.3,127.5 510,124.6 504,125.3"/>
<polygon fill="#f06848" points="286,285 290,283 294,287 295,293 292,297 288,296 286,291"/>
<polygon fill="#f5a078" points="446,224 452,222 455,226 452,230 447,230"/>
<polygon fill="#f4d4a0" points="512,199 516,196 518,200 516,206 513,206"/>
<polygon fill="#d2e2cc" points="562,147 570,143 580,138 592,134 592,144 582,146 574,149 574,158 566,160 562,153"/>
<polygon fill="#b4cfe0" points="567,148 573,147 573,155 568,156"/>
<polygon fill="url(#korg)" points="537,113 552,113 556,119 560,125 562,132 561,139 556,141 546,141 541,138 543,133 546,129 543,124 537,121"/>
<polygon fill="#f4826a" points="509,230 514,228 519,232 521,240 519,248 516,256 512,250 510,242"/>
<polygon fill="#f4826a" points="515,258 522,262 528,262 532,270 526,274 520,270 516,266"/>
<polygon fill="#f4826a" points="525,278 534,276 540,282 542,292 538,300 530,303 524,296 528,288"/>
<polygon fill="#f06848" points="480,308 486,298 492,292 498,300 503,308"/>
<polygon fill="#f04a38" points="135,263 140,263 140,265 135,265"/>
<polygon fill="#f04a38" points="356,263 358,263 358,272 356,272"/>
<polygon fill="#f04a38" points="455,258 456,258 456,265 455,265"/>
<polygon fill="#f05a40" points="372,303 380,302 384,308 371,308"/>
</g>
<rect x="72" y="10" width="520.5" height="298" fill="none" stroke="#000" stroke-width="1.6"/>
<rect x="212" y="20.5" width="240.5" height="57.5" fill="#dedada" stroke="#222" stroke-width="1.5" stroke-dasharray="4 3"/>
<rect x="221.7" y="58.4" width="221.2" height="12.6" fill="url(#cbar)"/>
<line x1="242.4" y1="52.5" x2="242.4" y2="58.4" stroke="#000" stroke-width="1.2"/>
<text x="242.4" y="49" font-size="13.5" text-anchor="middle">20</text>
<line x1="302.6" y1="52.5" x2="302.6" y2="58.4" stroke="#000" stroke-width="1.2"/>
<text x="302.6" y="49" font-size="13.5" text-anchor="middle">0</text>
<line x1="361.4" y1="52.5" x2="361.4" y2="58.4" stroke="#000" stroke-width="1.2"/>
<text x="361.4" y="49" font-size="13.5" text-anchor="middle">−20</text>
<line x1="421.6" y1="52.5" x2="421.6" y2="58.4" stroke="#000" stroke-width="1.2"/>
<text x="421.6" y="49" font-size="13.5" text-anchor="middle">−40</text>
<text x="332" y="35" font-size="13.5" text-anchor="middle">BIO6 (<tspan font-size="9" dy="-5">o</tspan><tspan dy="5">C)</tspan></text>
<circle cx="232" cy="120" r="2.9" fill="#22e844"/>
<circle cx="238.4" cy="112" r="2.9" fill="#22e844"/>
<circle cx="248" cy="109.8" r="2.9" fill="#22e844"/>
<circle cx="256" cy="112" r="2.9" fill="#22e844"/>
<circle cx="263.4" cy="116.8" r="2.9" fill="#22e844"/>
<circle cx="270.4" cy="123.2" r="2.9" fill="#22e844"/>
<circle cx="278.4" cy="128" r="2.9" fill="#22e844"/>
<circle cx="287" cy="130.6" r="2.9" fill="#22e844"/>
<circle cx="296" cy="131.2" r="2.9" fill="#22e844"/>
<circle cx="305.6" cy="129.6" r="2.9" fill="#22e844"/>
<circle cx="315.2" cy="126.4" r="2.9" fill="#22e844"/>
<circle cx="324.2" cy="122.2" r="2.9" fill="#22e844"/>
<circle cx="332.4" cy="118.9" r="2.9" fill="#22e844"/>
<circle cx="340" cy="116" r="2.9" fill="#22e844"/>
<circle cx="349.2" cy="113.6" r="2.9" fill="#22e844"/>
<circle cx="359" cy="112.5" r="2.9" fill="#22e844"/>
<circle cx="369.2" cy="112.8" r="2.9" fill="#22e844"/>
<circle cx="380" cy="112.8" r="2.9" fill="#22e844"/>
<circle cx="391.6" cy="116" r="2.9" fill="#22e844"/>
<circle cx="402" cy="120" r="2.9" fill="#22e844"/>
<circle cx="410.8" cy="124.8" r="2.9" fill="#22e844"/>
<circle cx="417.2" cy="131.2" r="2.9" fill="#22e844"/>
<circle cx="421.2" cy="138.4" r="2.9" fill="#22e844"/>
<circle cx="423" cy="146.4" r="2.9" fill="#22e844"/>
<circle cx="422" cy="154.4" r="2.9" fill="#22e844"/>
<circle cx="419.6" cy="162.4" r="2.9" fill="#22e844"/>
<circle cx="417.2" cy="170" r="2.9" fill="#22e844"/>
<circle cx="412.9" cy="176.8" r="2.9" fill="#22e844"/>
<circle cx="408" cy="182.6" r="2.9" fill="#22e844"/>
<circle cx="400.9" cy="186.4" r="2.9" fill="#22e844"/>
<circle cx="393.2" cy="186" r="2.9" fill="#22e844"/>
<circle cx="388.4" cy="180.5" r="2.9" fill="#22e844"/>
<circle cx="381.2" cy="176.8" r="2.9" fill="#22e844"/>
<circle cx="374" cy="172.8" r="2.9" fill="#22e844"/>
<circle cx="365.2" cy="175.2" r="2.9" fill="#22e844"/>
<circle cx="358" cy="179.5" r="2.9" fill="#22e844"/>
<circle cx="349.2" cy="181.3" r="2.9" fill="#22e844"/>
<circle cx="338" cy="181.6" r="2.9" fill="#22e844"/>
<circle cx="327.4" cy="181.8" r="2.9" fill="#22e844"/>
<circle cx="316.8" cy="181.4" r="2.9" fill="#22e844"/>
<circle cx="305.6" cy="179.8" r="2.9" fill="#22e844"/>
<circle cx="296" cy="176.6" r="2.9" fill="#22e844"/>
<circle cx="288.3" cy="172.8" r="2.9" fill="#22e844"/>
<circle cx="280" cy="168" r="2.9" fill="#22e844"/>
<circle cx="272" cy="162.6" r="2.9" fill="#22e844"/>
<circle cx="267.2" cy="156" r="2.9" fill="#22e844"/>
<circle cx="260.8" cy="149.8" r="2.9" fill="#22e844"/>
<circle cx="255" cy="144" r="2.9" fill="#22e844"/>
<circle cx="248" cy="139.2" r="2.9" fill="#22e844"/>
<circle cx="241" cy="133.8" r="2.9" fill="#22e844"/>
<circle cx="232" cy="135" r="2.9" fill="#22e844"/>
<circle cx="228" cy="128.6" r="2.9" fill="#22e844"/>
<text x="442.3" y="144" font-size="16" font-weight="bold" text-anchor="middle">2,863 alpine species in the</text>
<text x="442.3" y="160" font-size="16" font-weight="bold" text-anchor="middle">Qinghai-Tibetan Plateau</text>
<line x1="380.5" y1="110" x2="647.6" y2="90.3" stroke="#f00" stroke-width="2.4" stroke-dasharray="6 5.5"/>
<line x1="326.5" y1="182" x2="649.7" y2="229" stroke="#f00" stroke-width="2.4" stroke-dasharray="6 5.5"/>
<circle cx="671.6" cy="159.1" r="73" fill="#338a10" stroke="#000" stroke-width="1.5"/>
<path d="M671.6,159.1 L744.6,159.1 A73,73 0 0 1 729.281,203.842 Z" fill="#e8922c" stroke="#000" stroke-width="1.5"/>
<text x="626.3" y="132" font-size="15.5">89.5%</text>
<text x="626.3" y="151.7" font-size="15.5">Herbs</text>
<text x="694.5" y="174.5" font-size="15.5">10.5%</text>
<text x="691.3" y="189.5" font-size="15.5">Woody</text>
<line x1="64.5" y1="27" x2="72" y2="27" stroke="#000" stroke-width="1.5"/>
<text transform="translate(63.3,26.7) rotate(-90)" font-size="16" text-anchor="middle">55</text>
<line x1="64.5" y1="82.8" x2="72" y2="82.8" stroke="#000" stroke-width="1.5"/>
<text transform="translate(63.3,82.5) rotate(-90)" font-size="16" text-anchor="middle">45</text>
<line x1="64.5" y1="138.6" x2="72" y2="138.6" stroke="#000" stroke-width="1.5"/>
<text transform="translate(63.3,138.3) rotate(-90)" font-size="16" text-anchor="middle">35</text>
<line x1="64.5" y1="194.5" x2="72" y2="194.5" stroke="#000" stroke-width="1.5"/>
<text transform="translate(63.3,194.2) rotate(-90)" font-size="16" text-anchor="middle">25</text>
<line x1="64.5" y1="250.4" x2="72" y2="250.4" stroke="#000" stroke-width="1.5"/>
<text transform="translate(63.3,250.1) rotate(-90)" font-size="16" text-anchor="middle">15</text>
<line x1="64.5" y1="306.3" x2="72" y2="306.3" stroke="#000" stroke-width="1.5"/>
<text transform="translate(63.3,306) rotate(-90)" font-size="16" text-anchor="middle">5</text>
<line x1="91" y1="308" x2="91" y2="314.5" stroke="#000" stroke-width="1.5"/>
<text x="91" y="331" font-size="16" text-anchor="middle">45</text>
<line x1="174.67" y1="308" x2="174.67" y2="314.5" stroke="#000" stroke-width="1.5"/>
<text x="174.67" y="331" font-size="16" text-anchor="middle">60</text>
<line x1="258.34" y1="308" x2="258.34" y2="314.5" stroke="#000" stroke-width="1.5"/>
<text x="258.34" y="331" font-size="16" text-anchor="middle">75</text>
<line x1="342.01" y1="308" x2="342.01" y2="314.5" stroke="#000" stroke-width="1.5"/>
<text x="342.01" y="331" font-size="16" text-anchor="middle">90</text>
<line x1="425.68" y1="308" x2="425.68" y2="314.5" stroke="#000" stroke-width="1.5"/>
<text x="425.68" y="331" font-size="16" text-anchor="middle">105</text>
<line x1="509.35" y1="308" x2="509.35" y2="314.5" stroke="#000" stroke-width="1.5"/>
<text x="509.35" y="331" font-size="16" text-anchor="middle">120</text>
<line x1="593.02" y1="308" x2="593.02" y2="314.5" stroke="#000" stroke-width="1.5"/>
<text x="593.02" y="331" font-size="16" text-anchor="middle">135</text>
<text x="346" y="347" font-size="16" text-anchor="middle">Longitude</text>
<text transform="translate(41,161) rotate(-90)" font-size="16" text-anchor="middle">Latitude</text>
<text x="2.2" y="12.8" font-size="14.5" font-weight="bold">A</text>
<text x="2" y="374.8" font-size="14.2" font-weight="bold">B</text>
<text x="375" y="379.3" font-size="16" font-weight="bold" text-anchor="middle">Evolution relationship of alpine species families in the Qinghai-Tibetan Plateau</text>
<line x1="85.9" y1="399.2" x2="101" y2="399.2" stroke="#8cc21e" stroke-width="1.8"/>
<text x="103.9" y="403.8" font-size="13.6">Basal angiosperms</text>
<line x1="231" y1="399.2" x2="245.7" y2="399.2" stroke="#22d4f0" stroke-width="1.8"/>
<text x="247.6" y="403.8" font-size="13.6">Chloranthales</text>
<line x1="339.3" y1="399.2" x2="354" y2="399.2" stroke="#f040d8" stroke-width="1.8"/>
<text x="357" y="403.8" font-size="13.6">Magnoliidae</text>
<line x1="437.7" y1="399.2" x2="452" y2="399.2" stroke="#1f9a4c" stroke-width="1.8"/>
<text x="454.1" y="403.8" font-size="13.6">Monocots</text>
<line x1="521.6" y1="399.2" x2="536.3" y2="399.2" stroke="#1a1af0" stroke-width="1.8"/>
<text x="540.3" y="403.8" font-size="13.6">Ceratophyllales</text>
<line x1="640.7" y1="399.2" x2="655.4" y2="399.2" stroke="#f0a81e" stroke-width="1.8"/>
<text x="657.8" y="403.8" font-size="13.6">Eudicots</text>
<g fill="none" stroke-width="1.55">
<path stroke="#96c328" d="M36.8 427.6L39.2 427.6M36.8 427.6L36.8 468.7M39.2 427.6L39.2 468.7M44.1 429.9L46.6 429.9M44.1 429.9L44.1 468.7M46.6 429.9L46.6 468.7M41.7 426.6L45.4 426.6M41.7 426.6L41.7 468.7M45.4 426.6L45.4 429.9M38.0 418.0L43.5 418.0M38.0 418.0L38.0 427.6M43.5 418.0L43.5 426.6M40.8 413.6L40.8 418.0"/>
<path stroke="#2ad8f0" d="M48.3 413.6L48.3 468.7"/>
<path stroke="#f452dc" d="M52.8 436.8L55.0 436.8M52.8 436.8L52.8 468.7M55.0 436.8L55.0 468.7M53.9 434.0L57.2 434.0M53.9 434.0L53.9 436.8M57.2 434.0L57.2 468.7M50.6 423.5L55.6 423.5M50.6 423.5L50.6 468.7M55.6 423.5L55.6 434.0M66.0 435.9L68.2 435.9M66.0 435.9L66.0 468.7M68.2 435.9L68.2 468.7M63.8 432.1L67.1 432.1M63.8 432.1L63.8 468.7M67.1 432.1L67.1 435.9M70.4 436.1L72.6 436.1M70.4 436.1L70.4 468.7M72.6 436.1L72.6 468.7M71.5 432.1L74.8 432.1M71.5 432.1L71.5 436.1M74.8 432.1L74.8 468.7M65.5 429.9L73.2 429.9M65.5 429.9L65.5 432.1M73.2 429.9L73.2 432.1M61.6 427.2L69.3 427.2M61.6 427.2L61.6 468.7M69.3 427.2L69.3 429.9M65.5 424.5L77.0 424.5M65.5 424.5L65.5 427.2M77.0 424.5L77.0 468.7M59.4 421.4L71.2 421.4M59.4 421.4L59.4 468.7M71.2 421.4L71.2 424.5M65.3 418.3L79.2 418.3M65.3 418.3L65.3 421.4M79.2 418.3L79.2 468.7M53.1 417.0L72.3 417.0M53.1 417.0L53.1 423.5M72.3 417.0L72.3 418.3M62.7 413.6L62.7 417.0"/>
<path stroke="#2e9e52" d="M81.6 429.9L83.8 429.9M81.6 429.9L81.6 468.7M83.8 429.9L83.8 468.7M82.7 427.1L85.9 427.1M82.7 427.1L82.7 429.9M85.9 427.1L85.9 468.7M88.1 436.7L90.2 436.7M88.1 436.7L88.1 468.7M90.2 436.7L90.2 468.7M89.1 428.7L92.4 428.7M89.1 428.7L89.1 436.7M92.4 428.7L92.4 468.7M84.3 425.7L90.8 425.7M84.3 425.7L84.3 427.1M90.8 425.7L90.8 428.7M96.7 430.9L98.8 430.9M96.7 430.9L96.7 468.7M98.8 430.9L98.8 468.7M94.5 426.9L97.8 426.9M94.5 426.9L94.5 468.7M97.8 426.9L97.8 430.9M87.5 423.5L96.1 423.5M87.5 423.5L87.5 425.7M96.1 423.5L96.1 426.9M101.0 434.6L103.1 434.6M101.0 434.6L101.0 468.7M103.1 434.6L103.1 468.7M105.3 439.6L107.4 439.6M105.3 439.6L105.3 468.7M107.4 439.6L107.4 468.7M109.6 437.5L111.7 437.5M109.6 437.5L109.6 468.7M111.7 437.5L111.7 468.7M106.4 435.6L110.7 435.6M106.4 435.6L106.4 439.6M110.7 435.6L110.7 437.5M102.1 432.6L108.5 432.6M102.1 432.6L102.1 434.6M108.5 432.6L108.5 435.6M118.2 440.0L120.4 440.0M118.2 440.0L118.2 468.7M120.4 440.0L120.4 468.7M116.1 437.1L119.3 437.1M116.1 437.1L116.1 468.7M119.3 437.1L119.3 440.0M113.9 435.4L117.7 435.4M113.9 435.4L113.9 468.7M117.7 435.4L117.7 437.1M105.3 428.8L115.8 428.8M105.3 428.8L105.3 432.6M115.8 428.8L115.8 435.4M91.8 422.1L110.5 422.1M91.8 422.1L91.8 423.5M110.5 422.1L110.5 428.8M122.5 441.8L124.7 441.8M122.5 441.8L122.5 468.7M124.7 441.8L124.7 468.7M123.6 434.7L126.8 434.7M123.6 434.7L123.6 441.8M126.8 434.7L126.8 468.7M129.0 441.1L131.1 441.1M129.0 441.1L129.0 468.7M131.1 441.1L131.1 468.7M130.1 439.0L133.3 439.0M130.1 439.0L130.1 441.1M133.3 439.0L133.3 468.7M135.4 440.8L137.6 440.8M135.4 440.8L135.4 468.7M137.6 440.8L137.6 468.7M131.7 437.5L136.5 437.5M131.7 437.5L131.7 439.0M136.5 437.5L136.5 440.8M139.7 437.2L141.9 437.2M139.7 437.2L139.7 468.7M141.9 437.2L141.9 468.7M134.1 434.5L140.8 434.5M134.1 434.5L134.1 437.5M140.8 434.5L140.8 437.2M125.2 432.3L137.5 432.3M125.2 432.3L125.2 434.7M137.5 432.3L137.5 434.5M146.2 439.4L148.4 439.4M146.2 439.4L146.2 468.7M148.4 439.4L148.4 468.7M144.0 436.6L147.3 436.6M144.0 436.6L144.0 468.7M147.3 436.6L147.3 439.4M150.5 443.9L152.7 443.9M150.5 443.9L150.5 468.7M152.7 443.9L152.7 468.7M151.6 441.4L154.8 441.4M151.6 441.4L151.6 443.9M154.8 441.4L154.8 468.7M157.0 440.9L159.1 440.9M157.0 440.9L157.0 468.7M159.1 440.9L159.1 468.7M153.2 438.8L158.0 438.8M153.2 438.8L153.2 441.4M158.0 438.8L158.0 440.9M161.3 439.1L163.4 439.1M161.3 439.1L161.3 468.7M163.4 439.1L163.4 468.7M155.6 436.9L162.4 436.9M155.6 436.9L155.6 438.8M162.4 436.9L162.4 439.1M145.7 434.0L159.0 434.0M145.7 434.0L145.7 436.6M159.0 434.0L159.0 436.9M167.7 441.2L169.9 441.2M167.7 441.2L167.7 468.7M169.9 441.2L169.9 468.7M165.6 438.3L168.8 438.3M165.6 438.3L165.6 468.7M168.8 438.3L168.8 441.2M152.3 432.0L167.2 432.0M152.3 432.0L152.3 434.0M167.2 432.0L167.2 438.3M131.3 429.7L159.8 429.7M131.3 429.7L131.3 432.3M159.8 429.7L159.8 432.0M174.2 442.3L176.3 442.3M174.2 442.3L174.2 468.7M176.3 442.3L176.3 468.7M175.3 440.0L178.5 440.0M175.3 440.0L175.3 442.3M178.5 440.0L178.5 468.7M172.0 437.9L176.9 437.9M172.0 437.9L172.0 468.7M176.9 437.9L176.9 440.0M180.7 436.3L182.8 436.3M180.7 436.3L180.7 468.7M182.8 436.3L182.8 468.7M174.5 434.6L181.7 434.6M174.5 434.6L174.5 437.9M181.7 434.6L181.7 436.3M185.0 439.2L187.1 439.2M185.0 439.2L185.0 468.7M187.1 439.2L187.1 468.7M186.0 436.9L189.3 436.9M186.0 436.9L186.0 439.2M189.3 436.9L189.3 468.7M178.1 429.2L187.7 429.2M178.1 429.2L178.1 434.6M187.7 429.2L187.7 436.9M145.5 426.6L182.9 426.6M145.5 426.6L145.5 429.7M182.9 426.6L182.9 429.2M193.6 439.6L195.7 439.6M193.6 439.6L193.6 468.7M195.7 439.6L195.7 468.7M191.4 437.8L194.7 437.8M191.4 437.8L191.4 468.7M194.7 437.8L194.7 439.6M197.9 441.3L200.0 441.3M197.9 441.3L197.9 468.7M200.0 441.3L200.0 468.7M193.0 434.6L199.0 434.6M193.0 434.6L193.0 437.8M199.0 434.6L199.0 441.3M202.2 434.6L204.3 434.6M202.2 434.6L202.2 468.7M204.3 434.6L204.3 468.7M203.3 431.1L206.5 431.1M203.3 431.1L203.3 434.6M206.5 431.1L206.5 468.7M208.6 433.4L210.8 433.4M208.6 433.4L208.6 468.7M210.8 433.4L210.8 468.7M204.9 429.7L209.7 429.7M204.9 429.7L204.9 431.1M209.7 429.7L209.7 433.4M196.0 426.4L207.3 426.4M196.0 426.4L196.0 434.6M207.3 426.4L207.3 429.7M164.2 423.4L201.6 423.4M164.2 423.4L164.2 426.6M201.6 423.4L201.6 426.4M101.2 415.0L182.9 415.0M101.2 415.0L101.2 422.1M182.9 415.0L182.9 423.4M142.1 413.6L142.1 415.0"/>
<path stroke="#4646f0" d="M212.4 413.6L212.4 468.7"/>
<path stroke="#f2a51c" d="M214.4 441.3L216.6 441.3M214.4 441.3L214.4 468.7M216.6 441.3L216.6 468.7M218.7 430.9L220.9 430.9M218.7 430.9L218.7 468.7M220.9 430.9L220.9 468.7M223.0 441.5L225.2 441.5M223.0 441.5L223.0 468.7M225.2 441.5L225.2 468.7M219.8 424.3L224.1 424.3M219.8 424.3L219.8 430.9M224.1 424.3L224.1 441.5M229.5 446.1L231.7 446.1M229.5 446.1L229.5 468.7M231.7 446.1L231.7 468.7M233.8 446.2L236.0 446.2M233.8 446.2L233.8 468.7M236.0 446.2L236.0 468.7M230.6 443.5L234.9 443.5M230.6 443.5L230.6 446.1M234.9 443.5L234.9 446.2M227.3 439.7L232.7 439.7M227.3 439.7L227.3 468.7M232.7 439.7L232.7 443.5M230.0 438.4L238.1 438.4M230.0 438.4L230.0 439.7M238.1 438.4L238.1 468.7M240.3 438.2L242.5 438.2M240.3 438.2L240.3 468.7M242.5 438.2L242.5 468.7M234.1 435.0L241.4 435.0M234.1 435.0L234.1 438.4M241.4 435.0L241.4 438.2M244.6 429.9L246.8 429.9M244.6 429.9L244.6 468.7M246.8 429.9L246.8 468.7M245.7 425.2L248.9 425.2M245.7 425.2L245.7 429.9M248.9 425.2L248.9 468.7M251.1 441.4L253.2 441.4M251.1 441.4L251.1 468.7M253.2 441.4L253.2 468.7M255.4 438.4L257.6 438.4M255.4 438.4L255.4 468.7M257.6 438.4L257.6 468.7M252.2 436.6L256.5 436.6M252.2 436.6L252.2 441.4M256.5 436.6L256.5 438.4M254.3 435.0L259.7 435.0M254.3 435.0L254.3 436.6M259.7 435.0L259.7 468.7M264.0 443.4L266.2 443.4M264.0 443.4L264.0 468.7M266.2 443.4L266.2 468.7M268.3 441.3L270.5 441.3M268.3 441.3L268.3 468.7M270.5 441.3L270.5 468.7M265.1 439.5L269.4 439.5M265.1 439.5L265.1 443.4M269.4 439.5L269.4 441.3M261.9 437.1L267.3 437.1M261.9 437.1L261.9 468.7M267.3 437.1L267.3 439.5M272.7 442.0L274.8 442.0M272.7 442.0L272.7 468.7M274.8 442.0L274.8 468.7M277.0 441.6L279.1 441.6M277.0 441.6L277.0 468.7M279.1 441.6L279.1 468.7M273.7 439.9L278.1 439.9M273.7 439.9L273.7 442.0M278.1 439.9L278.1 441.6M281.3 439.3L283.5 439.3M281.3 439.3L281.3 468.7M283.5 439.3L283.5 468.7M275.9 438.0L282.4 438.0M275.9 438.0L275.9 439.9M282.4 438.0L282.4 439.3M279.1 436.4L285.6 436.4M279.1 436.4L279.1 438.0M285.6 436.4L285.6 468.7M264.6 435.0L282.4 435.0M264.6 435.0L264.6 437.1M282.4 435.0L282.4 436.4M287.8 442.2L289.9 442.2M287.8 442.2L287.8 468.7M289.9 442.2L289.9 468.7M292.1 441.0L294.2 441.0M292.1 441.0L292.1 468.7M294.2 441.0L294.2 468.7M288.8 439.4L293.2 439.4M288.8 439.4L288.8 442.2M293.2 439.4L293.2 441.0M291.0 437.9L296.4 437.9M291.0 437.9L291.0 439.4M296.4 437.9L296.4 468.7M273.5 432.6L293.7 432.6M273.5 432.6L273.5 435.0M293.7 432.6L293.7 437.9M257.0 430.0L283.6 430.0M257.0 430.0L257.0 435.0M283.6 430.0L283.6 432.6M302.9 445.9L305.0 445.9M302.9 445.9L302.9 468.7M305.0 445.9L305.0 468.7M307.2 445.8L309.3 445.8M307.2 445.8L307.2 468.7M309.3 445.8L309.3 468.7M304.0 443.5L308.3 443.5M304.0 443.5L304.0 445.9M308.3 443.5L308.3 445.8M315.8 449.7L318.0 449.7M315.8 449.7L315.8 468.7M318.0 449.7L318.0 468.7M313.7 447.0L316.9 447.0M313.7 447.0L313.7 468.7M316.9 447.0L316.9 449.7M311.5 445.1L315.3 445.1M311.5 445.1L311.5 468.7M315.3 445.1L315.3 447.0M306.1 442.2L313.4 442.2M306.1 442.2L306.1 443.5M313.4 442.2L313.4 445.1M300.7 439.0L309.8 439.0M300.7 439.0L300.7 468.7M309.8 439.0L309.8 442.2M322.3 441.5L324.5 441.5M322.3 441.5L322.3 468.7M324.5 441.5L324.5 468.7M320.1 439.0L323.4 439.0M320.1 439.0L320.1 468.7M323.4 439.0L323.4 441.5M305.2 436.9L321.8 436.9M305.2 436.9L305.2 439.0M321.8 436.9L321.8 439.0M328.8 444.5L330.9 444.5M328.8 444.5L328.8 468.7M330.9 444.5L330.9 468.7M329.8 440.8L333.1 440.8M329.8 440.8L329.8 444.5M333.1 440.8L333.1 468.7M335.2 445.6L337.4 445.6M335.2 445.6L335.2 468.7M337.4 445.6L337.4 468.7M341.7 448.5L343.9 448.5M341.7 448.5L341.7 468.7M343.9 448.5L343.9 468.7M339.6 445.9L342.8 445.9M339.6 445.9L339.6 468.7M342.8 445.9L342.8 448.5M336.3 442.7L341.2 442.7M336.3 442.7L336.3 445.6M341.2 442.7L341.2 445.9M331.5 439.4L338.7 439.4M331.5 439.4L331.5 440.8M338.7 439.4L338.7 442.7M326.6 436.5L335.1 436.5M326.6 436.5L326.6 468.7M335.1 436.5L335.1 439.4M313.5 433.9L330.9 433.9M313.5 433.9L313.5 436.9M330.9 433.9L330.9 436.5M322.2 432.0L346.0 432.0M322.2 432.0L322.2 433.9M346.0 432.0L346.0 468.7M334.1 428.5L348.2 428.5M334.1 428.5L334.1 432.0M348.2 428.5L348.2 468.7M350.3 438.2L352.5 438.2M350.3 438.2L350.3 468.7M352.5 438.2L352.5 468.7M356.8 442.6L359.0 442.6M356.8 442.6L356.8 468.7M359.0 442.6L359.0 468.7M354.7 440.3L357.9 440.3M354.7 440.3L354.7 468.7M357.9 440.3L357.9 442.6M361.1 440.7L363.3 440.7M361.1 440.7L361.1 468.7M363.3 440.7L363.3 468.7M356.3 438.9L362.2 438.9M356.3 438.9L356.3 440.3M362.2 438.9L362.2 440.7M351.4 435.6L359.2 435.6M351.4 435.6L351.4 438.2M359.2 435.6L359.2 438.9M355.3 433.1L365.4 433.1M355.3 433.1L355.3 435.6M365.4 433.1L365.4 468.7M367.6 434.3L369.8 434.3M367.6 434.3L367.6 468.7M369.8 434.3L369.8 468.7M360.4 431.7L368.7 431.7M360.4 431.7L360.4 433.1M368.7 431.7L368.7 434.3M371.9 435.7L374.1 435.7M371.9 435.7L371.9 468.7M374.1 435.7L374.1 468.7M376.2 441.3L378.4 441.3M376.2 441.3L376.2 468.7M378.4 441.3L378.4 468.7M382.7 443.5L384.9 443.5M382.7 443.5L382.7 468.7M384.9 443.5L384.9 468.7M380.6 440.0L383.8 440.0M380.6 440.0L380.6 468.7M383.8 440.0L383.8 443.5M377.3 437.9L382.2 437.9M377.3 437.9L377.3 441.3M382.2 437.9L382.2 440.0M387.0 443.9L389.2 443.9M387.0 443.9L387.0 468.7M389.2 443.9L389.2 468.7M393.5 446.0L395.7 446.0M393.5 446.0L393.5 468.7M395.7 446.0L395.7 468.7M391.3 443.9L394.6 443.9M391.3 443.9L391.3 468.7M394.6 443.9L394.6 446.0M388.1 441.6L393.0 441.6M388.1 441.6L388.1 443.9M393.0 441.6L393.0 443.9M397.8 444.4L400.0 444.4M397.8 444.4L397.8 468.7M400.0 444.4L400.0 468.7M402.1 448.7L404.3 448.7M402.1 448.7L402.1 468.7M404.3 448.7L404.3 468.7M403.2 446.3L406.4 446.3M403.2 446.3L403.2 448.7M406.4 446.3L406.4 468.7M410.8 450.8L412.9 450.8M410.8 450.8L410.8 468.7M412.9 450.8L412.9 468.7M411.8 447.4L415.1 447.4M411.8 447.4L411.8 450.8M415.1 447.4L415.1 468.7M408.6 445.5L413.5 445.5M408.6 445.5L408.6 468.7M413.5 445.5L413.5 447.4M404.8 444.0L411.0 444.0M404.8 444.0L404.8 446.3M411.0 444.0L411.0 445.5M398.9 440.8L407.9 440.8M398.9 440.8L398.9 444.4M407.9 440.8L407.9 444.0M390.5 438.8L403.4 438.8M390.5 438.8L390.5 441.6M403.4 438.8L403.4 440.8M397.0 437.3L417.2 437.3M397.0 437.3L397.0 438.8M417.2 437.3L417.2 468.7M379.7 435.3L407.1 435.3M379.7 435.3L379.7 437.9M407.1 435.3L407.1 437.3M373.0 432.8L393.4 432.8M373.0 432.8L373.0 435.7M393.4 432.8L393.4 435.3M419.4 439.4L421.6 439.4M419.4 439.4L419.4 468.7M421.6 439.4L421.6 468.7M425.9 444.4L428.0 444.4M425.9 444.4L425.9 468.7M428.0 444.4L428.0 468.7M423.7 441.4L426.9 441.4M423.7 441.4L423.7 468.7M426.9 441.4L426.9 444.4M430.2 441.5L432.3 441.5M430.2 441.5L430.2 468.7M432.3 441.5L432.3 468.7M425.3 439.0L431.3 439.0M425.3 439.0L425.3 441.4M431.3 439.0L431.3 441.5M420.5 436.4L428.3 436.4M420.5 436.4L420.5 439.4M428.3 436.4L428.3 439.0M434.5 443.8L436.7 443.8M434.5 443.8L434.5 468.7M436.7 443.8L436.7 468.7M441.0 448.2L443.1 448.2M441.0 448.2L441.0 468.7M443.1 448.2L443.1 468.7M438.8 445.6L442.1 445.6M438.8 445.6L438.8 468.7M442.1 445.6L442.1 448.2M435.6 441.9L440.4 441.9M435.6 441.9L435.6 443.8M440.4 441.9L440.4 445.6M445.3 443.2L447.4 443.2M445.3 443.2L445.3 468.7M447.4 443.2L447.4 468.7M446.4 440.5L449.6 440.5M446.4 440.5L446.4 443.2M449.6 440.5L449.6 468.7M438.0 439.2L448.0 439.2M438.0 439.2L438.0 441.9M448.0 439.2L448.0 440.5M443.0 436.7L451.8 436.7M443.0 436.7L443.0 439.2M451.8 436.7L451.8 468.7M424.4 433.7L447.4 433.7M424.4 433.7L424.4 436.4M447.4 433.7L447.4 436.7M383.2 431.4L435.9 431.4M383.2 431.4L383.2 432.8M435.9 431.4L435.9 433.7M364.5 428.3L409.5 428.3M364.5 428.3L364.5 431.7M409.5 428.3L409.5 431.4M341.1 425.5L387.0 425.5M341.1 425.5L341.1 428.5M387.0 425.5L387.0 428.3M298.6 422.5L364.1 422.5M298.6 422.5L298.6 468.7M364.1 422.5L364.1 425.5M453.9 442.0L456.1 442.0M453.9 442.0L453.9 468.7M456.1 442.0L456.1 468.7M455.0 437.5L458.2 437.5M455.0 437.5L455.0 442.0M458.2 437.5L458.2 468.7M462.6 438.9L464.7 438.9M462.6 438.9L462.6 468.7M464.7 438.9L464.7 468.7M460.4 437.7L463.6 437.7M460.4 437.7L460.4 468.7M463.6 437.7L463.6 438.9M456.6 434.1L462.0 434.1M456.6 434.1L456.6 437.5M462.0 434.1L462.0 437.7M466.9 441.9L469.0 441.9M466.9 441.9L466.9 468.7M469.0 441.9L469.0 468.7M467.9 439.8L471.2 439.8M467.9 439.8L467.9 441.9M471.2 439.8L471.2 468.7M473.3 442.1L475.5 442.1M473.3 442.1L473.3 468.7M475.5 442.1L475.5 468.7M479.8 448.3L482.0 448.3M479.8 448.3L479.8 468.7M482.0 448.3L482.0 468.7M484.1 448.9L486.3 448.9M484.1 448.9L484.1 468.7M486.3 448.9L486.3 468.7M485.2 446.3L488.4 446.3M485.2 446.3L485.2 448.9M488.4 446.3L488.4 468.7M480.9 445.1L486.8 445.1M480.9 445.1L480.9 448.3M486.8 445.1L486.8 446.3M477.7 442.7L483.9 442.7M477.7 442.7L477.7 468.7M483.9 442.7L483.9 445.1M474.4 439.0L480.8 439.0M474.4 439.0L474.4 442.1M480.8 439.0L480.8 442.7M469.6 436.4L477.6 436.4M469.6 436.4L469.6 439.8M477.6 436.4L477.6 439.0M490.6 437.6L492.8 437.6M490.6 437.6L490.6 468.7M492.8 437.6L492.8 468.7M494.9 442.9L497.1 442.9M494.9 442.9L494.9 468.7M497.1 442.9L497.1 468.7M496.0 439.8L499.2 439.8M496.0 439.8L496.0 442.9M499.2 439.8L499.2 468.7M491.7 436.1L497.6 436.1M491.7 436.1L491.7 437.6M497.6 436.1L497.6 439.8M473.6 434.3L494.7 434.3M473.6 434.3L473.6 436.4M494.7 434.3L494.7 436.1M501.4 444.3L503.6 444.3M501.4 444.3L501.4 468.7M503.6 444.3L503.6 468.7M502.5 441.0L505.7 441.0M502.5 441.0L502.5 444.3M505.7 441.0L505.7 468.7M504.1 433.0L507.9 433.0M504.1 433.0L504.1 441.0M507.9 433.0L507.9 468.7M484.1 431.6L506.0 431.6M484.1 431.6L484.1 434.3M506.0 431.6L506.0 433.0M459.3 430.3L495.0 430.3M459.3 430.3L459.3 434.1M495.0 430.3L495.0 431.6M514.3 449.2L516.5 449.2M514.3 449.2L514.3 468.7M516.5 449.2L516.5 468.7M512.2 445.7L515.4 445.7M512.2 445.7L512.2 468.7M515.4 445.7L515.4 449.2M513.8 443.5L518.7 443.5M513.8 443.5L513.8 445.7M518.7 443.5L518.7 468.7M520.8 443.1L523.0 443.1M520.8 443.1L520.8 468.7M523.0 443.1L523.0 468.7M516.2 440.3L521.9 440.3M516.2 440.3L516.2 443.5M521.9 440.3L521.9 443.1M519.1 436.9L525.1 436.9M519.1 436.9L519.1 440.3M525.1 436.9L525.1 468.7M510.0 433.1L522.1 433.1M510.0 433.1L510.0 468.7M522.1 433.1L522.1 436.9M529.4 444.6L531.6 444.6M529.4 444.6L529.4 468.7M531.6 444.6L531.6 468.7M527.3 440.8L530.5 440.8M527.3 440.8L527.3 468.7M530.5 440.8L530.5 444.6M516.1 430.6L528.9 430.6M516.1 430.6L516.1 433.1M528.9 430.6L528.9 440.8M533.8 439.3L535.9 439.3M533.8 439.3L533.8 468.7M535.9 439.3L535.9 468.7M522.5 428.5L534.8 428.5M522.5 428.5L522.5 430.6M534.8 428.5L534.8 439.3M477.2 426.4L528.7 426.4M477.2 426.4L477.2 430.3M528.7 426.4L528.7 428.5M542.4 443.1L544.6 443.1M542.4 443.1L542.4 468.7M544.6 443.1L544.6 468.7M540.2 439.9L543.5 439.9M540.2 439.9L540.2 468.7M543.5 439.9L543.5 443.1M541.9 436.4L546.7 436.4M541.9 436.4L541.9 439.9M546.7 436.4L546.7 468.7M538.1 433.9L544.3 433.9M538.1 433.9L538.1 468.7M544.3 433.9L544.3 436.4M548.9 435.4L551.0 435.4M548.9 435.4L548.9 468.7M551.0 435.4L551.0 468.7M541.2 432.5L549.9 432.5M541.2 432.5L541.2 433.9M549.9 432.5L549.9 435.4M553.2 443.4L555.3 443.4M553.2 443.4L553.2 468.7M555.3 443.4L555.3 468.7M554.3 441.9L557.5 441.9M554.3 441.9L554.3 443.4M557.5 441.9L557.5 468.7M559.7 443.8L561.8 443.8M559.7 443.8L559.7 468.7M561.8 443.8L561.8 468.7M560.7 442.0L564.0 442.0M560.7 442.0L560.7 443.8M564.0 442.0L564.0 468.7M555.9 439.5L562.4 439.5M555.9 439.5L555.9 441.9M562.4 439.5L562.4 442.0M559.1 436.5L566.1 436.5M559.1 436.5L559.1 439.5M566.1 436.5L566.1 468.7M568.3 439.2L570.4 439.2M568.3 439.2L568.3 468.7M570.4 439.2L570.4 468.7M572.6 439.6L574.8 439.6M572.6 439.6L572.6 468.7M574.8 439.6L574.8 468.7M569.4 432.4L573.7 432.4M569.4 432.4L569.4 439.2M573.7 432.4L573.7 439.6M562.6 429.1L571.5 429.1M562.6 429.1L562.6 436.5M571.5 429.1L571.5 432.4M545.6 426.8L567.1 426.8M545.6 426.8L545.6 432.5M567.1 426.8L567.1 429.1M502.9 424.9L556.3 424.9M502.9 424.9L502.9 426.4M556.3 424.9L556.3 426.8M576.9 440.7L579.1 440.7M576.9 440.7L576.9 468.7M579.1 440.7L579.1 468.7M587.7 448.5L589.9 448.5M587.7 448.5L587.7 468.7M589.9 448.5L589.9 468.7M588.8 447.2L592.0 447.2M588.8 447.2L588.8 448.5M592.0 447.2L592.0 468.7M594.2 447.2L596.3 447.2M594.2 447.2L594.2 468.7M596.3 447.2L596.3 468.7M590.4 444.8L595.3 444.8M590.4 444.8L590.4 447.2M595.3 444.8L595.3 447.2M585.6 441.6L592.8 441.6M585.6 441.6L585.6 468.7M592.8 441.6L592.8 444.8M598.5 444.3L600.7 444.3M598.5 444.3L598.5 468.7M600.7 444.3L600.7 468.7M599.6 442.9L602.8 442.9M599.6 442.9L599.6 444.3M602.8 442.9L602.8 468.7M605.0 443.3L607.1 443.3M605.0 443.3L605.0 468.7M607.1 443.3L607.1 468.7M601.2 441.0L606.0 441.0M601.2 441.0L601.2 442.9M606.0 441.0L606.0 443.3M589.2 439.3L603.6 439.3M589.2 439.3L589.2 441.6M603.6 439.3L603.6 441.0M609.3 441.3L611.4 441.3M609.3 441.3L609.3 468.7M611.4 441.3L611.4 468.7M596.4 437.8L610.4 437.8M596.4 437.8L596.4 439.3M610.4 437.8L610.4 441.3M613.6 446.1L615.8 446.1M613.6 446.1L613.6 468.7M615.8 446.1L615.8 468.7M617.9 449.4L620.1 449.4M617.9 449.4L617.9 468.7M620.1 449.4L620.1 468.7M624.4 457.1L626.5 457.1M624.4 457.1L624.4 468.7M626.5 457.1L626.5 468.7M625.5 454.2L628.7 454.2M625.5 454.2L625.5 457.1M628.7 454.2L628.7 468.7M622.2 451.0L627.1 451.0M622.2 451.0L622.2 468.7M627.1 451.0L627.1 454.2M619.0 448.1L624.7 448.1M619.0 448.1L619.0 449.4M624.7 448.1L624.7 451.0M614.7 444.7L621.8 444.7M614.7 444.7L614.7 446.1M621.8 444.7L621.8 448.1M630.9 445.6L633.0 445.6M630.9 445.6L630.9 468.7M633.0 445.6L633.0 468.7M618.3 443.0L631.9 443.0M618.3 443.0L618.3 444.7M631.9 443.0L631.9 445.6M635.2 443.1L637.3 443.1M635.2 443.1L635.2 468.7M637.3 443.1L637.3 468.7M625.1 440.7L636.3 440.7M625.1 440.7L625.1 443.0M636.3 440.7L636.3 443.1M630.7 439.1L639.5 439.1M630.7 439.1L630.7 440.7M639.5 439.1L639.5 468.7M641.7 446.1L643.8 446.1M641.7 446.1L641.7 468.7M643.8 446.1L643.8 468.7M642.7 444.1L646.0 444.1M642.7 444.1L642.7 446.1M646.0 444.1L646.0 468.7M648.1 449.5L650.3 449.5M648.1 449.5L648.1 468.7M650.3 449.5L650.3 468.7M654.6 450.3L656.8 450.3M654.6 450.3L654.6 468.7M656.8 450.3L656.8 468.7M652.4 447.9L655.7 447.9M652.4 447.9L652.4 468.7M655.7 447.9L655.7 450.3M649.2 446.2L654.1 446.2M649.2 446.2L649.2 449.5M654.1 446.2L654.1 447.9M661.1 456.3L663.2 456.3M661.1 456.3L661.1 468.7M663.2 456.3L663.2 468.7M662.2 454.7L665.4 454.7M662.2 454.7L662.2 456.3M665.4 454.7L665.4 468.7M663.8 453.3L667.5 453.3M663.8 453.3L663.8 454.7M667.5 453.3L667.5 468.7M658.9 449.6L665.7 449.6M658.9 449.6L658.9 468.7M665.7 449.6L665.7 453.3M662.3 447.5L669.7 447.5M662.3 447.5L662.3 449.6M669.7 447.5L669.7 468.7M651.6 444.9L666.0 444.9M651.6 444.9L651.6 446.2M666.0 444.9L666.0 447.5M644.4 442.5L658.8 442.5M644.4 442.5L644.4 444.1M658.8 442.5L658.8 444.9M651.6 439.7L671.9 439.7M651.6 439.7L651.6 442.5M671.9 439.7L671.9 468.7M635.1 437.5L661.7 437.5M635.1 437.5L635.1 439.1M661.7 437.5L661.7 439.7M603.4 435.2L648.4 435.2M603.4 435.2L603.4 437.8M648.4 435.2L648.4 437.5M583.4 432.3L625.9 432.3M583.4 432.3L583.4 468.7M625.9 432.3L625.9 435.2M581.2 428.6L604.6 428.6M581.2 428.6L581.2 468.7M604.6 428.6L604.6 432.3M676.2 440.8L678.3 440.8M676.2 440.8L676.2 468.7M678.3 440.8L678.3 468.7M674.0 438.3L677.3 438.3M674.0 438.3L674.0 468.7M677.3 438.3L677.3 440.8M682.7 443.6L684.8 443.6M682.7 443.6L682.7 468.7M684.8 443.6L684.8 468.7M683.7 440.0L687.0 440.0M683.7 440.0L683.7 443.6M687.0 440.0L687.0 468.7M680.5 438.5L685.4 438.5M680.5 438.5L680.5 468.7M685.4 438.5L685.4 440.0M675.6 435.4L682.9 435.4M675.6 435.4L675.6 438.3M682.9 435.4L682.9 438.5M691.3 440.4L693.4 440.4M691.3 440.4L691.3 468.7M693.4 440.4L693.4 468.7M689.1 437.1L692.4 437.1M689.1 437.1L689.1 468.7M692.4 437.1L692.4 440.4M679.3 433.5L690.7 433.5M679.3 433.5L679.3 435.4M690.7 433.5L690.7 437.1M697.8 437.2L699.9 437.2M697.8 437.2L697.8 468.7M699.9 437.2L699.9 468.7M702.1 443.8L704.2 443.8M702.1 443.8L702.1 468.7M704.2 443.8L704.2 468.7M706.4 442.6L708.5 442.6M706.4 442.6L706.4 468.7M708.5 442.6L708.5 468.7M707.5 441.1L710.7 441.1M707.5 441.1L707.5 442.6M710.7 441.1L710.7 468.7M703.2 438.1L709.1 438.1M703.2 438.1L703.2 443.8M709.1 438.1L709.1 441.1M698.8 435.3L706.1 435.3M698.8 435.3L698.8 437.2M706.1 435.3L706.1 438.1M695.6 433.6L702.5 433.6M695.6 433.6L695.6 468.7M702.5 433.6L702.5 435.3M685.0 431.4L699.0 431.4M685.0 431.4L685.0 433.5M699.0 431.4L699.0 433.6M715.0 440.8L717.2 440.8M715.0 440.8L715.0 468.7M717.2 440.8L717.2 468.7M716.1 439.4L719.3 439.4M716.1 439.4L716.1 440.8M719.3 439.4L719.3 468.7M717.7 438.1L721.5 438.1M717.7 438.1L717.7 439.4M721.5 438.1L721.5 468.7M723.7 443.0L725.8 443.0M723.7 443.0L723.7 468.7M725.8 443.0L725.8 468.7M728.0 442.8L730.1 442.8M728.0 442.8L728.0 468.7M730.1 442.8L730.1 468.7M724.7 441.4L729.0 441.4M724.7 441.4L724.7 443.0M729.0 441.4L729.0 442.8M726.9 438.5L732.3 438.5M726.9 438.5L726.9 441.4M732.3 438.5L732.3 468.7M734.4 440.7L736.6 440.7M734.4 440.7L734.4 468.7M736.6 440.7L736.6 468.7M729.6 435.5L735.5 435.5M729.6 435.5L729.6 438.5M735.5 435.5L735.5 440.7M719.6 433.5L732.6 433.5M719.6 433.5L719.6 438.1M732.6 433.5L732.6 435.5M712.9 430.8L726.1 430.8M712.9 430.8L712.9 468.7M726.1 430.8L726.1 433.5M692.0 429.5L719.5 429.5M692.0 429.5L692.0 431.4M719.5 429.5L719.5 430.8M592.9 426.1L705.7 426.1M592.9 426.1L592.9 428.6M705.7 426.1L705.7 429.5M578.0 424.2L649.3 424.2M578.0 424.2L578.0 440.7M649.3 424.2L649.3 426.1M529.6 422.5L613.7 422.5M529.6 422.5L529.6 424.9M613.7 422.5L613.7 424.2M331.3 421.0L571.6 421.0M331.3 421.0L331.3 422.5M571.6 421.0L571.6 422.5M270.3 419.8L451.5 419.8M270.3 419.8L270.3 430.0M451.5 419.8L451.5 421.0M247.3 418.6L360.9 418.6M247.3 418.6L247.3 425.2M360.9 418.6L360.9 419.8M237.7 417.4L304.1 417.4M237.7 417.4L237.7 435.0M304.1 417.4L304.1 418.6M222.0 416.2L270.9 416.2M222.0 416.2L222.0 424.3M270.9 416.2L270.9 417.4M215.5 415.0L246.4 415.0M215.5 415.0L215.5 441.3M246.4 415.0L246.4 416.2M231.0 413.6L231.0 415.0"/>
</g>
<path fill="none" stroke="#000" stroke-width="1.3" d="M36.5 413.6H227M46.5 413.6V409" />
<path fill="none" stroke="#000" stroke-width="1.0" d="M47 412.6H105" />
<line x1="36" y1="502.7" x2="738" y2="502.7" stroke="#b4b4b4" stroke-width="1.4" stroke-dasharray="3.4 3"/>
<line x1="36" y1="535.2" x2="738" y2="535.2" stroke="#b4b4b4" stroke-width="1.4" stroke-dasharray="3.4 3"/>
<line x1="36" y1="567.9" x2="738" y2="567.9" stroke="#4a4a4a" stroke-width="1.5" stroke-dasharray="3.4 3"/>
<text x="28.2" y="507.7" font-size="14" text-anchor="middle">2</text>
<text x="28.2" y="540.2" font-size="14" text-anchor="middle">4</text>
<text x="28.2" y="572.9" font-size="14" text-anchor="middle">6</text>
<text transform="translate(17.3,538.5) rotate(-90)" font-size="13.8" text-anchor="middle">log<tspan font-size="9.8" dy="4">2</tspan><tspan dy="-4">(species number +1)</tspan></text>
<rect x="81.3" y="469.8" width="2" height="26" fill="#28a0ee"/>
<rect x="82.7" y="469.8" width="2" height="16" fill="#28a0ee"/>
<rect x="93.1" y="469.8" width="2" height="26" fill="#28a0ee"/>
<rect x="98.4" y="469.8" width="2" height="48.9" fill="#28a0ee"/>
<rect x="106.7" y="469.8" width="2" height="16" fill="#28a0ee"/>
<rect x="113.7" y="469.8" width="2" height="16" fill="#28a0ee"/>
<rect x="130.8" y="469.8" width="2" height="69.5" fill="#28a0ee"/>
<rect x="137.6" y="469.8" width="2" height="67.9" fill="#28a0ee"/>
<rect x="152.9" y="469.8" width="2" height="58.5" fill="#28a0ee"/>
<rect x="157.9" y="469.8" width="2" height="81.1" fill="#28a0ee"/>
<rect x="159.6" y="469.8" width="2" height="41.8" fill="#28a0ee"/>
<rect x="169.8" y="469.8" width="2" height="75.8" fill="#28a0ee"/>
<rect x="171.6" y="469.8" width="2" height="99.4" fill="#28a0ee"/>
<rect x="180" y="469.8" width="2" height="124" fill="#28a0ee"/>
<rect x="214.3" y="469.8" width="2" height="110.5" fill="#28a0ee"/>
<rect x="216" y="469.8" width="2" height="16" fill="#28a0ee"/>
<rect x="221.1" y="469.8" width="2" height="76.5" fill="#28a0ee"/>
<rect x="222.9" y="469.8" width="2" height="125.1" fill="#28a0ee"/>
<rect x="245.1" y="469.8" width="2" height="32.5" fill="#28a0ee"/>
<rect x="256.8" y="469.8" width="2" height="41.8" fill="#28a0ee"/>
<rect x="258.6" y="469.8" width="2" height="48.9" fill="#28a0ee"/>
<rect x="260" y="469.8" width="2" height="91.6" fill="#28a0ee"/>
<rect x="280.6" y="469.8" width="2" height="112.2" fill="#28a0ee"/>
<rect x="284.1" y="469.8" width="2" height="74" fill="#28a0ee"/>
<rect x="319.9" y="469.8" width="2" height="16" fill="#28a0ee"/>
<rect x="333.7" y="469.8" width="2" height="16" fill="#28a0ee"/>
<rect x="340.4" y="469.8" width="2" height="16" fill="#28a0ee"/>
<rect x="345.6" y="469.8" width="2" height="114.9" fill="#28a0ee"/>
<rect x="352.1" y="469.8" width="2" height="16" fill="#28a0ee"/>
<rect x="360.8" y="469.8" width="2" height="106.9" fill="#28a0ee"/>
<rect x="379.6" y="469.8" width="2" height="75.8" fill="#28a0ee"/>
<rect x="391.4" y="469.8" width="2" height="105.5" fill="#28a0ee"/>
<rect x="398.1" y="469.8" width="2" height="74.7" fill="#28a0ee"/>
<rect x="411.8" y="469.8" width="2" height="142.2" fill="#28a0ee"/>
<rect x="423.7" y="469.8" width="2" height="32.5" fill="#28a0ee"/>
<rect x="425.5" y="469.8" width="2" height="37.8" fill="#28a0ee"/>
<rect x="432.2" y="469.8" width="2" height="54.2" fill="#28a0ee"/>
<rect x="437.4" y="469.8" width="2" height="118" fill="#28a0ee"/>
<rect x="441" y="469.8" width="2" height="94.1" fill="#28a0ee"/>
<rect x="445.9" y="469.8" width="2" height="16" fill="#28a0ee"/>
<rect x="451.2" y="469.8" width="2" height="16" fill="#28a0ee"/>
<rect x="452.9" y="469.8" width="2" height="82.3" fill="#28a0ee"/>
<rect x="454.7" y="469.8" width="2" height="37.8" fill="#28a0ee"/>
<rect x="461.2" y="469.8" width="2" height="98.1" fill="#28a0ee"/>
<rect x="462.9" y="469.8" width="2" height="26" fill="#28a0ee"/>
<rect x="467.9" y="469.8" width="2" height="117.5" fill="#28a0ee"/>
<rect x="473" y="469.8" width="2" height="45.9" fill="#28a0ee"/>
<rect x="478.1" y="469.8" width="2" height="16" fill="#28a0ee"/>
<rect x="495.5" y="469.8" width="2" height="48.9" fill="#28a0ee"/>
<rect x="497.3" y="469.8" width="2" height="116.2" fill="#28a0ee"/>
<rect x="499" y="469.8" width="2" height="100.4" fill="#28a0ee"/>
<rect x="504" y="469.8" width="2" height="26" fill="#28a0ee"/>
<rect x="509" y="469.8" width="2" height="51.9" fill="#28a0ee"/>
<rect x="514.2" y="469.8" width="2" height="51.9" fill="#28a0ee"/>
<rect x="539.6" y="469.8" width="2" height="26" fill="#28a0ee"/>
<rect x="563.3" y="469.8" width="2" height="37.8" fill="#28a0ee"/>
<rect x="565.1" y="469.8" width="2" height="16" fill="#28a0ee"/>
<rect x="602.8" y="469.8" width="2" height="115.2" fill="#28a0ee"/>
<rect x="612.8" y="469.8" width="2" height="120.1" fill="#28a0ee"/>
<rect x="616.1" y="469.8" width="2" height="16" fill="#28a0ee"/>
<rect x="619.8" y="469.8" width="2" height="104.3" fill="#28a0ee"/>
<rect x="621.1" y="469.8" width="2" height="26" fill="#28a0ee"/>
<rect x="622.8" y="469.8" width="2" height="32.5" fill="#28a0ee"/>
<rect x="631.6" y="469.8" width="2" height="37.8" fill="#28a0ee"/>
<rect x="636.5" y="469.8" width="2" height="32.5" fill="#28a0ee"/>
<rect x="645.1" y="469.8" width="2" height="26" fill="#28a0ee"/>
<rect x="655.7" y="469.8" width="2" height="16" fill="#28a0ee"/>
<rect x="662.4" y="469.8" width="2" height="66.5" fill="#28a0ee"/>
<rect x="680.8" y="469.8" width="2" height="45.9" fill="#28a0ee"/>
<rect x="687.9" y="469.8" width="2" height="26" fill="#28a0ee"/>
<rect x="718.5" y="469.8" width="2" height="32.5" fill="#28a0ee"/>
<rect x="724" y="469.8" width="2" height="98.1" fill="#28a0ee"/>
<text x="87.9" y="594.4" font-size="13.6">Cyperaceae</text>
<text x="229.5" y="594.4" font-size="13.6">Caryophyllaceae</text>
<text x="139.8" y="634.8" font-size="13.6">Papaveraceae</text>
<text x="273.2" y="617.2" font-size="13.6">Primulaceae</text>
<text x="360.6" y="619.3" font-size="13.6">Apiaceae</text>
<text x="320.7" y="637.7" font-size="13.6">Ericaceae</text>
<text x="393.5" y="605.5" font-size="13.6">Gentianaceae</text>
<text x="417" y="637.7" font-size="13.6">Orobanchaceae</text>
<text x="510.3" y="593.2" font-size="13.6">Crassulaceae</text>
<text x="673.4" y="580.1" font-size="13.6">Salicaceae</text>
<text x="527.9" y="622.9" font-size="13.6">Brassicaceae</text>
<text x="600.6" y="638.9" font-size="13.6">Fabaceae</text>
<text x="77.6" y="662.7" font-size="13.6">Poaceae</text>
<text x="197.9" y="662.7" font-size="13.6">Ranunculaceae</text>
<text x="349.5" y="662.7" font-size="13.6">Asteraceae</text>
<text x="488.7" y="662.7" font-size="13.6">Saxifragaceae</text>
<text x="653.7" y="662.7" font-size="13.6">Rosaceae</text>
<line x1="172.9" y1="568.8" x2="161.2" y2="585" stroke="#f00" stroke-width="1.5" stroke-dasharray="4 3.5"/>
<line x1="180.9" y1="593.7" x2="106.9" y2="652.4" stroke="#f00" stroke-width="1.5" stroke-dasharray="4 3.5"/>
<line x1="214.9" y1="580" x2="177.3" y2="623" stroke="#f00" stroke-width="1.5" stroke-dasharray="4 3.5"/>
<line x1="223.7" y1="594.8" x2="247.7" y2="649.5" stroke="#f00" stroke-width="1.5" stroke-dasharray="4 3.5"/>
<line x1="346" y1="585" x2="331.9" y2="606" stroke="#f00" stroke-width="1.5" stroke-dasharray="4 3.5"/>
<line x1="361.8" y1="576.6" x2="358.3" y2="628" stroke="#f00" stroke-width="1.5" stroke-dasharray="4 3.5"/>
<line x1="392.6" y1="574" x2="388.2" y2="608.4" stroke="#f00" stroke-width="1.5" stroke-dasharray="4 3.5"/>
<line x1="412.5" y1="612" x2="384.7" y2="653" stroke="#f00" stroke-width="1.5" stroke-dasharray="4 3.5"/>
<line x1="438" y1="587.8" x2="433" y2="595.8" stroke="#f00" stroke-width="1.5" stroke-dasharray="4 3.5"/>
<line x1="468.9" y1="587.3" x2="465.3" y2="626.6" stroke="#f00" stroke-width="1.5" stroke-dasharray="4 3.5"/>
<line x1="500" y1="570.2" x2="509.2" y2="582.5" stroke="#f00" stroke-width="1.5" stroke-dasharray="4 3.5"/>
<line x1="498.3" y1="586" x2="531.6" y2="651.6" stroke="#f00" stroke-width="1.5" stroke-dasharray="4 3.5"/>
<line x1="603.8" y1="585" x2="589.4" y2="613.5" stroke="#f00" stroke-width="1.5" stroke-dasharray="4 3.5"/>
<line x1="613.8" y1="589.9" x2="634.2" y2="628.5" stroke="#f00" stroke-width="1.5" stroke-dasharray="4 3.5"/>
<line x1="620.8" y1="574.1" x2="686.5" y2="647.9" stroke="#f00" stroke-width="1.5" stroke-dasharray="4 3.5"/>
<defs>
<clipPath id="pc0"><rect x="48.7" y="667.5" width="115.2" height="152.8"/></clipPath>
<clipPath id="pc1"><rect x="185.6" y="667.3" width="114.6" height="153.1"/></clipPath>
<clipPath id="pc2"><rect x="323" y="667.3" width="115.7" height="153.1"/></clipPath>
<clipPath id="pc3"><rect x="460" y="667.8" width="142.8" height="152"/></clipPath>
<clipPath id="pc4"><rect x="624.8" y="667.8" width="114.4" height="152"/></clipPath>
<filter id="pb2" x="-20%" y="-20%" width="140%" height="140%"><feGaussianBlur stdDeviation="2"/></filter>
<filter id="pb4" x="-30%" y="-30%" width="160%" height="160%"><feGaussianBlur stdDeviation="4"/></filter>
<filter id="pb1" x="-20%" y="-20%" width="140%" height="140%"><feGaussianBlur stdDeviation="0.8"/></filter>
<filter id="pgrain" x="0" y="0" width="1" height="1" color-interpolation-filters="sRGB"><feTurbulence type="fractalNoise" baseFrequency="0.45" numOctaves="2" seed="9" result="t"/><feColorMatrix in="t" type="matrix" values="0.33 0.33 0.33 0 0  0.33 0.33 0.33 0 0  0.33 0.33 0.33 0 0  0 0 0 0 1" result="tg"/><feComposite in="SourceGraphic" in2="tg" operator="arithmetic" k1="0" k2="1" k3="0.3" k4="-0.15"/></filter>
<linearGradient id="g1" x1="0" x2="0" y1="0" y2="1"><stop offset="0" stop-color="#9cc46e"/><stop offset="0.5" stop-color="#8fb960"/><stop offset="1" stop-color="#86b058"/></linearGradient>
<linearGradient id="g2" x1="0" x2="0" y1="0" y2="1"><stop offset="0" stop-color="#a09684"/><stop offset="0.45" stop-color="#a89c82"/><stop offset="1" stop-color="#7a7a60"/></linearGradient>
<linearGradient id="g3" x1="0" x2="0" y1="0" y2="1"><stop offset="0" stop-color="#dcdcd8"/><stop offset="0.12" stop-color="#c8ccc0"/><stop offset="0.3" stop-color="#9aa484"/><stop offset="0.5" stop-color="#b4b4aa"/><stop offset="1" stop-color="#8c8c80"/></linearGradient>
<linearGradient id="g5" x1="0" x2="0" y1="0" y2="1"><stop offset="0" stop-color="#4a6a2c"/><stop offset="1" stop-color="#2c4a1e"/></linearGradient>
</defs>
<g clip-path="url(#pc0)"><g filter="url(#pgrain)">
<rect x="48.7" y="667.5" width="115.2" height="152.8" fill="url(#g1)"/>
<g filter="url(#pb4)">
<ellipse cx="100" cy="745" rx="26" ry="40" fill="#a4b48c" opacity="0.35"/>
<ellipse cx="58" cy="800" rx="16" ry="26" fill="#74a444" opacity="0.6"/>
<ellipse cx="155" cy="770" rx="14" ry="40" fill="#78a848" opacity="0.5"/>
<ellipse cx="110" cy="682" rx="50" ry="12" fill="#a8ce7c" opacity="0.7"/>
<ellipse cx="70" cy="720" rx="18" ry="14" fill="#96c466" opacity="0.6"/>
</g>
<path d="M76.9 761.8l-1.0 -25.9M120.7 698.6l-3.9 -31.3M79.3 720.9l4.0 -22.8M144.5 752.9l1.1 -15.5M121.7 804.6l0.2 -29.0M125.9 698.5l2.1 -25.6M84.0 694.1l2.9 -22.9M131.2 806.0l1.7 -33.2M94.6 795.7l-0.4 -33.5M149.3 702.9l-2.9 -17.0M159.1 747.6l1.0 -18.9M107.3 740.9l-1.2 -25.5M116.0 809.4l1.5 -33.4M146.8 820.8l1.4 -15.8M147.3 817.3l3.2 -25.1M130.7 717.9l2.7 -25.2M82.2 698.4l2.8 -34.8M60.0 795.7l-0.7 -15.5M83.2 791.5l3.0 -13.0M119.4 695.9l1.7 -19.6M149.5 819.4l0.0 -35.0M85.0 700.2l0.8 -12.7M72.3 743.8l0.9 -15.6M54.8 804.5l-1.5 -34.0M151.3 739.9l-0.3 -24.0M122.8 768.6l0.5 -26.3M156.3 756.9l-0.6 -28.6M76.9 729.7l3.8 -24.0M112.0 691.5l-0.7 -25.3M52.3 771.3l1.1 -13.4M120.9 751.5l1.4 -20.1M129.9 787.4l-3.8 -13.4M126.4 817.2l-2.0 -22.5M117.0 732.2l-1.1 -19.2M91.7 768.6l-1.6 -20.7M137.3 693.6l0.6 -28.9M85.0 719.4l2.4 -17.5M71.2 747.5l1.6 -14.3M86.4 734.1l2.7 -22.1M146.7 712.3l-1.3 -27.0M150.0 749.5l-2.2 -14.8M109.8 715.2l2.5 -31.3M70.7 726.8l2.5 -26.8M141.1 735.6l-3.0 -18.7M139.7 725.8l-1.2 -21.6M97.4 744.1l3.4 -15.6M50.5 814.5l3.0 -34.7M99.1 815.4l3.4 -17.1M134.2 800.4l1.3 -23.9M82.7 735.0l-2.2 -13.6M116.5 727.9l2.5 -13.0M152.1 781.6l3.4 -32.6M151.7 766.2l-3.9 -29.1M69.4 729.6l1.3 -24.1M96.8 814.0l0.9 -19.9M78.5 803.7l-0.2 -30.0M89.8 716.0l0.3 -30.8M69.4 794.5l3.4 -30.5M143.1 691.0l1.0 -31.8M55.6 725.8l-1.9 -24.1M97.8 752.4l2.2 -12.0M56.2 706.7l-3.0 -13.6M160.1 802.8l-3.3 -23.5M85.7 731.5l-1.2 -26.9M116.3 737.6l-2.5 -19.6M64.0 763.3l1.7 -20.7M59.0 713.6l-1.0 -25.9M138.4 740.2l2.4 -26.3M98.8 739.2l-0.0 -28.2M97.5 781.6l-0.3 -17.6M110.5 781.8l-3.4 -21.8M98.1 806.1l3.5 -20.6M151.5 794.4l-1.9 -22.7M63.9 797.3l1.3 -32.4M139.5 778.1l1.9 -25.0M61.7 767.6l-4.0 -15.3M137.5 695.8l-3.3 -14.3M149.5 713.6l-3.8 -31.4M63.7 801.4l1.4 -31.2M157.6 766.4l2.4 -12.8M136.7 757.5l1.7 -14.5M134.6 813.4l-3.5 -19.5M113.7 799.3l-2.1 -16.1M78.2 771.3l2.0 -21.1M91.5 742.4l-1.2 -21.6M59.4 756.0l3.8 -21.5M134.5 711.2l1.5 -29.4M126.1 758.3l-0.1 -26.8M151.4 709.7l-3.2 -29.2M153.6 758.3l-0.5 -28.5" stroke="#70a03e" stroke-width="0.8" fill="none" opacity="0.55"/>
<path d="M86.2 716.0l-1.8 21.7M93.9 713.9l1.1 29.1M92.8 742.3l-0.5 27.1M110.1 716.0l-1.7 10.5M103.8 723.0l-2.0 17.2M94.3 746.5l-2.1 29.8M103.8 735.9l-0.2 26.7M124.3 733.4l-0.1 24.4M126.4 724.0l1.4 29.2M103.0 713.8l-1.6 24.4M115.5 757.5l2.1 14.8M86.4 715.5l-1.9 24.1M126.5 754.0l-1.5 27.3M93.8 725.4l1.4 11.7M80.6 750.0l-1.2 17.1M109.8 740.5l-3.0 16.7M101.2 729.2l-1.7 21.7M132.3 723.5l0.3 12.4M91.5 739.9l-2.3 27.7M129.5 705.8l2.6 17.5M121.3 745.4l-1.2 23.5M114.2 748.4l-1.4 25.1M132.7 740.4l0.2 12.3M104.6 721.1l1.3 23.6M109.0 710.9l0.9 22.6" stroke="#a8a8a0" stroke-width="0.7" fill="none" opacity="0.5"/>
</g></g>
<rect x="48.7" y="667.5" width="115.2" height="152.8" fill="none" stroke="#222" stroke-width="1.3"/>
<g clip-path="url(#pc1)"><g filter="url(#pgrain)">
<rect x="185.6" y="667.3" width="114.6" height="153.1" fill="url(#g2)"/>
<g filter="url(#pb4)">
<ellipse cx="205" cy="682" rx="26" ry="16" fill="#7c766a"/>
<ellipse cx="272" cy="688" rx="30" ry="18" fill="#aea48e"/>
<ellipse cx="232" cy="700" rx="25" ry="10" fill="#b4a890"/>
<ellipse cx="283" cy="735" rx="22" ry="12" fill="#d2c4a4"/>
<ellipse cx="212" cy="735" rx="22" ry="10" fill="#b6a888"/>
<ellipse cx="245" cy="780" rx="44" ry="20" fill="#45683c"/>
<ellipse cx="200" cy="768" rx="14" ry="14" fill="#587a46"/>
<ellipse cx="292" cy="765" rx="10" ry="14" fill="#5a8048"/>
<ellipse cx="287" cy="808" rx="22" ry="14" fill="#cdb68e"/>
<ellipse cx="200" cy="808" rx="16" ry="12" fill="#6a685a"/>
</g>
<path d="M190 760 Q230 745 275 740 M195 792 Q240 772 292 778 M222 722 Q250 702 272 692 M188 738 Q205 732 226 742 M260 760 Q280 752 298 750 M200 812 Q230 800 260 805" stroke="#d2c29e" stroke-width="2" fill="none" opacity="0.75" filter="url(#pb1)"/>
<path d="M270 745 L262 785 M282 770 L292 800" stroke="#8a6a3a" stroke-width="3" fill="none" opacity="0.6" filter="url(#pb1)"/>
<g filter="url(#pb1)">
<path d="M243 706 Q250 730 251 760 L252 785" stroke="#6a3a40" stroke-width="1.3" fill="none"/>
<circle cx="224" cy="714" r="2.8" fill="#a63c4c"/>
<circle cx="229" cy="710" r="2.8" fill="#a63c4c"/>
<circle cx="233" cy="716" r="2.8" fill="#a63c4c"/>
<circle cx="238" cy="712" r="2.8" fill="#a63c4c"/>
<circle cx="233" cy="722" r="2.8" fill="#a63c4c"/>
<circle cx="238" cy="727" r="2.8" fill="#a63c4c"/>
<circle cx="241" cy="721" r="2.8" fill="#a63c4c"/>
<circle cx="249" cy="707" r="2.8" fill="#a63c4c"/>
<circle cx="254" cy="708" r="2.8" fill="#a63c4c"/>
<circle cx="256" cy="741" r="2.8" fill="#a63c4c"/>
<circle cx="258" cy="746" r="2.8" fill="#a63c4c"/>
<circle cx="255" cy="749" r="2.8" fill="#a63c4c"/>
<circle cx="244" cy="776" r="2.8" fill="#a63c4c"/>
<circle cx="247" cy="780" r="2.8" fill="#a63c4c"/>
<circle cx="226" cy="719" r="2.8" fill="#a63c4c"/>
<circle cx="252" cy="713" r="2.8" fill="#a63c4c"/>
</g>
</g></g>
<rect x="185.6" y="667.3" width="114.6" height="153.1" fill="none" stroke="#222" stroke-width="1.3"/>
<g clip-path="url(#pc2)"><g filter="url(#pgrain)">
<rect x="323" y="667.3" width="115.7" height="153.1" fill="url(#g3)"/>
<g filter="url(#pb2)">
<rect x="323" y="667" width="116" height="12" fill="#e2e2de"/>
<ellipse cx="333" cy="696" rx="12" ry="12" fill="#d6d6d0"/>
<ellipse cx="355" cy="708" rx="26" ry="16" fill="#6e8654" opacity="0.9"/>
<ellipse cx="400" cy="700" rx="28" ry="10" fill="#8a9a72" opacity="0.8"/>
<ellipse cx="418" cy="724" rx="24" ry="12" fill="#c8c8c0"/>
<ellipse cx="368" cy="765" rx="34" ry="22" fill="#c4c2b8"/>
<ellipse cx="329" cy="755" rx="8" ry="16" fill="#a6a498"/>
<ellipse cx="432" cy="765" rx="10" ry="22" fill="#c6c6be"/>
<ellipse cx="406" cy="770" rx="12" ry="12" fill="#5a7a48"/>
<ellipse cx="378" cy="783" rx="18" ry="8" fill="#4e6c3e"/>
<ellipse cx="418" cy="805" rx="24" ry="16" fill="#b8b8ae"/>
<ellipse cx="340" cy="805" rx="20" ry="16" fill="#5c6450"/>
</g>
<g filter="url(#pb1)">
<ellipse cx="394.4" cy="744.4" rx="13" ry="4.5" transform="rotate(5.7 394.4 744.4)" fill="#bea4e6"/>
<ellipse cx="392.9" cy="749.1" rx="13" ry="4.5" transform="rotate(25.7 392.9 749.1)" fill="#cab0ee"/>
<ellipse cx="389.7" cy="753.0" rx="13" ry="4.5" transform="rotate(45.7 389.7 753.0)" fill="#bea4e6"/>
<ellipse cx="385.1" cy="755.8" rx="13" ry="4.5" transform="rotate(65.7 385.1 755.8)" fill="#cab0ee"/>
<ellipse cx="379.7" cy="757.0" rx="13" ry="4.5" transform="rotate(85.7 379.7 757.0)" fill="#bea4e6"/>
<ellipse cx="374.2" cy="756.5" rx="13" ry="4.5" transform="rotate(105.7 374.2 756.5)" fill="#cab0ee"/>
<ellipse cx="369.2" cy="754.4" rx="13" ry="4.5" transform="rotate(125.7 369.2 754.4)" fill="#bea4e6"/>
<ellipse cx="365.3" cy="750.9" rx="13" ry="4.5" transform="rotate(145.7 365.3 750.9)" fill="#cab0ee"/>
<ellipse cx="363.0" cy="746.5" rx="13" ry="4.5" transform="rotate(165.7 363.0 746.5)" fill="#bea4e6"/>
<ellipse cx="362.6" cy="741.6" rx="13" ry="4.5" transform="rotate(185.7 362.6 741.6)" fill="#cab0ee"/>
<ellipse cx="364.1" cy="736.9" rx="13" ry="4.5" transform="rotate(205.7 364.1 736.9)" fill="#bea4e6"/>
<ellipse cx="367.3" cy="733.0" rx="13" ry="4.5" transform="rotate(225.7 367.3 733.0)" fill="#cab0ee"/>
<ellipse cx="371.9" cy="730.2" rx="13" ry="4.5" transform="rotate(245.7 371.9 730.2)" fill="#bea4e6"/>
<ellipse cx="377.3" cy="729.0" rx="13" ry="4.5" transform="rotate(265.7 377.3 729.0)" fill="#cab0ee"/>
<ellipse cx="382.8" cy="729.5" rx="13" ry="4.5" transform="rotate(285.7 382.8 729.5)" fill="#bea4e6"/>
<ellipse cx="387.8" cy="731.6" rx="13" ry="4.5" transform="rotate(305.7 387.8 731.6)" fill="#cab0ee"/>
<ellipse cx="391.7" cy="735.1" rx="13" ry="4.5" transform="rotate(325.7 391.7 735.1)" fill="#bea4e6"/>
<ellipse cx="394.0" cy="739.5" rx="13" ry="4.5" transform="rotate(345.7 394.0 739.5)" fill="#cab0ee"/>
<circle cx="378.5" cy="741.4" r="7.5" fill="#f2d020"/>
</g>
</g></g>
<rect x="323" y="667.3" width="115.7" height="153.1" fill="none" stroke="#222" stroke-width="1.3"/>
<g clip-path="url(#pc3)"><g filter="url(#pgrain)">
<rect x="460" y="667.8" width="142.8" height="152" fill="#8e3a70"/>
<g filter="url(#pb2)">
<rect x="460" y="664" width="143" height="22" fill="#f6f0f2"/>
<rect x="555" y="664" width="50" height="60" fill="#f4f2f0"/>
<ellipse cx="466" cy="715" rx="8" ry="30" fill="#ecd8d0"/>
<ellipse cx="585" cy="765" rx="20" ry="42" fill="#58984a"/>
<ellipse cx="503" cy="755" rx="20" ry="16" fill="#3e7a32"/>
<ellipse cx="470" cy="735" rx="10" ry="8" fill="#dce4cc"/>
<path d="M601 664 L571 772" stroke="#e27a5a" stroke-width="9" fill="none"/>
<ellipse cx="505" cy="672" rx="6" ry="7" fill="#e06a98"/>
<ellipse cx="560" cy="676" rx="12" ry="10" fill="#d870b0"/>
<ellipse cx="533" cy="718" rx="37" ry="37" fill="#e454b6"/>
<ellipse cx="522" cy="700" rx="18" ry="14" fill="#ec6cc4" opacity="0.8"/>
<ellipse cx="548" cy="698" rx="12" ry="12" fill="#ee70c6" opacity="0.8"/>
<ellipse cx="482" cy="712" rx="19" ry="28" fill="#da4cac"/>
<ellipse cx="542" cy="774" rx="32" ry="18" fill="#dc4aae"/>
<ellipse cx="584" cy="798" rx="18" ry="17" fill="#d44aa8"/>
<ellipse cx="470" cy="768" rx="12" ry="20" fill="#c8449c"/>
<ellipse cx="485" cy="805" rx="26" ry="18" fill="#822a50"/>
<ellipse cx="520" cy="812" rx="14" ry="10" fill="#a0306a"/>
<ellipse cx="537" cy="720" rx="7" ry="7" fill="#a84080" opacity="0.8"/>
<ellipse cx="567" cy="740" rx="8" ry="14" fill="#e05ab4"/>
</g>
</g></g>
<rect x="460" y="667.8" width="142.8" height="152" fill="none" stroke="#222" stroke-width="1.3"/>
<g clip-path="url(#pc4)"><g filter="url(#pgrain)">
<rect x="624.8" y="667.8" width="114.4" height="152" fill="url(#g5)"/>
<g filter="url(#pb2)">
<ellipse cx="728" cy="705" rx="14" ry="26" fill="#e6ece4"/>
<ellipse cx="634" cy="712" rx="10" ry="14" fill="#e2e8de"/>
<ellipse cx="695" cy="695" rx="6" ry="6" fill="#dfe6dc"/>
<ellipse cx="660" cy="736" rx="22" ry="9" fill="#78ac4a" transform="rotate(-20 660 736)"/>
<ellipse cx="718" cy="748" rx="18" ry="12" fill="#72a646" transform="rotate(20 718 748)"/>
<ellipse cx="667" cy="760" rx="7" ry="16" fill="#6aa040"/>
<ellipse cx="660" cy="795" rx="10" ry="18" fill="#5e9438" transform="rotate(20 660 795)"/>
<ellipse cx="728" cy="800" rx="10" ry="14" fill="#5a8e36"/>
<ellipse cx="640" cy="780" rx="14" ry="40" fill="#263e1a"/>
</g>
<g filter="url(#pb1)"><circle cx="637" cy="670" r="5.4" fill="#eeb026"/><circle cx="635.65" cy="668.65" r="2.7" fill="#f8d450" opacity="0.85"/><circle cx="646" cy="676" r="5.4" fill="#eeb026"/><circle cx="644.65" cy="674.65" r="2.7" fill="#f8d450" opacity="0.85"/><circle cx="654" cy="681" r="5.4" fill="#eeb026"/><circle cx="652.65" cy="679.65" r="2.7" fill="#f8d450" opacity="0.85"/><circle cx="643" cy="686" r="4.8" fill="#eeb026"/><circle cx="641.8" cy="684.8" r="2.4" fill="#f8d450" opacity="0.85"/><circle cx="684" cy="672" r="4.8" fill="#eeb026"/><circle cx="682.8" cy="670.8" r="2.4" fill="#f8d450" opacity="0.85"/><circle cx="690" cy="677" r="4.8" fill="#eeb026"/><circle cx="688.8" cy="675.8" r="2.4" fill="#f8d450" opacity="0.85"/><circle cx="712" cy="670" r="5.4" fill="#eeb026"/><circle cx="710.65" cy="668.65" r="2.7" fill="#f8d450" opacity="0.85"/><circle cx="720" cy="676" r="5.4" fill="#eeb026"/><circle cx="718.65" cy="674.65" r="2.7" fill="#f8d450" opacity="0.85"/><circle cx="727" cy="672" r="4.8" fill="#eeb026"/><circle cx="725.8" cy="670.8" r="2.4" fill="#f8d450" opacity="0.85"/><circle cx="718" cy="684" r="4.8" fill="#eeb026"/><circle cx="716.8" cy="682.8" r="2.4" fill="#f8d450" opacity="0.85"/><circle cx="663" cy="698" r="7.2" fill="#eeb026"/><circle cx="661.2" cy="696.2" r="3.6" fill="#f8d450" opacity="0.85"/><circle cx="671" cy="692" r="6.6" fill="#eeb026"/><circle cx="669.35" cy="690.35" r="3.3" fill="#f8d450" opacity="0.85"/><circle cx="681" cy="695" r="6.6" fill="#eeb026"/><circle cx="679.35" cy="693.35" r="3.3" fill="#f8d450" opacity="0.85"/><circle cx="661" cy="711" r="7.2" fill="#eeb026"/><circle cx="659.2" cy="709.2" r="3.6" fill="#f8d450" opacity="0.85"/><circle cx="669" cy="707" r="7.2" fill="#eeb026"/><circle cx="667.2" cy="705.2" r="3.6" fill="#f8d450" opacity="0.85"/><circle cx="684" cy="704" r="7.2" fill="#eeb026"/><circle cx="682.2" cy="702.2" r="3.6" fill="#f8d450" opacity="0.85"/><circle cx="690" cy="713" r="7.2" fill="#eeb026"/><circle cx="688.2" cy="711.2" r="3.6" fill="#f8d450" opacity="0.85"/><circle cx="694" cy="724" r="6.6" fill="#eeb026"/><circle cx="692.35" cy="722.35" r="3.3" fill="#f8d450" opacity="0.85"/><circle cx="671" cy="721" r="7.8" fill="#eeb026"/><circle cx="669.05" cy="719.05" r="3.9" fill="#f8d450" opacity="0.85"/><circle cx="656" cy="720" r="6.6" fill="#eeb026"/><circle cx="654.35" cy="718.35" r="3.3" fill="#f8d450" opacity="0.85"/><circle cx="678" cy="728" r="7.2" fill="#eeb026"/><circle cx="676.2" cy="726.2" r="3.6" fill="#f8d450" opacity="0.85"/><circle cx="686" cy="731" r="6" fill="#eeb026"/><circle cx="684.5" cy="729.5" r="3" fill="#f8d450" opacity="0.85"/><circle cx="701" cy="732" r="5.4" fill="#eeb026"/><circle cx="699.65" cy="730.65" r="2.7" fill="#f8d450" opacity="0.85"/><circle cx="709" cy="737" r="5.4" fill="#eeb026"/><circle cx="707.65" cy="735.65" r="2.7" fill="#f8d450" opacity="0.85"/><circle cx="712" cy="744" r="4.8" fill="#eeb026"/><circle cx="710.8" cy="742.8" r="2.4" fill="#f8d450" opacity="0.85"/><circle cx="671" cy="752" r="5.4" fill="#eeb026"/><circle cx="669.65" cy="750.65" r="2.7" fill="#f8d450" opacity="0.85"/><circle cx="680" cy="748" r="4.8" fill="#eeb026"/><circle cx="678.8" cy="746.8" r="2.4" fill="#f8d450" opacity="0.85"/><circle cx="690" cy="752" r="6" fill="#eeb026"/><circle cx="688.5" cy="750.5" r="3" fill="#f8d450" opacity="0.85"/><circle cx="700" cy="752" r="6.6" fill="#eeb026"/><circle cx="698.35" cy="750.35" r="3.3" fill="#f8d450" opacity="0.85"/><circle cx="690" cy="763" r="7.2" fill="#eeb026"/><circle cx="688.2" cy="761.2" r="3.6" fill="#f8d450" opacity="0.85"/><circle cx="702" cy="767" r="7.2" fill="#eeb026"/><circle cx="700.2" cy="765.2" r="3.6" fill="#f8d450" opacity="0.85"/><circle cx="679" cy="771" r="6" fill="#eeb026"/><circle cx="677.5" cy="769.5" r="3" fill="#f8d450" opacity="0.85"/><circle cx="687" cy="780" r="6.6" fill="#eeb026"/><circle cx="685.35" cy="778.35" r="3.3" fill="#f8d450" opacity="0.85"/><circle cx="697" cy="777" r="6" fill="#eeb026"/><circle cx="695.5" cy="775.5" r="3" fill="#f8d450" opacity="0.85"/><circle cx="713" cy="775" r="6" fill="#eeb026"/><circle cx="711.5" cy="773.5" r="3" fill="#f8d450" opacity="0.85"/><circle cx="716" cy="787" r="6" fill="#eeb026"/><circle cx="714.5" cy="785.5" r="3" fill="#f8d450" opacity="0.85"/><circle cx="705" cy="791" r="7.2" fill="#eeb026"/><circle cx="703.2" cy="789.2" r="3.6" fill="#f8d450" opacity="0.85"/><circle cx="690" cy="796" r="7.2" fill="#eeb026"/><circle cx="688.2" cy="794.2" r="3.6" fill="#f8d450" opacity="0.85"/><circle cx="680" cy="803" r="7.2" fill="#eeb026"/><circle cx="678.2" cy="801.2" r="3.6" fill="#f8d450" opacity="0.85"/><circle cx="700" cy="805" r="8.4" fill="#eeb026"/><circle cx="697.9" cy="802.9" r="4.2" fill="#f8d450" opacity="0.85"/><circle cx="712" cy="800" r="7.2" fill="#eeb026"/><circle cx="710.2" cy="798.2" r="3.6" fill="#f8d450" opacity="0.85"/><circle cx="690" cy="813" r="7.2" fill="#eeb026"/><circle cx="688.2" cy="811.2" r="3.6" fill="#f8d450" opacity="0.85"/><circle cx="707" cy="815" r="7.2" fill="#eeb026"/><circle cx="705.2" cy="813.2" r="3.6" fill="#f8d450" opacity="0.85"/><circle cx="722" cy="812" r="4.8" fill="#eeb026"/><circle cx="720.8" cy="810.8" r="2.4" fill="#f8d450" opacity="0.85"/></g>
</g></g>
<rect x="624.8" y="667.8" width="114.4" height="152" fill="none" stroke="#222" stroke-width="1.3"/>
<text x="105" y="794.9" font-size="13.6" font-weight="bold" font-style="italic" text-anchor="middle" style="fill:#fff">Deschampsia</text>
<text x="107.7" y="810.9" font-size="13.6" font-weight="bold" font-style="italic" text-anchor="middle" style="fill:#fff">cespitosa</text>
<text x="245.2" y="794" font-size="13.6" font-weight="bold" font-style="italic" text-anchor="middle" style="fill:#fff">Thalictrum</text>
<text x="247.5" y="810.9" font-size="13.6" font-weight="bold" font-style="italic" text-anchor="middle" style="fill:#fff">alpinum</text>
<text x="381.3" y="801.6" font-size="13.6" font-weight="bold" font-style="italic" text-anchor="middle" style="fill:#fff">Aster alpinus</text>
<text x="532.5" y="795.4" font-size="13.6" font-weight="bold" font-style="italic" text-anchor="middle" style="fill:#fff">Bergenia</text>
<text x="533" y="812.1" font-size="13.6" font-weight="bold" font-style="italic" text-anchor="middle" style="fill:#fff">purpurascens</text>
<text x="686" y="794" font-size="13.6" font-weight="bold" font-style="italic" text-anchor="middle" style="fill:#fff">Malus</text>
<text x="685" y="810" font-size="13.6" font-weight="bold" font-style="italic" text-anchor="middle" style="fill:#fff">transitoria</text>
</svg></body></html>
